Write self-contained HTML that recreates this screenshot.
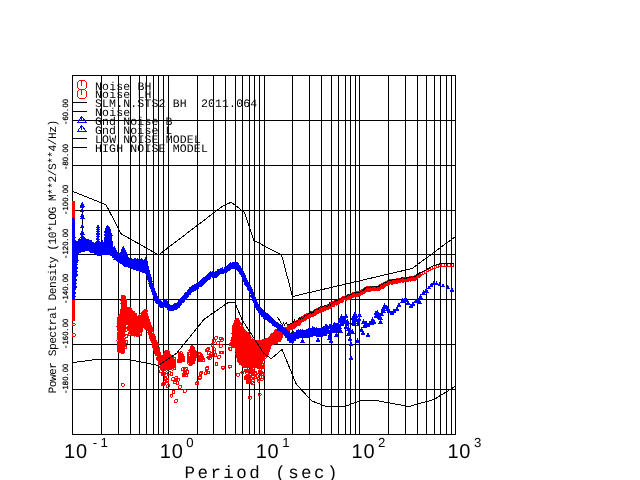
<!DOCTYPE html>
<html><head><meta charset="utf-8"><title>Noise PSD</title>
<style>html,body{margin:0;padding:0;background:#fff}body{width:640px;height:480px;overflow:hidden;position:relative}svg{display:block;position:absolute;left:0;top:0}</style>
</head><body>
<svg width="640" height="480" viewBox="0 0 640 480" shape-rendering="crispEdges">
<rect width="640" height="480" fill="#fff"/>
<path d="M72.5 75V435M101.5 75V435M118.5 75V435M130.5 75V435M139.5 75V435M146.5 75V435M153.5 75V435M158.5 75V435M163.5 75V435M168.5 75V435M197.5 75V435M213.5 75V435M225.5 75V435M235.5 75V435M242.5 75V435M249.5 75V435M254.5 75V435M259.5 75V435M264.5 75V435M292.5 75V435M309.5 75V435M321.5 75V435M331.5 75V435M338.5 75V435M345.5 75V435M350.5 75V435M355.5 75V435M359.5 75V435M388.5 75V435M405.5 75V435M417.5 75V435M426.5 75V435M434.5 75V435M440.5 75V435M446.5 75V435M451.5 75V435M455.5 75V435M72 75.5H456M72 120.5H456M72 165.5H456M72 210.5H456M72 254.5H456M72 299.5H456M72 344.5H456M72 389.5H456M72 434.5H456" stroke="#000" stroke-width="1" fill="none"/>
<defs><clipPath id="c"><rect x="72" y="75" width="384" height="360"/></clipPath></defs>
<g clip-path="url(#c)">
<g stroke="#f00" fill="none" stroke-width="1">
<circle cx="73.5" cy="203.0" r="1.5"/><circle cx="73.5" cy="204.2" r="1.5"/><circle cx="73.5" cy="205.4" r="1.5"/><circle cx="73.5" cy="206.6" r="1.5"/><circle cx="73.5" cy="207.8" r="1.5"/><circle cx="73.5" cy="209.0" r="1.5"/><circle cx="73.5" cy="210.2" r="1.5"/><circle cx="73.5" cy="211.4" r="1.5"/><circle cx="73.5" cy="212.6" r="1.5"/><circle cx="73.5" cy="213.8" r="1.5"/><circle cx="73.5" cy="215.0" r="1.5"/><circle cx="73.5" cy="216.2" r="1.5"/><circle cx="73.5" cy="217.4" r="1.5"/><circle cx="73.5" cy="218.6" r="1.5"/><circle cx="73.5" cy="219.8" r="1.5"/><circle cx="73.5" cy="221.0" r="1.5"/><circle cx="73.5" cy="222.2" r="1.5"/><circle cx="73.5" cy="223.4" r="1.5"/><circle cx="73.5" cy="224.6" r="1.5"/><circle cx="73.5" cy="225.8" r="1.5"/><circle cx="73.5" cy="227.0" r="1.5"/><circle cx="73.5" cy="228.2" r="1.5"/><circle cx="73.5" cy="229.4" r="1.5"/><circle cx="73.5" cy="230.6" r="1.5"/><circle cx="73.5" cy="231.8" r="1.5"/><circle cx="73.5" cy="233.0" r="1.5"/><circle cx="73.5" cy="234.2" r="1.5"/><circle cx="73.5" cy="235.4" r="1.5"/><circle cx="73.5" cy="236.6" r="1.5"/><circle cx="73.5" cy="237.8" r="1.5"/><circle cx="73.5" cy="239.0" r="1.5"/><circle cx="73.5" cy="240.2" r="1.5"/><circle cx="73.5" cy="241.4" r="1.5"/><circle cx="73.5" cy="242.6" r="1.5"/><circle cx="73.5" cy="243.8" r="1.5"/><circle cx="73.5" cy="245.0" r="1.5"/><circle cx="73.5" cy="246.2" r="1.5"/><circle cx="73.5" cy="247.4" r="1.5"/><circle cx="73.5" cy="248.6" r="1.5"/><circle cx="73.5" cy="249.8" r="1.5"/><circle cx="73.5" cy="251.0" r="1.5"/><circle cx="73.5" cy="252.2" r="1.5"/><circle cx="73.5" cy="253.4" r="1.5"/><circle cx="73.5" cy="254.6" r="1.5"/><circle cx="73.5" cy="255.8" r="1.5"/><circle cx="73.5" cy="257.0" r="1.5"/><circle cx="73.5" cy="258.2" r="1.5"/><circle cx="73.5" cy="259.4" r="1.5"/><circle cx="73.5" cy="260.6" r="1.5"/><circle cx="73.5" cy="261.8" r="1.5"/><circle cx="73.5" cy="263.0" r="1.5"/><circle cx="73.5" cy="264.2" r="1.5"/><circle cx="73.5" cy="265.4" r="1.5"/><circle cx="73.5" cy="266.6" r="1.5"/><circle cx="73.5" cy="267.8" r="1.5"/><circle cx="73.5" cy="269.0" r="1.5"/><circle cx="73.5" cy="270.2" r="1.5"/><circle cx="73.5" cy="271.4" r="1.5"/><circle cx="73.5" cy="272.6" r="1.5"/><circle cx="73.5" cy="273.8" r="1.5"/><circle cx="73.5" cy="275.0" r="1.5"/><circle cx="73.5" cy="276.2" r="1.5"/><circle cx="73.5" cy="277.4" r="1.5"/><circle cx="73.5" cy="278.6" r="1.5"/><circle cx="73.5" cy="279.8" r="1.5"/><circle cx="73.5" cy="281.0" r="1.5"/><circle cx="73.5" cy="282.2" r="1.5"/><circle cx="73.5" cy="283.4" r="1.5"/><circle cx="73.5" cy="284.6" r="1.5"/><circle cx="73.5" cy="285.8" r="1.5"/><circle cx="73.5" cy="287.0" r="1.5"/><circle cx="73.5" cy="288.2" r="1.5"/><circle cx="73.5" cy="289.4" r="1.5"/><circle cx="73.5" cy="290.6" r="1.5"/><circle cx="73.5" cy="291.8" r="1.5"/><circle cx="73.5" cy="293.0" r="1.5"/><circle cx="73.5" cy="294.2" r="1.5"/><circle cx="73.5" cy="295.4" r="1.5"/><circle cx="73.5" cy="296.6" r="1.5"/><circle cx="73.5" cy="297.8" r="1.5"/><circle cx="73.5" cy="299.0" r="1.5"/><circle cx="73.5" cy="300.2" r="1.5"/><circle cx="73.5" cy="301.4" r="1.5"/><circle cx="73.5" cy="302.6" r="1.5"/><circle cx="73.5" cy="303.8" r="1.5"/><circle cx="73.5" cy="305.0" r="1.5"/><circle cx="73.5" cy="306.2" r="1.5"/><circle cx="73.5" cy="307.4" r="1.5"/><circle cx="73.5" cy="308.6" r="1.5"/><circle cx="73.5" cy="309.8" r="1.5"/><circle cx="73.5" cy="311.0" r="1.5"/><circle cx="73.5" cy="312.2" r="1.5"/><circle cx="73.5" cy="313.4" r="1.5"/><circle cx="73.5" cy="314.6" r="1.5"/><circle cx="73.5" cy="315.8" r="1.5"/><circle cx="73.5" cy="317.0" r="1.5"/><circle cx="73.5" cy="318.2" r="1.5"/><circle cx="73.5" cy="319.4" r="1.5"/><circle cx="73.7" cy="324.5" r="1.5"/><circle cx="73.7" cy="335.0" r="1.5"/><circle cx="118.8" cy="318.6" r="1.5"/><circle cx="119.2" cy="320.2" r="1.5"/><circle cx="118.8" cy="322.0" r="1.5"/><circle cx="118.5" cy="323.6" r="1.5"/><circle cx="118.9" cy="325.6" r="1.5"/><circle cx="118.4" cy="326.8" r="1.5"/><circle cx="118.4" cy="329.0" r="1.5"/><circle cx="119.0" cy="329.9" r="1.5"/><circle cx="119.3" cy="332.6" r="1.5"/><circle cx="119.0" cy="333.9" r="1.5"/><circle cx="118.5" cy="335.0" r="1.5"/><circle cx="118.8" cy="336.8" r="1.5"/><circle cx="118.5" cy="338.6" r="1.5"/><circle cx="118.3" cy="340.6" r="1.5"/><circle cx="118.7" cy="342.6" r="1.5"/><circle cx="118.8" cy="344.1" r="1.5"/><circle cx="118.8" cy="345.9" r="1.5"/><circle cx="118.8" cy="347.2" r="1.5"/><circle cx="119.3" cy="349.6" r="1.5"/><circle cx="119.1" cy="351.0" r="1.5"/><circle cx="119.5" cy="316.7" r="1.5"/><circle cx="119.5" cy="318.3" r="1.5"/><circle cx="120.0" cy="320.3" r="1.5"/><circle cx="120.0" cy="322.0" r="1.5"/><circle cx="120.2" cy="324.1" r="1.5"/><circle cx="119.2" cy="325.2" r="1.5"/><circle cx="120.1" cy="327.2" r="1.5"/><circle cx="120.2" cy="328.8" r="1.5"/><circle cx="119.3" cy="330.7" r="1.5"/><circle cx="120.0" cy="332.1" r="1.5"/><circle cx="119.3" cy="333.8" r="1.5"/><circle cx="120.2" cy="336.0" r="1.5"/><circle cx="119.3" cy="337.1" r="1.5"/><circle cx="119.3" cy="338.7" r="1.5"/><circle cx="120.0" cy="340.5" r="1.5"/><circle cx="119.8" cy="342.4" r="1.5"/><circle cx="119.4" cy="344.4" r="1.5"/><circle cx="119.3" cy="346.0" r="1.5"/><circle cx="119.3" cy="347.5" r="1.5"/><circle cx="119.4" cy="349.1" r="1.5"/><circle cx="120.2" cy="351.3" r="1.5"/><circle cx="120.4" cy="315.9" r="1.5"/><circle cx="120.3" cy="317.1" r="1.5"/><circle cx="121.0" cy="319.0" r="1.5"/><circle cx="120.2" cy="321.1" r="1.5"/><circle cx="120.3" cy="322.1" r="1.5"/><circle cx="120.9" cy="323.8" r="1.5"/><circle cx="120.4" cy="325.3" r="1.5"/><circle cx="120.2" cy="327.5" r="1.5"/><circle cx="120.3" cy="329.2" r="1.5"/><circle cx="120.5" cy="330.8" r="1.5"/><circle cx="121.1" cy="332.5" r="1.5"/><circle cx="120.7" cy="334.6" r="1.5"/><circle cx="120.3" cy="335.6" r="1.5"/><circle cx="121.0" cy="337.9" r="1.5"/><circle cx="120.3" cy="339.0" r="1.5"/><circle cx="120.8" cy="341.4" r="1.5"/><circle cx="120.3" cy="343.2" r="1.5"/><circle cx="121.0" cy="344.5" r="1.5"/><circle cx="120.5" cy="345.7" r="1.5"/><circle cx="120.1" cy="348.3" r="1.5"/><circle cx="120.3" cy="349.7" r="1.5"/><circle cx="120.4" cy="351.5" r="1.5"/><circle cx="121.6" cy="313.8" r="1.5"/><circle cx="121.2" cy="315.9" r="1.5"/><circle cx="121.1" cy="317.1" r="1.5"/><circle cx="121.6" cy="319.5" r="1.5"/><circle cx="121.6" cy="320.6" r="1.5"/><circle cx="121.9" cy="322.2" r="1.5"/><circle cx="121.0" cy="324.0" r="1.5"/><circle cx="121.4" cy="325.5" r="1.5"/><circle cx="121.2" cy="327.5" r="1.5"/><circle cx="121.6" cy="328.9" r="1.5"/><circle cx="121.4" cy="331.4" r="1.5"/><circle cx="122.0" cy="332.9" r="1.5"/><circle cx="121.7" cy="334.5" r="1.5"/><circle cx="121.1" cy="335.6" r="1.5"/><circle cx="121.0" cy="338.2" r="1.5"/><circle cx="121.7" cy="340.0" r="1.5"/><circle cx="121.0" cy="341.3" r="1.5"/><circle cx="121.5" cy="343.1" r="1.5"/><circle cx="121.3" cy="345.1" r="1.5"/><circle cx="121.1" cy="346.3" r="1.5"/><circle cx="121.7" cy="348.4" r="1.5"/><circle cx="121.7" cy="349.9" r="1.5"/><circle cx="121.8" cy="351.8" r="1.5"/><circle cx="122.3" cy="300.3" r="1.5"/><circle cx="122.8" cy="302.2" r="1.5"/><circle cx="122.3" cy="303.8" r="1.5"/><circle cx="122.8" cy="305.3" r="1.5"/><circle cx="122.5" cy="306.8" r="1.5"/><circle cx="122.5" cy="308.7" r="1.5"/><circle cx="122.0" cy="310.4" r="1.5"/><circle cx="122.9" cy="312.4" r="1.5"/><circle cx="122.6" cy="313.6" r="1.5"/><circle cx="122.6" cy="315.5" r="1.5"/><circle cx="122.3" cy="317.4" r="1.5"/><circle cx="122.0" cy="319.0" r="1.5"/><circle cx="121.9" cy="320.6" r="1.5"/><circle cx="122.4" cy="321.9" r="1.5"/><circle cx="122.6" cy="323.9" r="1.5"/><circle cx="122.5" cy="326.0" r="1.5"/><circle cx="122.2" cy="326.8" r="1.5"/><circle cx="122.2" cy="329.2" r="1.5"/><circle cx="122.1" cy="330.4" r="1.5"/><circle cx="122.8" cy="332.6" r="1.5"/><circle cx="122.3" cy="334.5" r="1.5"/><circle cx="122.2" cy="336.0" r="1.5"/><circle cx="122.1" cy="337.4" r="1.5"/><circle cx="122.7" cy="339.6" r="1.5"/><circle cx="122.8" cy="340.8" r="1.5"/><circle cx="122.5" cy="342.4" r="1.5"/><circle cx="122.0" cy="344.3" r="1.5"/><circle cx="122.7" cy="346.3" r="1.5"/><circle cx="122.6" cy="348.1" r="1.5"/><circle cx="122.2" cy="349.1" r="1.5"/><circle cx="122.4" cy="350.9" r="1.5"/><circle cx="123.0" cy="296.9" r="1.5"/><circle cx="123.4" cy="298.7" r="1.5"/><circle cx="123.1" cy="300.7" r="1.5"/><circle cx="123.8" cy="302.1" r="1.5"/><circle cx="122.9" cy="303.3" r="1.5"/><circle cx="123.7" cy="305.0" r="1.5"/><circle cx="123.5" cy="307.3" r="1.5"/><circle cx="123.1" cy="309.2" r="1.5"/><circle cx="122.8" cy="310.2" r="1.5"/><circle cx="123.3" cy="311.8" r="1.5"/><circle cx="123.6" cy="313.7" r="1.5"/><circle cx="122.9" cy="315.2" r="1.5"/><circle cx="123.4" cy="317.3" r="1.5"/><circle cx="123.4" cy="319.3" r="1.5"/><circle cx="123.6" cy="321.3" r="1.5"/><circle cx="123.5" cy="322.2" r="1.5"/><circle cx="123.3" cy="323.9" r="1.5"/><circle cx="122.8" cy="325.9" r="1.5"/><circle cx="123.5" cy="327.3" r="1.5"/><circle cx="123.1" cy="329.1" r="1.5"/><circle cx="123.5" cy="331.0" r="1.5"/><circle cx="123.4" cy="333.0" r="1.5"/><circle cx="123.2" cy="334.7" r="1.5"/><circle cx="123.7" cy="335.7" r="1.5"/><circle cx="123.7" cy="338.0" r="1.5"/><circle cx="122.9" cy="339.5" r="1.5"/><circle cx="123.4" cy="341.6" r="1.5"/><circle cx="123.2" cy="343.0" r="1.5"/><circle cx="123.7" cy="344.9" r="1.5"/><circle cx="123.7" cy="346.3" r="1.5"/><circle cx="123.5" cy="347.7" r="1.5"/><circle cx="123.5" cy="350.0" r="1.5"/><circle cx="123.4" cy="351.6" r="1.5"/><circle cx="123.9" cy="297.4" r="1.5"/><circle cx="124.7" cy="299.2" r="1.5"/><circle cx="124.2" cy="300.7" r="1.5"/><circle cx="124.0" cy="302.5" r="1.5"/><circle cx="124.6" cy="303.6" r="1.5"/><circle cx="123.8" cy="305.4" r="1.5"/><circle cx="124.3" cy="307.5" r="1.5"/><circle cx="124.2" cy="308.4" r="1.5"/><circle cx="124.5" cy="310.2" r="1.5"/><circle cx="124.5" cy="312.0" r="1.5"/><circle cx="124.0" cy="314.3" r="1.5"/><circle cx="123.8" cy="315.3" r="1.5"/><circle cx="124.2" cy="317.6" r="1.5"/><circle cx="124.5" cy="319.3" r="1.5"/><circle cx="124.6" cy="320.8" r="1.5"/><circle cx="124.6" cy="322.1" r="1.5"/><circle cx="123.9" cy="324.2" r="1.5"/><circle cx="124.0" cy="326.1" r="1.5"/><circle cx="124.3" cy="327.6" r="1.5"/><circle cx="124.5" cy="329.4" r="1.5"/><circle cx="124.0" cy="330.9" r="1.5"/><circle cx="125.4" cy="300.8" r="1.5"/><circle cx="124.8" cy="302.5" r="1.5"/><circle cx="125.6" cy="303.9" r="1.5"/><circle cx="125.2" cy="305.2" r="1.5"/><circle cx="125.1" cy="307.2" r="1.5"/><circle cx="125.2" cy="308.5" r="1.5"/><circle cx="125.6" cy="310.6" r="1.5"/><circle cx="125.0" cy="312.6" r="1.5"/><circle cx="125.2" cy="314.0" r="1.5"/><circle cx="125.3" cy="315.3" r="1.5"/><circle cx="125.1" cy="317.3" r="1.5"/><circle cx="125.6" cy="319.6" r="1.5"/><circle cx="124.9" cy="320.8" r="1.5"/><circle cx="124.7" cy="322.5" r="1.5"/><circle cx="126.3" cy="309.3" r="1.5"/><circle cx="126.0" cy="310.5" r="1.5"/><circle cx="125.7" cy="312.5" r="1.5"/><circle cx="126.4" cy="313.7" r="1.5"/><circle cx="126.3" cy="315.3" r="1.5"/><circle cx="125.7" cy="317.2" r="1.5"/><circle cx="126.2" cy="319.0" r="1.5"/><circle cx="125.9" cy="321.0" r="1.5"/><circle cx="125.6" cy="322.8" r="1.5"/><circle cx="126.5" cy="308.8" r="1.5"/><circle cx="126.7" cy="310.2" r="1.5"/><circle cx="126.9" cy="312.1" r="1.5"/><circle cx="126.8" cy="313.8" r="1.5"/><circle cx="126.9" cy="315.3" r="1.5"/><circle cx="126.6" cy="317.4" r="1.5"/><circle cx="127.0" cy="319.0" r="1.5"/><circle cx="127.3" cy="320.8" r="1.5"/><circle cx="127.3" cy="322.1" r="1.5"/><circle cx="128.0" cy="309.0" r="1.5"/><circle cx="128.2" cy="310.2" r="1.5"/><circle cx="127.6" cy="312.5" r="1.5"/><circle cx="127.5" cy="314.2" r="1.5"/><circle cx="128.2" cy="315.1" r="1.5"/><circle cx="127.5" cy="317.4" r="1.5"/><circle cx="127.6" cy="318.4" r="1.5"/><circle cx="128.1" cy="320.5" r="1.5"/><circle cx="128.1" cy="321.9" r="1.5"/><circle cx="128.6" cy="308.7" r="1.5"/><circle cx="128.2" cy="309.9" r="1.5"/><circle cx="128.9" cy="312.3" r="1.5"/><circle cx="129.2" cy="313.2" r="1.5"/><circle cx="128.7" cy="315.6" r="1.5"/><circle cx="128.7" cy="317.2" r="1.5"/><circle cx="128.4" cy="318.3" r="1.5"/><circle cx="128.3" cy="319.9" r="1.5"/><circle cx="128.8" cy="322.1" r="1.5"/><circle cx="129.7" cy="309.0" r="1.5"/><circle cx="129.3" cy="310.8" r="1.5"/><circle cx="129.9" cy="313.3" r="1.5"/><circle cx="130.0" cy="314.1" r="1.5"/><circle cx="129.2" cy="316.6" r="1.5"/><circle cx="129.6" cy="318.2" r="1.5"/><circle cx="129.4" cy="319.6" r="1.5"/><circle cx="129.6" cy="321.2" r="1.5"/><circle cx="129.7" cy="322.5" r="1.5"/><circle cx="129.8" cy="325.0" r="1.5"/><circle cx="129.3" cy="326.3" r="1.5"/><circle cx="129.8" cy="328.0" r="1.5"/><circle cx="129.3" cy="329.5" r="1.5"/><circle cx="130.5" cy="309.8" r="1.5"/><circle cx="130.9" cy="312.3" r="1.5"/><circle cx="130.7" cy="314.1" r="1.5"/><circle cx="130.6" cy="315.3" r="1.5"/><circle cx="130.6" cy="317.1" r="1.5"/><circle cx="131.0" cy="319.1" r="1.5"/><circle cx="130.3" cy="320.9" r="1.5"/><circle cx="130.7" cy="322.5" r="1.5"/><circle cx="130.8" cy="323.8" r="1.5"/><circle cx="130.9" cy="326.0" r="1.5"/><circle cx="130.7" cy="327.6" r="1.5"/><circle cx="130.8" cy="328.9" r="1.5"/><circle cx="130.7" cy="330.3" r="1.5"/><circle cx="130.3" cy="332.4" r="1.5"/><circle cx="130.0" cy="334.0" r="1.5"/><circle cx="131.5" cy="311.4" r="1.5"/><circle cx="131.1" cy="313.4" r="1.5"/><circle cx="131.6" cy="314.5" r="1.5"/><circle cx="131.6" cy="316.4" r="1.5"/><circle cx="131.4" cy="318.0" r="1.5"/><circle cx="131.9" cy="319.9" r="1.5"/><circle cx="131.6" cy="321.7" r="1.5"/><circle cx="131.9" cy="322.7" r="1.5"/><circle cx="131.5" cy="325.1" r="1.5"/><circle cx="131.2" cy="326.5" r="1.5"/><circle cx="131.0" cy="328.0" r="1.5"/><circle cx="131.3" cy="329.6" r="1.5"/><circle cx="131.2" cy="332.1" r="1.5"/><circle cx="131.5" cy="333.4" r="1.5"/><circle cx="132.8" cy="312.3" r="1.5"/><circle cx="132.8" cy="314.1" r="1.5"/><circle cx="132.6" cy="315.2" r="1.5"/><circle cx="132.4" cy="317.6" r="1.5"/><circle cx="131.8" cy="319.4" r="1.5"/><circle cx="132.0" cy="320.7" r="1.5"/><circle cx="132.0" cy="322.4" r="1.5"/><circle cx="132.4" cy="323.7" r="1.5"/><circle cx="132.7" cy="325.7" r="1.5"/><circle cx="132.3" cy="327.6" r="1.5"/><circle cx="132.2" cy="329.0" r="1.5"/><circle cx="132.5" cy="331.0" r="1.5"/><circle cx="132.1" cy="332.8" r="1.5"/><circle cx="132.1" cy="333.8" r="1.5"/><circle cx="132.9" cy="312.7" r="1.5"/><circle cx="132.9" cy="315.1" r="1.5"/><circle cx="133.1" cy="317.0" r="1.5"/><circle cx="133.4" cy="317.8" r="1.5"/><circle cx="133.7" cy="320.4" r="1.5"/><circle cx="132.8" cy="322.1" r="1.5"/><circle cx="133.1" cy="323.3" r="1.5"/><circle cx="133.7" cy="324.8" r="1.5"/><circle cx="133.2" cy="327.2" r="1.5"/><circle cx="133.4" cy="328.4" r="1.5"/><circle cx="133.7" cy="330.5" r="1.5"/><circle cx="133.3" cy="331.5" r="1.5"/><circle cx="133.3" cy="333.5" r="1.5"/><circle cx="133.8" cy="313.7" r="1.5"/><circle cx="134.1" cy="315.5" r="1.5"/><circle cx="134.0" cy="317.7" r="1.5"/><circle cx="134.1" cy="319.0" r="1.5"/><circle cx="134.2" cy="320.9" r="1.5"/><circle cx="134.4" cy="322.7" r="1.5"/><circle cx="134.6" cy="324.8" r="1.5"/><circle cx="134.3" cy="325.8" r="1.5"/><circle cx="133.7" cy="328.1" r="1.5"/><circle cx="134.4" cy="329.6" r="1.5"/><circle cx="134.0" cy="330.9" r="1.5"/><circle cx="134.3" cy="332.9" r="1.5"/><circle cx="134.2" cy="334.7" r="1.5"/><circle cx="135.3" cy="315.0" r="1.5"/><circle cx="134.7" cy="317.5" r="1.5"/><circle cx="135.4" cy="319.1" r="1.5"/><circle cx="134.5" cy="320.0" r="1.5"/><circle cx="134.8" cy="322.1" r="1.5"/><circle cx="135.1" cy="323.4" r="1.5"/><circle cx="135.0" cy="325.1" r="1.5"/><circle cx="134.6" cy="327.4" r="1.5"/><circle cx="135.1" cy="329.1" r="1.5"/><circle cx="134.9" cy="330.6" r="1.5"/><circle cx="134.7" cy="332.2" r="1.5"/><circle cx="135.2" cy="334.4" r="1.5"/><circle cx="135.5" cy="316.2" r="1.5"/><circle cx="136.2" cy="318.4" r="1.5"/><circle cx="136.2" cy="319.6" r="1.5"/><circle cx="135.8" cy="321.4" r="1.5"/><circle cx="136.2" cy="323.2" r="1.5"/><circle cx="136.1" cy="325.5" r="1.5"/><circle cx="135.7" cy="326.8" r="1.5"/><circle cx="136.1" cy="328.9" r="1.5"/><circle cx="135.8" cy="330.0" r="1.5"/><circle cx="135.5" cy="332.2" r="1.5"/><circle cx="135.5" cy="333.1" r="1.5"/><circle cx="136.9" cy="317.7" r="1.5"/><circle cx="137.0" cy="319.2" r="1.5"/><circle cx="137.1" cy="320.7" r="1.5"/><circle cx="136.5" cy="323.0" r="1.5"/><circle cx="136.4" cy="324.3" r="1.5"/><circle cx="137.0" cy="326.4" r="1.5"/><circle cx="136.6" cy="327.6" r="1.5"/><circle cx="136.7" cy="329.9" r="1.5"/><circle cx="136.7" cy="331.0" r="1.5"/><circle cx="137.0" cy="333.1" r="1.5"/><circle cx="137.2" cy="335.2" r="1.5"/><circle cx="138.1" cy="317.7" r="1.5"/><circle cx="138.0" cy="319.3" r="1.5"/><circle cx="137.5" cy="321.1" r="1.5"/><circle cx="138.1" cy="323.3" r="1.5"/><circle cx="137.4" cy="324.4" r="1.5"/><circle cx="137.6" cy="326.1" r="1.5"/><circle cx="137.6" cy="327.9" r="1.5"/><circle cx="137.4" cy="329.7" r="1.5"/><circle cx="138.0" cy="331.4" r="1.5"/><circle cx="138.0" cy="333.1" r="1.5"/><circle cx="137.4" cy="335.0" r="1.5"/><circle cx="139.0" cy="317.2" r="1.5"/><circle cx="138.1" cy="319.2" r="1.5"/><circle cx="138.6" cy="320.9" r="1.5"/><circle cx="139.1" cy="322.7" r="1.5"/><circle cx="138.9" cy="323.8" r="1.5"/><circle cx="138.6" cy="326.3" r="1.5"/><circle cx="138.2" cy="327.2" r="1.5"/><circle cx="138.8" cy="329.8" r="1.5"/><circle cx="138.2" cy="331.2" r="1.5"/><circle cx="138.2" cy="333.0" r="1.5"/><circle cx="138.7" cy="334.2" r="1.5"/><circle cx="139.2" cy="317.4" r="1.5"/><circle cx="139.5" cy="319.1" r="1.5"/><circle cx="139.4" cy="320.4" r="1.5"/><circle cx="140.0" cy="322.4" r="1.5"/><circle cx="139.5" cy="324.0" r="1.5"/><circle cx="139.7" cy="325.9" r="1.5"/><circle cx="139.9" cy="327.3" r="1.5"/><circle cx="139.8" cy="329.2" r="1.5"/><circle cx="139.9" cy="331.1" r="1.5"/><circle cx="139.8" cy="332.9" r="1.5"/><circle cx="140.0" cy="334.3" r="1.5"/><circle cx="140.4" cy="316.7" r="1.5"/><circle cx="140.7" cy="318.1" r="1.5"/><circle cx="140.3" cy="319.5" r="1.5"/><circle cx="140.6" cy="322.1" r="1.5"/><circle cx="140.3" cy="323.0" r="1.5"/><circle cx="140.1" cy="324.9" r="1.5"/><circle cx="140.2" cy="327.2" r="1.5"/><circle cx="140.0" cy="328.2" r="1.5"/><circle cx="140.0" cy="330.2" r="1.5"/><circle cx="140.7" cy="331.5" r="1.5"/><circle cx="140.9" cy="315.3" r="1.5"/><circle cx="141.4" cy="317.5" r="1.5"/><circle cx="140.8" cy="318.4" r="1.5"/><circle cx="141.0" cy="320.2" r="1.5"/><circle cx="141.0" cy="322.4" r="1.5"/><circle cx="141.4" cy="323.6" r="1.5"/><circle cx="141.0" cy="325.4" r="1.5"/><circle cx="141.0" cy="327.5" r="1.5"/><circle cx="141.1" cy="329.0" r="1.5"/><circle cx="142.5" cy="314.2" r="1.5"/><circle cx="142.0" cy="316.3" r="1.5"/><circle cx="142.6" cy="317.5" r="1.5"/><circle cx="142.2" cy="319.8" r="1.5"/><circle cx="142.2" cy="320.8" r="1.5"/><circle cx="141.7" cy="323.2" r="1.5"/><circle cx="142.5" cy="324.3" r="1.5"/><circle cx="143.1" cy="313.1" r="1.5"/><circle cx="142.9" cy="315.3" r="1.5"/><circle cx="143.3" cy="316.3" r="1.5"/><circle cx="142.6" cy="318.2" r="1.5"/><circle cx="143.0" cy="320.2" r="1.5"/><circle cx="143.3" cy="321.7" r="1.5"/><circle cx="142.8" cy="323.0" r="1.5"/><circle cx="142.9" cy="324.8" r="1.5"/><circle cx="144.4" cy="312.0" r="1.5"/><circle cx="144.1" cy="314.2" r="1.5"/><circle cx="143.8" cy="315.4" r="1.5"/><circle cx="143.7" cy="317.4" r="1.5"/><circle cx="143.5" cy="319.1" r="1.5"/><circle cx="144.3" cy="320.8" r="1.5"/><circle cx="143.6" cy="322.0" r="1.5"/><circle cx="144.2" cy="323.5" r="1.5"/><circle cx="144.0" cy="325.6" r="1.5"/><circle cx="145.4" cy="311.0" r="1.5"/><circle cx="145.3" cy="312.4" r="1.5"/><circle cx="145.2" cy="314.2" r="1.5"/><circle cx="145.3" cy="315.6" r="1.5"/><circle cx="145.2" cy="317.4" r="1.5"/><circle cx="144.9" cy="319.4" r="1.5"/><circle cx="144.6" cy="321.4" r="1.5"/><circle cx="144.7" cy="322.6" r="1.5"/><circle cx="144.5" cy="324.3" r="1.5"/><circle cx="144.9" cy="326.4" r="1.5"/><circle cx="145.7" cy="311.0" r="1.5"/><circle cx="145.4" cy="312.4" r="1.5"/><circle cx="145.8" cy="314.7" r="1.5"/><circle cx="146.1" cy="316.0" r="1.5"/><circle cx="145.3" cy="317.5" r="1.5"/><circle cx="146.0" cy="319.0" r="1.5"/><circle cx="145.9" cy="320.9" r="1.5"/><circle cx="145.3" cy="323.2" r="1.5"/><circle cx="146.1" cy="324.1" r="1.5"/><circle cx="145.9" cy="325.9" r="1.5"/><circle cx="145.7" cy="327.8" r="1.5"/><circle cx="146.5" cy="314.2" r="1.5"/><circle cx="146.6" cy="316.2" r="1.5"/><circle cx="146.5" cy="317.5" r="1.5"/><circle cx="146.9" cy="319.3" r="1.5"/><circle cx="147.1" cy="321.2" r="1.5"/><circle cx="146.9" cy="322.7" r="1.5"/><circle cx="147.0" cy="324.1" r="1.5"/><circle cx="146.3" cy="325.8" r="1.5"/><circle cx="146.9" cy="328.2" r="1.5"/><circle cx="147.3" cy="317.8" r="1.5"/><circle cx="147.9" cy="319.7" r="1.5"/><circle cx="147.2" cy="321.0" r="1.5"/><circle cx="147.3" cy="322.6" r="1.5"/><circle cx="147.5" cy="324.3" r="1.5"/><circle cx="148.0" cy="326.3" r="1.5"/><circle cx="147.6" cy="328.3" r="1.5"/><circle cx="126.0" cy="330.0" r="1.5"/><circle cx="126.3" cy="336.0" r="1.5"/><circle cx="126.5" cy="342.0" r="1.5"/><circle cx="125.2" cy="347.0" r="1.5"/><circle cx="127.0" cy="326.0" r="1.5"/><circle cx="147.5" cy="325.1" r="1.5"/><circle cx="148.3" cy="327.9" r="1.5"/><circle cx="149.1" cy="326.5" r="1.5"/><circle cx="149.9" cy="328.0" r="1.5"/><circle cx="150.7" cy="331.2" r="1.5"/><circle cx="151.5" cy="329.5" r="1.5"/><circle cx="152.3" cy="335.8" r="1.5"/><circle cx="153.1" cy="341.4" r="1.5"/><circle cx="153.9" cy="346.8" r="1.5"/><circle cx="154.7" cy="347.0" r="1.5"/><circle cx="155.5" cy="347.8" r="1.5"/><circle cx="156.3" cy="349.5" r="1.5"/><circle cx="157.1" cy="344.8" r="1.5"/><circle cx="157.9" cy="350.7" r="1.5"/><circle cx="158.7" cy="352.3" r="1.5"/><circle cx="147.6" cy="324.6" r="1.5"/><circle cx="148.4" cy="322.5" r="1.5"/><circle cx="149.2" cy="326.6" r="1.5"/><circle cx="150.0" cy="330.1" r="1.5"/><circle cx="150.8" cy="335.3" r="1.5"/><circle cx="151.6" cy="338.2" r="1.5"/><circle cx="152.4" cy="338.4" r="1.5"/><circle cx="153.2" cy="335.8" r="1.5"/><circle cx="154.0" cy="344.7" r="1.5"/><circle cx="154.8" cy="348.5" r="1.5"/><circle cx="155.6" cy="346.8" r="1.5"/><circle cx="156.4" cy="346.8" r="1.5"/><circle cx="157.2" cy="350.8" r="1.5"/><circle cx="158.0" cy="348.7" r="1.5"/><circle cx="158.8" cy="356.7" r="1.5"/><circle cx="147.7" cy="327.2" r="1.5"/><circle cx="148.5" cy="326.0" r="1.5"/><circle cx="149.3" cy="329.9" r="1.5"/><circle cx="150.1" cy="333.7" r="1.5"/><circle cx="150.9" cy="329.6" r="1.5"/><circle cx="151.7" cy="339.7" r="1.5"/><circle cx="152.5" cy="338.9" r="1.5"/><circle cx="153.3" cy="336.5" r="1.5"/><circle cx="154.1" cy="337.4" r="1.5"/><circle cx="154.9" cy="341.4" r="1.5"/><circle cx="155.7" cy="347.4" r="1.5"/><circle cx="156.5" cy="351.1" r="1.5"/><circle cx="157.3" cy="349.0" r="1.5"/><circle cx="158.1" cy="358.3" r="1.5"/><circle cx="158.9" cy="352.9" r="1.5"/><circle cx="147.8" cy="323.8" r="1.5"/><circle cx="148.6" cy="323.1" r="1.5"/><circle cx="149.4" cy="332.6" r="1.5"/><circle cx="150.2" cy="326.9" r="1.5"/><circle cx="151.0" cy="337.1" r="1.5"/><circle cx="151.8" cy="335.9" r="1.5"/><circle cx="152.6" cy="338.4" r="1.5"/><circle cx="153.4" cy="340.7" r="1.5"/><circle cx="154.2" cy="339.7" r="1.5"/><circle cx="155.0" cy="349.2" r="1.5"/><circle cx="155.8" cy="352.5" r="1.5"/><circle cx="156.6" cy="352.8" r="1.5"/><circle cx="157.4" cy="352.5" r="1.5"/><circle cx="158.2" cy="348.9" r="1.5"/><circle cx="159.0" cy="358.2" r="1.5"/><circle cx="147.9" cy="322.8" r="1.5"/><circle cx="148.7" cy="329.7" r="1.5"/><circle cx="149.5" cy="326.1" r="1.5"/><circle cx="150.3" cy="331.6" r="1.5"/><circle cx="151.1" cy="336.7" r="1.5"/><circle cx="151.9" cy="332.4" r="1.5"/><circle cx="152.7" cy="338.6" r="1.5"/><circle cx="153.5" cy="335.7" r="1.5"/><circle cx="154.3" cy="337.4" r="1.5"/><circle cx="155.1" cy="341.3" r="1.5"/><circle cx="155.9" cy="352.7" r="1.5"/><circle cx="156.7" cy="354.5" r="1.5"/><circle cx="157.5" cy="353.5" r="1.5"/><circle cx="158.3" cy="351.2" r="1.5"/><circle cx="159.1" cy="356.6" r="1.5"/><circle cx="148.0" cy="326.3" r="1.5"/><circle cx="148.8" cy="325.7" r="1.5"/><circle cx="149.6" cy="329.7" r="1.5"/><circle cx="150.4" cy="334.3" r="1.5"/><circle cx="151.2" cy="328.6" r="1.5"/><circle cx="152.0" cy="332.8" r="1.5"/><circle cx="152.8" cy="338.0" r="1.5"/><circle cx="153.6" cy="336.7" r="1.5"/><circle cx="154.4" cy="341.6" r="1.5"/><circle cx="155.2" cy="345.9" r="1.5"/><circle cx="156.0" cy="343.6" r="1.5"/><circle cx="156.8" cy="349.9" r="1.5"/><circle cx="157.6" cy="349.1" r="1.5"/><circle cx="158.4" cy="354.4" r="1.5"/><circle cx="159.2" cy="353.1" r="1.5"/><circle cx="148.1" cy="325.9" r="1.5"/><circle cx="148.9" cy="323.0" r="1.5"/><circle cx="149.7" cy="330.7" r="1.5"/><circle cx="150.5" cy="327.9" r="1.5"/><circle cx="151.3" cy="338.6" r="1.5"/><circle cx="152.1" cy="337.4" r="1.5"/><circle cx="152.9" cy="338.3" r="1.5"/><circle cx="153.7" cy="339.9" r="1.5"/><circle cx="154.5" cy="344.5" r="1.5"/><circle cx="155.3" cy="347.6" r="1.5"/><circle cx="156.1" cy="350.7" r="1.5"/><circle cx="156.9" cy="352.9" r="1.5"/><circle cx="157.7" cy="352.0" r="1.5"/><circle cx="158.5" cy="359.5" r="1.5"/><circle cx="159.3" cy="358.7" r="1.5"/><circle cx="160.2" cy="357.9" r="1.5"/><circle cx="160.0" cy="359.8" r="1.5"/><circle cx="160.2" cy="361.6" r="1.5"/><circle cx="160.0" cy="363.4" r="1.5"/><circle cx="160.2" cy="365.1" r="1.5"/><circle cx="161.2" cy="357.1" r="1.5"/><circle cx="161.7" cy="358.9" r="1.5"/><circle cx="161.6" cy="360.8" r="1.5"/><circle cx="161.4" cy="362.5" r="1.5"/><circle cx="161.2" cy="364.0" r="1.5"/><circle cx="161.5" cy="366.0" r="1.5"/><circle cx="161.4" cy="367.5" r="1.5"/><circle cx="163.1" cy="357.0" r="1.5"/><circle cx="162.8" cy="358.7" r="1.5"/><circle cx="162.9" cy="360.4" r="1.5"/><circle cx="162.7" cy="362.6" r="1.5"/><circle cx="163.3" cy="364.3" r="1.5"/><circle cx="163.2" cy="366.0" r="1.5"/><circle cx="163.2" cy="367.6" r="1.5"/><circle cx="163.1" cy="369.6" r="1.5"/><circle cx="164.7" cy="354.8" r="1.5"/><circle cx="164.7" cy="356.6" r="1.5"/><circle cx="164.5" cy="358.9" r="1.5"/><circle cx="164.2" cy="360.2" r="1.5"/><circle cx="164.4" cy="362.1" r="1.5"/><circle cx="164.2" cy="364.2" r="1.5"/><circle cx="164.7" cy="365.7" r="1.5"/><circle cx="164.4" cy="367.7" r="1.5"/><circle cx="164.2" cy="369.1" r="1.5"/><circle cx="166.2" cy="351.9" r="1.5"/><circle cx="166.0" cy="354.1" r="1.5"/><circle cx="166.3" cy="355.6" r="1.5"/><circle cx="165.8" cy="357.3" r="1.5"/><circle cx="166.3" cy="359.4" r="1.5"/><circle cx="165.8" cy="361.2" r="1.5"/><circle cx="165.9" cy="362.8" r="1.5"/><circle cx="165.8" cy="364.8" r="1.5"/><circle cx="166.3" cy="366.2" r="1.5"/><circle cx="166.1" cy="368.0" r="1.5"/><circle cx="166.2" cy="369.7" r="1.5"/><circle cx="166.8" cy="351.6" r="1.5"/><circle cx="166.9" cy="353.5" r="1.5"/><circle cx="167.2" cy="355.2" r="1.5"/><circle cx="166.8" cy="357.0" r="1.5"/><circle cx="167.3" cy="358.7" r="1.5"/><circle cx="166.7" cy="360.3" r="1.5"/><circle cx="166.9" cy="362.4" r="1.5"/><circle cx="166.8" cy="363.9" r="1.5"/><circle cx="166.8" cy="366.0" r="1.5"/><circle cx="167.2" cy="367.6" r="1.5"/><circle cx="168.1" cy="352.2" r="1.5"/><circle cx="168.1" cy="353.6" r="1.5"/><circle cx="167.9" cy="355.9" r="1.5"/><circle cx="168.1" cy="357.3" r="1.5"/><circle cx="168.1" cy="359.0" r="1.5"/><circle cx="168.3" cy="361.0" r="1.5"/><circle cx="168.0" cy="362.8" r="1.5"/><circle cx="167.7" cy="364.7" r="1.5"/><circle cx="167.9" cy="366.3" r="1.5"/><circle cx="168.2" cy="368.0" r="1.5"/><circle cx="169.4" cy="355.2" r="1.5"/><circle cx="169.3" cy="356.7" r="1.5"/><circle cx="169.5" cy="358.4" r="1.5"/><circle cx="169.7" cy="360.7" r="1.5"/><circle cx="169.2" cy="362.2" r="1.5"/><circle cx="169.7" cy="363.9" r="1.5"/><circle cx="169.8" cy="365.8" r="1.5"/><circle cx="169.3" cy="367.6" r="1.5"/><circle cx="171.1" cy="356.9" r="1.5"/><circle cx="171.1" cy="359.0" r="1.5"/><circle cx="171.0" cy="360.6" r="1.5"/><circle cx="171.2" cy="362.5" r="1.5"/><circle cx="171.0" cy="364.5" r="1.5"/><circle cx="170.8" cy="366.2" r="1.5"/><circle cx="170.8" cy="367.9" r="1.5"/><circle cx="172.3" cy="358.0" r="1.5"/><circle cx="172.7" cy="360.0" r="1.5"/><circle cx="172.7" cy="361.4" r="1.5"/><circle cx="172.5" cy="363.2" r="1.5"/><circle cx="172.5" cy="365.2" r="1.5"/><circle cx="172.2" cy="367.1" r="1.5"/><circle cx="172.6" cy="368.8" r="1.5"/><circle cx="174.2" cy="358.8" r="1.5"/><circle cx="173.8" cy="360.5" r="1.5"/><circle cx="174.0" cy="362.6" r="1.5"/><circle cx="174.0" cy="364.3" r="1.5"/><circle cx="174.2" cy="365.9" r="1.5"/><circle cx="174.2" cy="368.0" r="1.5"/><circle cx="179.0" cy="360.2" r="1.5"/><circle cx="178.8" cy="361.6" r="1.5"/><circle cx="179.9" cy="353.7" r="1.5"/><circle cx="179.9" cy="355.9" r="1.5"/><circle cx="180.0" cy="357.5" r="1.5"/><circle cx="180.1" cy="359.2" r="1.5"/><circle cx="180.2" cy="361.0" r="1.5"/><circle cx="180.9" cy="353.3" r="1.5"/><circle cx="181.1" cy="355.5" r="1.5"/><circle cx="181.2" cy="356.8" r="1.5"/><circle cx="180.9" cy="358.8" r="1.5"/><circle cx="180.8" cy="361.0" r="1.5"/><circle cx="181.7" cy="355.0" r="1.5"/><circle cx="182.2" cy="357.1" r="1.5"/><circle cx="181.8" cy="358.6" r="1.5"/><circle cx="182.1" cy="360.1" r="1.5"/><circle cx="182.8" cy="357.2" r="1.5"/><circle cx="182.8" cy="358.7" r="1.5"/><circle cx="182.9" cy="360.6" r="1.5"/><circle cx="188.7" cy="353.7" r="1.5"/><circle cx="189.3" cy="356.0" r="1.5"/><circle cx="189.1" cy="357.4" r="1.5"/><circle cx="188.9" cy="359.4" r="1.5"/><circle cx="188.8" cy="361.2" r="1.5"/><circle cx="189.3" cy="362.9" r="1.5"/><circle cx="190.4" cy="350.3" r="1.5"/><circle cx="190.6" cy="351.5" r="1.5"/><circle cx="190.4" cy="353.7" r="1.5"/><circle cx="190.2" cy="355.3" r="1.5"/><circle cx="190.6" cy="357.4" r="1.5"/><circle cx="190.6" cy="359.2" r="1.5"/><circle cx="190.5" cy="360.7" r="1.5"/><circle cx="190.7" cy="362.5" r="1.5"/><circle cx="190.7" cy="364.2" r="1.5"/><circle cx="191.9" cy="347.3" r="1.5"/><circle cx="192.0" cy="349.1" r="1.5"/><circle cx="191.8" cy="350.9" r="1.5"/><circle cx="192.0" cy="352.8" r="1.5"/><circle cx="192.0" cy="355.0" r="1.5"/><circle cx="192.1" cy="356.7" r="1.5"/><circle cx="191.8" cy="358.2" r="1.5"/><circle cx="191.7" cy="360.2" r="1.5"/><circle cx="191.9" cy="361.8" r="1.5"/><circle cx="191.7" cy="363.5" r="1.5"/><circle cx="192.9" cy="347.9" r="1.5"/><circle cx="193.3" cy="349.9" r="1.5"/><circle cx="192.9" cy="351.5" r="1.5"/><circle cx="192.8" cy="353.7" r="1.5"/><circle cx="192.9" cy="355.4" r="1.5"/><circle cx="193.1" cy="357.2" r="1.5"/><circle cx="192.7" cy="358.7" r="1.5"/><circle cx="192.9" cy="360.3" r="1.5"/><circle cx="193.2" cy="362.3" r="1.5"/><circle cx="194.7" cy="352.0" r="1.5"/><circle cx="194.2" cy="353.7" r="1.5"/><circle cx="194.3" cy="355.3" r="1.5"/><circle cx="194.3" cy="357.5" r="1.5"/><circle cx="194.2" cy="359.1" r="1.5"/><circle cx="195.5" cy="353.0" r="1.5"/><circle cx="195.3" cy="354.9" r="1.5"/><circle cx="195.4" cy="356.7" r="1.5"/><circle cx="200.1" cy="354.8" r="1.5"/><circle cx="199.8" cy="356.7" r="1.5"/><circle cx="200.1" cy="358.5" r="1.5"/><circle cx="199.9" cy="360.6" r="1.5"/><circle cx="201.3" cy="355.9" r="1.5"/><circle cx="201.4" cy="357.6" r="1.5"/><circle cx="201.2" cy="359.3" r="1.5"/><circle cx="202.6" cy="358.0" r="1.5"/><circle cx="202.7" cy="360.1" r="1.5"/><circle cx="183.0" cy="369.0" r="1.5"/><circle cx="186.0" cy="369.0" r="1.5"/><circle cx="184.5" cy="372.0" r="1.5"/><circle cx="187.5" cy="372.0" r="1.5"/><circle cx="183.5" cy="375.0" r="1.5"/><circle cx="186.5" cy="375.0" r="1.5"/><circle cx="173.0" cy="379.0" r="1.5"/><circle cx="176.0" cy="378.0" r="1.5"/><circle cx="178.0" cy="380.0" r="1.5"/><circle cx="175.0" cy="382.0" r="1.5"/><circle cx="177.5" cy="383.0" r="1.5"/><circle cx="165.5" cy="379.0" r="1.5"/><circle cx="167.5" cy="381.0" r="1.5"/><circle cx="163.0" cy="384.0" r="1.5"/><circle cx="161.0" cy="371.0" r="1.5"/><circle cx="163.0" cy="374.0" r="1.5"/><circle cx="166.0" cy="375.0" r="1.5"/><circle cx="169.0" cy="373.0" r="1.5"/><circle cx="171.5" cy="374.0" r="1.5"/><circle cx="122.9" cy="384.8" r="1.5"/><circle cx="164.0" cy="374.0" r="1.5"/><circle cx="167.0" cy="380.0" r="1.5"/><circle cx="164.0" cy="384.0" r="1.5"/><circle cx="168.0" cy="386.0" r="1.5"/><circle cx="173.4" cy="392.0" r="1.5"/><circle cx="171.5" cy="395.6" r="1.5"/><circle cx="176.0" cy="401.0" r="1.5"/><circle cx="180.0" cy="387.0" r="1.5"/><circle cx="184.7" cy="391.0" r="1.5"/><circle cx="176.0" cy="380.0" r="1.5"/><circle cx="184.7" cy="370.0" r="1.5"/><circle cx="184.7" cy="374.4" r="1.5"/><circle cx="197.0" cy="383.4" r="1.5"/><circle cx="199.7" cy="378.0" r="1.5"/><circle cx="200.6" cy="374.0" r="1.5"/><circle cx="207.0" cy="369.0" r="1.5"/><circle cx="206.0" cy="373.0" r="1.5"/><circle cx="200.6" cy="360.0" r="1.5"/><circle cx="199.7" cy="354.0" r="1.5"/><circle cx="203.4" cy="360.0" r="1.5"/><circle cx="208.0" cy="349.0" r="1.5"/><circle cx="211.0" cy="354.0" r="1.5"/><circle cx="210.0" cy="358.0" r="1.5"/><circle cx="213.8" cy="341.0" r="1.5"/><circle cx="213.8" cy="349.0" r="1.5"/><circle cx="215.6" cy="355.0" r="1.5"/><circle cx="221.0" cy="338.4" r="1.5"/><circle cx="221.0" cy="346.0" r="1.5"/><circle cx="221.0" cy="352.5" r="1.5"/><circle cx="216.6" cy="364.0" r="1.5"/><circle cx="223.0" cy="367.5" r="1.5"/><circle cx="229.7" cy="366.6" r="1.5"/><circle cx="230.6" cy="349.0" r="1.5"/><circle cx="238.0" cy="374.8" r="1.5"/><circle cx="242.5" cy="372.5" r="1.5"/><circle cx="250.0" cy="397.8" r="1.5"/><circle cx="259.8" cy="394.4" r="1.5"/><circle cx="212.5" cy="345.0" r="1.5"/><circle cx="214.0" cy="352.0" r="1.5"/><circle cx="218.0" cy="343.0" r="1.5"/><circle cx="219.0" cy="357.0" r="1.5"/><circle cx="222.0" cy="340.0" r="1.5"/><circle cx="216.0" cy="338.0" r="1.5"/><circle cx="223.0" cy="367.8" r="1.5"/><circle cx="230.0" cy="366.5" r="1.5"/><circle cx="222.0" cy="352.5" r="1.5"/><circle cx="230.0" cy="348.8" r="1.5"/><circle cx="232.5" cy="345.6" r="1.5"/><circle cx="207.0" cy="368.0" r="1.5"/><circle cx="208.0" cy="372.5" r="1.5"/><circle cx="201.0" cy="373.0" r="1.5"/><circle cx="200.0" cy="377.0" r="1.5"/><circle cx="197.0" cy="383.0" r="1.5"/><circle cx="207.0" cy="350.0" r="1.5"/><circle cx="209.0" cy="353.0" r="1.5"/><circle cx="211.0" cy="356.0" r="1.5"/><circle cx="208.5" cy="357.5" r="1.5"/><circle cx="230.8" cy="344.6" r="1.5"/><circle cx="232.3" cy="342.7" r="1.5"/><circle cx="232.1" cy="344.8" r="1.5"/><circle cx="233.3" cy="337.9" r="1.5"/><circle cx="232.5" cy="339.3" r="1.5"/><circle cx="232.4" cy="340.8" r="1.5"/><circle cx="232.7" cy="342.2" r="1.5"/><circle cx="232.7" cy="344.1" r="1.5"/><circle cx="233.7" cy="326.3" r="1.5"/><circle cx="233.4" cy="328.1" r="1.5"/><circle cx="233.7" cy="329.6" r="1.5"/><circle cx="233.9" cy="331.4" r="1.5"/><circle cx="233.3" cy="333.2" r="1.5"/><circle cx="233.6" cy="334.7" r="1.5"/><circle cx="233.8" cy="336.9" r="1.5"/><circle cx="233.8" cy="338.6" r="1.5"/><circle cx="233.2" cy="340.0" r="1.5"/><circle cx="233.6" cy="341.4" r="1.5"/><circle cx="233.6" cy="343.1" r="1.5"/><circle cx="233.7" cy="345.3" r="1.5"/><circle cx="234.6" cy="324.2" r="1.5"/><circle cx="234.4" cy="325.6" r="1.5"/><circle cx="234.4" cy="328.2" r="1.5"/><circle cx="234.7" cy="329.3" r="1.5"/><circle cx="234.8" cy="330.9" r="1.5"/><circle cx="234.6" cy="333.0" r="1.5"/><circle cx="235.1" cy="334.5" r="1.5"/><circle cx="234.7" cy="336.8" r="1.5"/><circle cx="234.9" cy="338.1" r="1.5"/><circle cx="234.7" cy="339.6" r="1.5"/><circle cx="234.5" cy="341.2" r="1.5"/><circle cx="234.9" cy="343.5" r="1.5"/><circle cx="234.5" cy="345.2" r="1.5"/><circle cx="234.1" cy="346.1" r="1.5"/><circle cx="235.5" cy="322.1" r="1.5"/><circle cx="235.4" cy="324.5" r="1.5"/><circle cx="235.1" cy="325.4" r="1.5"/><circle cx="235.2" cy="327.6" r="1.5"/><circle cx="235.2" cy="328.6" r="1.5"/><circle cx="235.5" cy="330.7" r="1.5"/><circle cx="235.2" cy="332.5" r="1.5"/><circle cx="235.7" cy="334.2" r="1.5"/><circle cx="235.6" cy="336.0" r="1.5"/><circle cx="235.8" cy="338.1" r="1.5"/><circle cx="235.3" cy="339.1" r="1.5"/><circle cx="235.9" cy="340.8" r="1.5"/><circle cx="235.7" cy="342.9" r="1.5"/><circle cx="235.7" cy="344.9" r="1.5"/><circle cx="235.8" cy="345.8" r="1.5"/><circle cx="236.5" cy="320.2" r="1.5"/><circle cx="236.5" cy="321.7" r="1.5"/><circle cx="236.2" cy="323.8" r="1.5"/><circle cx="236.4" cy="325.0" r="1.5"/><circle cx="236.1" cy="326.8" r="1.5"/><circle cx="236.1" cy="328.7" r="1.5"/><circle cx="236.0" cy="329.9" r="1.5"/><circle cx="236.0" cy="331.7" r="1.5"/><circle cx="236.6" cy="333.4" r="1.5"/><circle cx="236.4" cy="335.7" r="1.5"/><circle cx="236.4" cy="336.8" r="1.5"/><circle cx="236.8" cy="339.2" r="1.5"/><circle cx="236.0" cy="340.3" r="1.5"/><circle cx="236.4" cy="342.6" r="1.5"/><circle cx="236.3" cy="344.2" r="1.5"/><circle cx="236.2" cy="345.9" r="1.5"/><circle cx="236.2" cy="347.2" r="1.5"/><circle cx="236.7" cy="349.4" r="1.5"/><circle cx="237.6" cy="319.8" r="1.5"/><circle cx="237.2" cy="321.6" r="1.5"/><circle cx="237.4" cy="323.4" r="1.5"/><circle cx="237.6" cy="324.4" r="1.5"/><circle cx="237.2" cy="326.7" r="1.5"/><circle cx="237.0" cy="327.9" r="1.5"/><circle cx="236.8" cy="330.0" r="1.5"/><circle cx="237.7" cy="332.1" r="1.5"/><circle cx="236.9" cy="333.5" r="1.5"/><circle cx="237.2" cy="335.1" r="1.5"/><circle cx="237.2" cy="337.1" r="1.5"/><circle cx="237.8" cy="338.0" r="1.5"/><circle cx="237.5" cy="339.7" r="1.5"/><circle cx="236.8" cy="341.6" r="1.5"/><circle cx="237.5" cy="344.0" r="1.5"/><circle cx="236.9" cy="345.0" r="1.5"/><circle cx="236.8" cy="347.0" r="1.5"/><circle cx="237.3" cy="348.5" r="1.5"/><circle cx="237.1" cy="350.6" r="1.5"/><circle cx="237.6" cy="351.8" r="1.5"/><circle cx="237.2" cy="353.8" r="1.5"/><circle cx="237.6" cy="355.9" r="1.5"/><circle cx="238.1" cy="321.5" r="1.5"/><circle cx="238.2" cy="323.3" r="1.5"/><circle cx="237.8" cy="324.4" r="1.5"/><circle cx="237.8" cy="326.9" r="1.5"/><circle cx="238.0" cy="328.1" r="1.5"/><circle cx="237.8" cy="329.6" r="1.5"/><circle cx="237.7" cy="331.6" r="1.5"/><circle cx="237.8" cy="333.3" r="1.5"/><circle cx="238.0" cy="334.6" r="1.5"/><circle cx="238.2" cy="336.5" r="1.5"/><circle cx="238.0" cy="337.9" r="1.5"/><circle cx="237.8" cy="340.4" r="1.5"/><circle cx="238.0" cy="341.3" r="1.5"/><circle cx="237.9" cy="343.4" r="1.5"/><circle cx="238.7" cy="344.8" r="1.5"/><circle cx="238.6" cy="346.8" r="1.5"/><circle cx="238.1" cy="348.8" r="1.5"/><circle cx="238.1" cy="349.8" r="1.5"/><circle cx="238.3" cy="352.1" r="1.5"/><circle cx="238.3" cy="353.4" r="1.5"/><circle cx="238.6" cy="355.7" r="1.5"/><circle cx="238.7" cy="357.0" r="1.5"/><circle cx="238.5" cy="358.9" r="1.5"/><circle cx="238.8" cy="322.5" r="1.5"/><circle cx="238.8" cy="324.2" r="1.5"/><circle cx="238.7" cy="326.2" r="1.5"/><circle cx="239.4" cy="327.8" r="1.5"/><circle cx="239.1" cy="329.2" r="1.5"/><circle cx="238.8" cy="331.9" r="1.5"/><circle cx="238.6" cy="333.2" r="1.5"/><circle cx="239.4" cy="335.1" r="1.5"/><circle cx="239.3" cy="336.4" r="1.5"/><circle cx="239.4" cy="338.6" r="1.5"/><circle cx="239.4" cy="340.4" r="1.5"/><circle cx="238.7" cy="342.1" r="1.5"/><circle cx="239.0" cy="343.5" r="1.5"/><circle cx="238.9" cy="345.4" r="1.5"/><circle cx="238.6" cy="346.8" r="1.5"/><circle cx="238.8" cy="348.3" r="1.5"/><circle cx="239.0" cy="350.3" r="1.5"/><circle cx="239.4" cy="351.7" r="1.5"/><circle cx="239.2" cy="353.4" r="1.5"/><circle cx="238.9" cy="355.6" r="1.5"/><circle cx="238.9" cy="356.5" r="1.5"/><circle cx="238.9" cy="358.9" r="1.5"/><circle cx="238.8" cy="360.6" r="1.5"/><circle cx="240.0" cy="324.7" r="1.5"/><circle cx="239.7" cy="325.8" r="1.5"/><circle cx="239.6" cy="327.8" r="1.5"/><circle cx="239.9" cy="329.1" r="1.5"/><circle cx="240.0" cy="331.2" r="1.5"/><circle cx="239.8" cy="333.1" r="1.5"/><circle cx="240.5" cy="334.4" r="1.5"/><circle cx="240.4" cy="336.3" r="1.5"/><circle cx="240.3" cy="337.7" r="1.5"/><circle cx="240.5" cy="339.8" r="1.5"/><circle cx="240.5" cy="341.3" r="1.5"/><circle cx="239.9" cy="343.4" r="1.5"/><circle cx="239.7" cy="344.7" r="1.5"/><circle cx="240.2" cy="347.1" r="1.5"/><circle cx="239.8" cy="348.0" r="1.5"/><circle cx="239.9" cy="350.5" r="1.5"/><circle cx="239.6" cy="351.9" r="1.5"/><circle cx="239.9" cy="353.6" r="1.5"/><circle cx="239.7" cy="355.3" r="1.5"/><circle cx="240.4" cy="357.2" r="1.5"/><circle cx="240.1" cy="358.5" r="1.5"/><circle cx="240.1" cy="359.8" r="1.5"/><circle cx="240.3" cy="362.1" r="1.5"/><circle cx="240.9" cy="326.3" r="1.5"/><circle cx="240.8" cy="327.7" r="1.5"/><circle cx="240.6" cy="329.6" r="1.5"/><circle cx="241.0" cy="331.3" r="1.5"/><circle cx="240.4" cy="333.1" r="1.5"/><circle cx="240.8" cy="334.7" r="1.5"/><circle cx="241.0" cy="336.8" r="1.5"/><circle cx="240.6" cy="338.0" r="1.5"/><circle cx="241.4" cy="340.0" r="1.5"/><circle cx="240.7" cy="341.7" r="1.5"/><circle cx="241.4" cy="343.0" r="1.5"/><circle cx="241.3" cy="344.5" r="1.5"/><circle cx="241.4" cy="346.5" r="1.5"/><circle cx="240.6" cy="348.6" r="1.5"/><circle cx="241.0" cy="350.4" r="1.5"/><circle cx="241.2" cy="351.9" r="1.5"/><circle cx="240.9" cy="353.8" r="1.5"/><circle cx="240.5" cy="355.4" r="1.5"/><circle cx="241.1" cy="356.5" r="1.5"/><circle cx="241.2" cy="358.4" r="1.5"/><circle cx="240.9" cy="360.5" r="1.5"/><circle cx="240.6" cy="361.6" r="1.5"/><circle cx="241.0" cy="363.1" r="1.5"/><circle cx="241.9" cy="328.0" r="1.5"/><circle cx="241.8" cy="329.2" r="1.5"/><circle cx="242.1" cy="331.5" r="1.5"/><circle cx="242.1" cy="332.9" r="1.5"/><circle cx="242.2" cy="334.8" r="1.5"/><circle cx="241.5" cy="336.1" r="1.5"/><circle cx="241.4" cy="337.5" r="1.5"/><circle cx="241.6" cy="340.0" r="1.5"/><circle cx="242.1" cy="341.0" r="1.5"/><circle cx="241.5" cy="342.9" r="1.5"/><circle cx="242.1" cy="344.9" r="1.5"/><circle cx="242.2" cy="346.0" r="1.5"/><circle cx="242.3" cy="347.9" r="1.5"/><circle cx="241.9" cy="350.2" r="1.5"/><circle cx="242.0" cy="351.2" r="1.5"/><circle cx="242.0" cy="353.2" r="1.5"/><circle cx="241.3" cy="354.8" r="1.5"/><circle cx="241.6" cy="356.8" r="1.5"/><circle cx="241.6" cy="358.5" r="1.5"/><circle cx="242.0" cy="359.7" r="1.5"/><circle cx="241.4" cy="361.9" r="1.5"/><circle cx="241.8" cy="363.1" r="1.5"/><circle cx="242.3" cy="329.7" r="1.5"/><circle cx="242.8" cy="330.8" r="1.5"/><circle cx="242.4" cy="333.1" r="1.5"/><circle cx="242.9" cy="334.6" r="1.5"/><circle cx="242.6" cy="335.8" r="1.5"/><circle cx="242.6" cy="337.4" r="1.5"/><circle cx="242.8" cy="339.3" r="1.5"/><circle cx="243.0" cy="341.0" r="1.5"/><circle cx="242.7" cy="342.8" r="1.5"/><circle cx="243.1" cy="344.4" r="1.5"/><circle cx="242.9" cy="346.0" r="1.5"/><circle cx="242.8" cy="347.7" r="1.5"/><circle cx="243.1" cy="349.4" r="1.5"/><circle cx="243.1" cy="351.5" r="1.5"/><circle cx="242.7" cy="353.5" r="1.5"/><circle cx="242.6" cy="355.0" r="1.5"/><circle cx="242.8" cy="356.4" r="1.5"/><circle cx="242.3" cy="358.0" r="1.5"/><circle cx="242.5" cy="359.8" r="1.5"/><circle cx="243.2" cy="361.3" r="1.5"/><circle cx="242.9" cy="363.4" r="1.5"/><circle cx="242.4" cy="364.8" r="1.5"/><circle cx="243.2" cy="330.6" r="1.5"/><circle cx="243.4" cy="331.8" r="1.5"/><circle cx="243.4" cy="333.9" r="1.5"/><circle cx="244.0" cy="335.4" r="1.5"/><circle cx="243.6" cy="336.6" r="1.5"/><circle cx="244.0" cy="338.3" r="1.5"/><circle cx="243.5" cy="340.3" r="1.5"/><circle cx="243.8" cy="342.3" r="1.5"/><circle cx="243.4" cy="344.2" r="1.5"/><circle cx="244.0" cy="345.0" r="1.5"/><circle cx="243.7" cy="347.2" r="1.5"/><circle cx="243.5" cy="348.9" r="1.5"/><circle cx="243.4" cy="350.8" r="1.5"/><circle cx="243.7" cy="352.8" r="1.5"/><circle cx="244.1" cy="354.5" r="1.5"/><circle cx="243.5" cy="356.0" r="1.5"/><circle cx="243.7" cy="357.6" r="1.5"/><circle cx="244.1" cy="358.7" r="1.5"/><circle cx="243.6" cy="360.7" r="1.5"/><circle cx="243.8" cy="362.2" r="1.5"/><circle cx="244.1" cy="363.9" r="1.5"/><circle cx="243.5" cy="365.6" r="1.5"/><circle cx="244.4" cy="331.4" r="1.5"/><circle cx="244.1" cy="332.6" r="1.5"/><circle cx="244.6" cy="334.7" r="1.5"/><circle cx="244.7" cy="336.1" r="1.5"/><circle cx="244.8" cy="338.2" r="1.5"/><circle cx="244.8" cy="339.3" r="1.5"/><circle cx="244.5" cy="340.9" r="1.5"/><circle cx="244.9" cy="343.5" r="1.5"/><circle cx="244.9" cy="344.3" r="1.5"/><circle cx="244.4" cy="346.5" r="1.5"/><circle cx="244.5" cy="347.8" r="1.5"/><circle cx="244.8" cy="349.7" r="1.5"/><circle cx="244.5" cy="351.2" r="1.5"/><circle cx="244.6" cy="352.9" r="1.5"/><circle cx="244.1" cy="355.0" r="1.5"/><circle cx="244.3" cy="357.0" r="1.5"/><circle cx="244.2" cy="358.3" r="1.5"/><circle cx="244.1" cy="359.8" r="1.5"/><circle cx="244.5" cy="361.9" r="1.5"/><circle cx="244.5" cy="363.9" r="1.5"/><circle cx="244.1" cy="365.6" r="1.5"/><circle cx="245.1" cy="332.7" r="1.5"/><circle cx="245.4" cy="333.8" r="1.5"/><circle cx="245.5" cy="336.0" r="1.5"/><circle cx="245.9" cy="337.2" r="1.5"/><circle cx="244.9" cy="338.6" r="1.5"/><circle cx="245.7" cy="340.9" r="1.5"/><circle cx="245.6" cy="342.0" r="1.5"/><circle cx="245.4" cy="343.6" r="1.5"/><circle cx="245.0" cy="345.6" r="1.5"/><circle cx="245.9" cy="347.6" r="1.5"/><circle cx="245.7" cy="348.7" r="1.5"/><circle cx="245.3" cy="350.5" r="1.5"/><circle cx="245.2" cy="352.2" r="1.5"/><circle cx="245.8" cy="354.1" r="1.5"/><circle cx="245.4" cy="356.1" r="1.5"/><circle cx="245.8" cy="358.1" r="1.5"/><circle cx="245.5" cy="359.4" r="1.5"/><circle cx="245.8" cy="361.0" r="1.5"/><circle cx="245.2" cy="363.0" r="1.5"/><circle cx="245.2" cy="364.4" r="1.5"/><circle cx="245.3" cy="366.2" r="1.5"/><circle cx="246.2" cy="333.1" r="1.5"/><circle cx="246.3" cy="334.4" r="1.5"/><circle cx="246.6" cy="336.1" r="1.5"/><circle cx="246.3" cy="338.3" r="1.5"/><circle cx="246.2" cy="339.7" r="1.5"/><circle cx="245.9" cy="341.6" r="1.5"/><circle cx="246.1" cy="343.4" r="1.5"/><circle cx="246.0" cy="345.3" r="1.5"/><circle cx="246.3" cy="346.3" r="1.5"/><circle cx="246.2" cy="348.9" r="1.5"/><circle cx="245.8" cy="350.3" r="1.5"/><circle cx="246.8" cy="351.7" r="1.5"/><circle cx="246.4" cy="353.4" r="1.5"/><circle cx="246.1" cy="355.4" r="1.5"/><circle cx="246.4" cy="356.8" r="1.5"/><circle cx="246.3" cy="358.7" r="1.5"/><circle cx="246.6" cy="359.9" r="1.5"/><circle cx="245.9" cy="361.8" r="1.5"/><circle cx="246.1" cy="364.1" r="1.5"/><circle cx="246.2" cy="365.8" r="1.5"/><circle cx="247.1" cy="334.0" r="1.5"/><circle cx="247.4" cy="335.5" r="1.5"/><circle cx="247.7" cy="337.9" r="1.5"/><circle cx="247.0" cy="339.1" r="1.5"/><circle cx="247.5" cy="341.3" r="1.5"/><circle cx="247.3" cy="342.2" r="1.5"/><circle cx="247.5" cy="343.9" r="1.5"/><circle cx="247.3" cy="346.1" r="1.5"/><circle cx="247.6" cy="347.9" r="1.5"/><circle cx="246.7" cy="349.9" r="1.5"/><circle cx="247.5" cy="351.2" r="1.5"/><circle cx="246.7" cy="353.1" r="1.5"/><circle cx="247.1" cy="354.7" r="1.5"/><circle cx="247.7" cy="356.7" r="1.5"/><circle cx="246.8" cy="358.3" r="1.5"/><circle cx="247.1" cy="359.9" r="1.5"/><circle cx="247.1" cy="361.3" r="1.5"/><circle cx="247.1" cy="362.7" r="1.5"/><circle cx="247.0" cy="365.0" r="1.5"/><circle cx="246.8" cy="366.1" r="1.5"/><circle cx="248.4" cy="335.4" r="1.5"/><circle cx="248.1" cy="336.6" r="1.5"/><circle cx="247.7" cy="338.5" r="1.5"/><circle cx="248.6" cy="340.4" r="1.5"/><circle cx="248.5" cy="341.8" r="1.5"/><circle cx="248.0" cy="343.8" r="1.5"/><circle cx="248.4" cy="345.1" r="1.5"/><circle cx="248.5" cy="347.1" r="1.5"/><circle cx="247.6" cy="348.8" r="1.5"/><circle cx="248.0" cy="350.7" r="1.5"/><circle cx="248.5" cy="352.3" r="1.5"/><circle cx="248.3" cy="353.9" r="1.5"/><circle cx="248.4" cy="355.3" r="1.5"/><circle cx="248.3" cy="357.0" r="1.5"/><circle cx="248.2" cy="358.8" r="1.5"/><circle cx="247.9" cy="360.4" r="1.5"/><circle cx="247.9" cy="362.6" r="1.5"/><circle cx="248.1" cy="364.1" r="1.5"/><circle cx="248.2" cy="366.2" r="1.5"/><circle cx="248.9" cy="336.5" r="1.5"/><circle cx="249.0" cy="338.6" r="1.5"/><circle cx="248.8" cy="340.0" r="1.5"/><circle cx="248.7" cy="341.3" r="1.5"/><circle cx="249.2" cy="343.3" r="1.5"/><circle cx="248.8" cy="344.5" r="1.5"/><circle cx="249.3" cy="346.5" r="1.5"/><circle cx="249.2" cy="348.3" r="1.5"/><circle cx="249.1" cy="350.1" r="1.5"/><circle cx="249.5" cy="352.1" r="1.5"/><circle cx="249.0" cy="353.4" r="1.5"/><circle cx="248.7" cy="355.4" r="1.5"/><circle cx="248.6" cy="356.6" r="1.5"/><circle cx="249.3" cy="358.1" r="1.5"/><circle cx="249.2" cy="360.3" r="1.5"/><circle cx="249.1" cy="361.8" r="1.5"/><circle cx="248.7" cy="364.1" r="1.5"/><circle cx="249.3" cy="365.6" r="1.5"/><circle cx="249.5" cy="337.9" r="1.5"/><circle cx="249.6" cy="339.0" r="1.5"/><circle cx="249.9" cy="341.1" r="1.5"/><circle cx="249.5" cy="342.9" r="1.5"/><circle cx="250.0" cy="344.8" r="1.5"/><circle cx="250.3" cy="346.3" r="1.5"/><circle cx="249.8" cy="348.2" r="1.5"/><circle cx="250.1" cy="349.3" r="1.5"/><circle cx="250.3" cy="351.4" r="1.5"/><circle cx="249.7" cy="352.6" r="1.5"/><circle cx="249.4" cy="354.6" r="1.5"/><circle cx="249.7" cy="356.1" r="1.5"/><circle cx="249.7" cy="357.6" r="1.5"/><circle cx="249.9" cy="359.4" r="1.5"/><circle cx="249.7" cy="361.1" r="1.5"/><circle cx="249.9" cy="363.4" r="1.5"/><circle cx="249.6" cy="365.1" r="1.5"/><circle cx="250.3" cy="366.6" r="1.5"/><circle cx="250.8" cy="339.0" r="1.5"/><circle cx="250.8" cy="340.6" r="1.5"/><circle cx="251.2" cy="342.4" r="1.5"/><circle cx="250.6" cy="343.4" r="1.5"/><circle cx="251.2" cy="345.4" r="1.5"/><circle cx="251.1" cy="347.0" r="1.5"/><circle cx="250.8" cy="348.8" r="1.5"/><circle cx="251.0" cy="351.1" r="1.5"/><circle cx="250.8" cy="352.4" r="1.5"/><circle cx="250.6" cy="353.8" r="1.5"/><circle cx="251.2" cy="355.3" r="1.5"/><circle cx="251.2" cy="357.6" r="1.5"/><circle cx="250.4" cy="359.5" r="1.5"/><circle cx="250.4" cy="360.9" r="1.5"/><circle cx="250.4" cy="363.0" r="1.5"/><circle cx="250.6" cy="364.6" r="1.5"/><circle cx="250.4" cy="366.1" r="1.5"/><circle cx="251.3" cy="339.4" r="1.5"/><circle cx="251.8" cy="342.1" r="1.5"/><circle cx="251.9" cy="343.6" r="1.5"/><circle cx="252.0" cy="345.0" r="1.5"/><circle cx="251.3" cy="346.7" r="1.5"/><circle cx="251.4" cy="348.4" r="1.5"/><circle cx="251.6" cy="350.1" r="1.5"/><circle cx="251.4" cy="352.0" r="1.5"/><circle cx="251.6" cy="353.5" r="1.5"/><circle cx="251.3" cy="355.2" r="1.5"/><circle cx="251.8" cy="357.3" r="1.5"/><circle cx="251.8" cy="358.2" r="1.5"/><circle cx="251.5" cy="360.1" r="1.5"/><circle cx="251.9" cy="362.4" r="1.5"/><circle cx="252.2" cy="364.1" r="1.5"/><circle cx="252.1" cy="365.7" r="1.5"/><circle cx="253.0" cy="340.5" r="1.5"/><circle cx="252.6" cy="342.8" r="1.5"/><circle cx="252.8" cy="344.5" r="1.5"/><circle cx="252.7" cy="346.6" r="1.5"/><circle cx="252.2" cy="347.8" r="1.5"/><circle cx="253.1" cy="349.1" r="1.5"/><circle cx="252.2" cy="351.6" r="1.5"/><circle cx="253.1" cy="352.5" r="1.5"/><circle cx="252.1" cy="355.0" r="1.5"/><circle cx="252.8" cy="356.3" r="1.5"/><circle cx="252.7" cy="358.3" r="1.5"/><circle cx="252.9" cy="359.2" r="1.5"/><circle cx="252.2" cy="361.7" r="1.5"/><circle cx="253.1" cy="363.5" r="1.5"/><circle cx="252.5" cy="364.7" r="1.5"/><circle cx="252.4" cy="366.0" r="1.5"/><circle cx="253.8" cy="341.9" r="1.5"/><circle cx="253.6" cy="343.9" r="1.5"/><circle cx="253.3" cy="345.8" r="1.5"/><circle cx="253.5" cy="347.0" r="1.5"/><circle cx="253.9" cy="348.7" r="1.5"/><circle cx="253.1" cy="350.4" r="1.5"/><circle cx="253.5" cy="352.7" r="1.5"/><circle cx="253.3" cy="353.8" r="1.5"/><circle cx="253.7" cy="355.5" r="1.5"/><circle cx="253.5" cy="357.2" r="1.5"/><circle cx="253.9" cy="358.9" r="1.5"/><circle cx="253.2" cy="360.7" r="1.5"/><circle cx="253.3" cy="362.8" r="1.5"/><circle cx="253.7" cy="364.6" r="1.5"/><circle cx="253.5" cy="365.6" r="1.5"/><circle cx="254.7" cy="342.1" r="1.5"/><circle cx="254.1" cy="344.0" r="1.5"/><circle cx="254.9" cy="345.7" r="1.5"/><circle cx="254.3" cy="347.9" r="1.5"/><circle cx="254.9" cy="349.1" r="1.5"/><circle cx="254.0" cy="351.2" r="1.5"/><circle cx="254.7" cy="352.4" r="1.5"/><circle cx="254.7" cy="354.2" r="1.5"/><circle cx="254.2" cy="356.1" r="1.5"/><circle cx="254.6" cy="357.7" r="1.5"/><circle cx="254.7" cy="358.9" r="1.5"/><circle cx="254.4" cy="361.0" r="1.5"/><circle cx="254.0" cy="363.2" r="1.5"/><circle cx="254.0" cy="364.2" r="1.5"/><circle cx="254.8" cy="366.7" r="1.5"/><circle cx="255.7" cy="342.1" r="1.5"/><circle cx="255.7" cy="343.6" r="1.5"/><circle cx="255.5" cy="346.1" r="1.5"/><circle cx="255.0" cy="347.0" r="1.5"/><circle cx="255.5" cy="349.4" r="1.5"/><circle cx="255.5" cy="351.2" r="1.5"/><circle cx="255.3" cy="352.3" r="1.5"/><circle cx="254.9" cy="353.9" r="1.5"/><circle cx="255.7" cy="355.4" r="1.5"/><circle cx="255.0" cy="357.4" r="1.5"/><circle cx="254.8" cy="359.1" r="1.5"/><circle cx="255.0" cy="360.6" r="1.5"/><circle cx="255.3" cy="362.7" r="1.5"/><circle cx="255.4" cy="364.6" r="1.5"/><circle cx="255.3" cy="366.5" r="1.5"/><circle cx="255.8" cy="341.8" r="1.5"/><circle cx="255.8" cy="343.6" r="1.5"/><circle cx="256.5" cy="345.9" r="1.5"/><circle cx="256.2" cy="346.9" r="1.5"/><circle cx="256.0" cy="349.0" r="1.5"/><circle cx="256.0" cy="350.9" r="1.5"/><circle cx="256.7" cy="352.3" r="1.5"/><circle cx="256.3" cy="354.4" r="1.5"/><circle cx="256.2" cy="355.4" r="1.5"/><circle cx="256.6" cy="357.9" r="1.5"/><circle cx="255.7" cy="359.4" r="1.5"/><circle cx="256.1" cy="360.4" r="1.5"/><circle cx="255.9" cy="362.2" r="1.5"/><circle cx="256.4" cy="363.9" r="1.5"/><circle cx="255.7" cy="365.6" r="1.5"/><circle cx="257.4" cy="342.0" r="1.5"/><circle cx="257.3" cy="343.6" r="1.5"/><circle cx="256.8" cy="344.9" r="1.5"/><circle cx="256.9" cy="346.6" r="1.5"/><circle cx="256.9" cy="348.9" r="1.5"/><circle cx="257.0" cy="350.4" r="1.5"/><circle cx="257.2" cy="352.0" r="1.5"/><circle cx="257.0" cy="354.2" r="1.5"/><circle cx="257.2" cy="355.5" r="1.5"/><circle cx="257.1" cy="357.2" r="1.5"/><circle cx="256.9" cy="359.4" r="1.5"/><circle cx="256.8" cy="361.1" r="1.5"/><circle cx="257.5" cy="362.7" r="1.5"/><circle cx="256.8" cy="364.1" r="1.5"/><circle cx="257.6" cy="365.6" r="1.5"/><circle cx="257.7" cy="342.0" r="1.5"/><circle cx="257.7" cy="343.6" r="1.5"/><circle cx="257.7" cy="345.7" r="1.5"/><circle cx="257.8" cy="346.5" r="1.5"/><circle cx="258.2" cy="348.5" r="1.5"/><circle cx="258.1" cy="350.3" r="1.5"/><circle cx="258.4" cy="352.0" r="1.5"/><circle cx="257.9" cy="353.2" r="1.5"/><circle cx="258.0" cy="355.2" r="1.5"/><circle cx="258.1" cy="357.3" r="1.5"/><circle cx="258.0" cy="358.4" r="1.5"/><circle cx="258.0" cy="360.5" r="1.5"/><circle cx="258.1" cy="362.7" r="1.5"/><circle cx="257.8" cy="363.9" r="1.5"/><circle cx="257.6" cy="365.9" r="1.5"/><circle cx="258.6" cy="342.0" r="1.5"/><circle cx="259.2" cy="343.1" r="1.5"/><circle cx="259.3" cy="345.1" r="1.5"/><circle cx="258.8" cy="346.8" r="1.5"/><circle cx="259.3" cy="348.5" r="1.5"/><circle cx="258.9" cy="350.0" r="1.5"/><circle cx="259.2" cy="351.9" r="1.5"/><circle cx="258.7" cy="353.3" r="1.5"/><circle cx="258.6" cy="355.6" r="1.5"/><circle cx="259.2" cy="357.5" r="1.5"/><circle cx="259.3" cy="358.9" r="1.5"/><circle cx="259.2" cy="360.6" r="1.5"/><circle cx="259.2" cy="362.4" r="1.5"/><circle cx="258.6" cy="364.1" r="1.5"/><circle cx="259.6" cy="341.3" r="1.5"/><circle cx="260.2" cy="342.8" r="1.5"/><circle cx="259.8" cy="344.8" r="1.5"/><circle cx="260.1" cy="346.7" r="1.5"/><circle cx="260.2" cy="348.8" r="1.5"/><circle cx="259.9" cy="349.6" r="1.5"/><circle cx="260.0" cy="351.3" r="1.5"/><circle cx="260.3" cy="353.8" r="1.5"/><circle cx="259.6" cy="354.8" r="1.5"/><circle cx="260.0" cy="357.1" r="1.5"/><circle cx="260.3" cy="358.7" r="1.5"/><circle cx="259.4" cy="360.5" r="1.5"/><circle cx="259.4" cy="362.3" r="1.5"/><circle cx="260.1" cy="363.9" r="1.5"/><circle cx="261.1" cy="341.4" r="1.5"/><circle cx="261.1" cy="343.2" r="1.5"/><circle cx="260.7" cy="344.6" r="1.5"/><circle cx="260.6" cy="346.0" r="1.5"/><circle cx="260.4" cy="348.4" r="1.5"/><circle cx="260.4" cy="350.0" r="1.5"/><circle cx="261.0" cy="351.7" r="1.5"/><circle cx="260.7" cy="353.1" r="1.5"/><circle cx="260.5" cy="354.6" r="1.5"/><circle cx="260.8" cy="356.8" r="1.5"/><circle cx="261.1" cy="358.2" r="1.5"/><circle cx="261.1" cy="360.5" r="1.5"/><circle cx="260.5" cy="362.2" r="1.5"/><circle cx="261.7" cy="341.6" r="1.5"/><circle cx="261.9" cy="342.7" r="1.5"/><circle cx="261.4" cy="344.6" r="1.5"/><circle cx="261.6" cy="345.8" r="1.5"/><circle cx="262.0" cy="348.0" r="1.5"/><circle cx="261.6" cy="349.9" r="1.5"/><circle cx="261.3" cy="351.0" r="1.5"/><circle cx="261.7" cy="352.8" r="1.5"/><circle cx="261.4" cy="354.3" r="1.5"/><circle cx="261.2" cy="356.3" r="1.5"/><circle cx="261.6" cy="358.6" r="1.5"/><circle cx="261.7" cy="359.7" r="1.5"/><circle cx="261.5" cy="361.3" r="1.5"/><circle cx="262.5" cy="341.4" r="1.5"/><circle cx="262.1" cy="342.6" r="1.5"/><circle cx="262.7" cy="344.6" r="1.5"/><circle cx="262.6" cy="346.2" r="1.5"/><circle cx="262.9" cy="348.1" r="1.5"/><circle cx="262.3" cy="349.5" r="1.5"/><circle cx="263.0" cy="351.2" r="1.5"/><circle cx="262.2" cy="353.1" r="1.5"/><circle cx="262.1" cy="354.2" r="1.5"/><circle cx="262.6" cy="356.0" r="1.5"/><circle cx="262.7" cy="358.2" r="1.5"/><circle cx="262.3" cy="359.9" r="1.5"/><circle cx="263.5" cy="340.9" r="1.5"/><circle cx="263.4" cy="342.4" r="1.5"/><circle cx="263.0" cy="344.1" r="1.5"/><circle cx="263.9" cy="346.2" r="1.5"/><circle cx="263.0" cy="347.1" r="1.5"/><circle cx="263.2" cy="349.4" r="1.5"/><circle cx="263.3" cy="350.6" r="1.5"/><circle cx="263.3" cy="352.7" r="1.5"/><circle cx="263.6" cy="354.2" r="1.5"/><circle cx="263.5" cy="356.2" r="1.5"/><circle cx="263.5" cy="357.3" r="1.5"/><circle cx="263.6" cy="359.1" r="1.5"/><circle cx="263.9" cy="340.5" r="1.5"/><circle cx="263.8" cy="341.8" r="1.5"/><circle cx="264.2" cy="343.9" r="1.5"/><circle cx="263.9" cy="346.1" r="1.5"/><circle cx="264.7" cy="347.3" r="1.5"/><circle cx="264.4" cy="348.8" r="1.5"/><circle cx="264.8" cy="350.3" r="1.5"/><circle cx="264.1" cy="352.1" r="1.5"/><circle cx="264.7" cy="354.1" r="1.5"/><circle cx="264.2" cy="355.7" r="1.5"/><circle cx="264.7" cy="357.3" r="1.5"/><circle cx="265.5" cy="340.5" r="1.5"/><circle cx="265.1" cy="341.9" r="1.5"/><circle cx="265.1" cy="343.7" r="1.5"/><circle cx="265.0" cy="345.5" r="1.5"/><circle cx="265.1" cy="346.9" r="1.5"/><circle cx="265.5" cy="348.8" r="1.5"/><circle cx="265.2" cy="350.9" r="1.5"/><circle cx="265.2" cy="352.1" r="1.5"/><circle cx="265.6" cy="354.4" r="1.5"/><circle cx="265.5" cy="355.5" r="1.5"/><circle cx="266.3" cy="340.3" r="1.5"/><circle cx="265.9" cy="342.0" r="1.5"/><circle cx="266.5" cy="343.7" r="1.5"/><circle cx="266.3" cy="345.1" r="1.5"/><circle cx="266.3" cy="346.6" r="1.5"/><circle cx="266.4" cy="348.6" r="1.5"/><circle cx="266.6" cy="350.1" r="1.5"/><circle cx="266.3" cy="351.5" r="1.5"/><circle cx="266.0" cy="354.0" r="1.5"/><circle cx="265.9" cy="355.5" r="1.5"/><circle cx="266.7" cy="339.8" r="1.5"/><circle cx="267.5" cy="341.3" r="1.5"/><circle cx="267.4" cy="342.9" r="1.5"/><circle cx="267.1" cy="345.3" r="1.5"/><circle cx="267.3" cy="346.6" r="1.5"/><circle cx="267.1" cy="348.6" r="1.5"/><circle cx="267.3" cy="350.3" r="1.5"/><circle cx="267.1" cy="351.6" r="1.5"/><circle cx="267.2" cy="353.6" r="1.5"/><circle cx="267.9" cy="340.2" r="1.5"/><circle cx="267.5" cy="341.7" r="1.5"/><circle cx="267.7" cy="343.3" r="1.5"/><circle cx="268.4" cy="344.6" r="1.5"/><circle cx="268.0" cy="346.5" r="1.5"/><circle cx="267.9" cy="347.9" r="1.5"/><circle cx="268.0" cy="350.3" r="1.5"/><circle cx="269.0" cy="339.2" r="1.5"/><circle cx="269.1" cy="341.1" r="1.5"/><circle cx="268.4" cy="343.0" r="1.5"/><circle cx="268.8" cy="344.6" r="1.5"/><circle cx="269.3" cy="346.3" r="1.5"/><circle cx="269.3" cy="347.8" r="1.5"/><circle cx="270.0" cy="338.1" r="1.5"/><circle cx="269.5" cy="340.4" r="1.5"/><circle cx="269.9" cy="342.2" r="1.5"/><circle cx="269.6" cy="343.4" r="1.5"/><circle cx="270.5" cy="337.6" r="1.5"/><circle cx="270.1" cy="339.2" r="1.5"/><circle cx="270.8" cy="340.6" r="1.5"/><circle cx="270.4" cy="343.0" r="1.5"/><circle cx="271.9" cy="336.4" r="1.5"/><circle cx="271.2" cy="338.0" r="1.5"/><circle cx="271.1" cy="340.3" r="1.5"/><circle cx="271.7" cy="341.5" r="1.5"/><circle cx="271.5" cy="343.6" r="1.5"/><circle cx="271.9" cy="336.0" r="1.5"/><circle cx="272.8" cy="337.1" r="1.5"/><circle cx="272.6" cy="339.3" r="1.5"/><circle cx="272.2" cy="341.2" r="1.5"/><circle cx="272.1" cy="342.5" r="1.5"/><circle cx="273.1" cy="334.7" r="1.5"/><circle cx="273.6" cy="336.5" r="1.5"/><circle cx="273.4" cy="338.7" r="1.5"/><circle cx="273.0" cy="339.6" r="1.5"/><circle cx="273.4" cy="341.2" r="1.5"/><circle cx="274.7" cy="333.7" r="1.5"/><circle cx="274.1" cy="335.5" r="1.5"/><circle cx="274.5" cy="337.6" r="1.5"/><circle cx="274.4" cy="338.6" r="1.5"/><circle cx="274.1" cy="340.8" r="1.5"/><circle cx="273.9" cy="342.7" r="1.5"/><circle cx="275.5" cy="332.6" r="1.5"/><circle cx="275.0" cy="334.3" r="1.5"/><circle cx="275.3" cy="335.8" r="1.5"/><circle cx="275.3" cy="337.6" r="1.5"/><circle cx="275.4" cy="339.7" r="1.5"/><circle cx="275.2" cy="341.0" r="1.5"/><circle cx="275.5" cy="331.9" r="1.5"/><circle cx="276.5" cy="333.8" r="1.5"/><circle cx="276.4" cy="335.0" r="1.5"/><circle cx="275.6" cy="336.6" r="1.5"/><circle cx="276.2" cy="338.5" r="1.5"/><circle cx="275.8" cy="340.7" r="1.5"/><circle cx="276.2" cy="342.0" r="1.5"/><circle cx="276.9" cy="330.9" r="1.5"/><circle cx="277.0" cy="332.7" r="1.5"/><circle cx="276.8" cy="334.2" r="1.5"/><circle cx="276.7" cy="336.0" r="1.5"/><circle cx="276.4" cy="337.7" r="1.5"/><circle cx="277.0" cy="339.4" r="1.5"/><circle cx="276.5" cy="341.6" r="1.5"/><circle cx="277.8" cy="330.2" r="1.5"/><circle cx="277.6" cy="332.3" r="1.5"/><circle cx="278.1" cy="333.7" r="1.5"/><circle cx="278.0" cy="335.5" r="1.5"/><circle cx="277.8" cy="336.9" r="1.5"/><circle cx="277.7" cy="338.7" r="1.5"/><circle cx="277.8" cy="340.4" r="1.5"/><circle cx="278.7" cy="330.1" r="1.5"/><circle cx="279.1" cy="331.2" r="1.5"/><circle cx="278.2" cy="333.0" r="1.5"/><circle cx="278.2" cy="335.2" r="1.5"/><circle cx="278.8" cy="336.4" r="1.5"/><circle cx="278.4" cy="338.7" r="1.5"/><circle cx="279.0" cy="340.2" r="1.5"/><circle cx="279.8" cy="329.8" r="1.5"/><circle cx="279.6" cy="331.2" r="1.5"/><circle cx="279.7" cy="333.4" r="1.5"/><circle cx="280.1" cy="335.1" r="1.5"/><circle cx="279.9" cy="336.0" r="1.5"/><circle cx="279.3" cy="338.6" r="1.5"/><circle cx="280.5" cy="329.4" r="1.5"/><circle cx="280.3" cy="331.4" r="1.5"/><circle cx="280.5" cy="333.3" r="1.5"/><circle cx="280.1" cy="335.0" r="1.5"/><circle cx="280.0" cy="335.8" r="1.5"/><circle cx="280.4" cy="338.0" r="1.5"/><circle cx="281.0" cy="329.2" r="1.5"/><circle cx="281.8" cy="330.8" r="1.5"/><circle cx="281.7" cy="332.6" r="1.5"/><circle cx="281.5" cy="333.9" r="1.5"/><circle cx="281.4" cy="336.4" r="1.5"/><circle cx="252.4" cy="372.9" r="1.5"/><circle cx="249.9" cy="377.3" r="1.5"/><circle cx="248.7" cy="377.8" r="1.5"/><circle cx="251.9" cy="370.2" r="1.5"/><circle cx="247.4" cy="378.9" r="1.5"/><circle cx="247.4" cy="371.0" r="1.5"/><circle cx="253.4" cy="374.5" r="1.5"/><circle cx="255.5" cy="377.5" r="1.5"/><circle cx="246.1" cy="378.6" r="1.5"/><circle cx="247.9" cy="381.0" r="1.5"/><circle cx="253.0" cy="380.2" r="1.5"/><circle cx="245.6" cy="370.5" r="1.5"/><circle cx="253.8" cy="371.9" r="1.5"/><circle cx="247.2" cy="370.4" r="1.5"/><circle cx="246.8" cy="376.4" r="1.5"/><circle cx="255.5" cy="374.3" r="1.5"/><circle cx="247.9" cy="381.2" r="1.5"/><circle cx="247.0" cy="378.6" r="1.5"/><circle cx="251.8" cy="382.6" r="1.5"/><circle cx="245.5" cy="377.6" r="1.5"/><circle cx="249.2" cy="381.1" r="1.5"/><circle cx="247.8" cy="379.7" r="1.5"/><circle cx="247.0" cy="376.7" r="1.5"/><circle cx="255.7" cy="373.2" r="1.5"/><circle cx="248.1" cy="382.4" r="1.5"/><circle cx="252.4" cy="370.9" r="1.5"/><circle cx="247.1" cy="373.2" r="1.5"/><circle cx="248.2" cy="381.4" r="1.5"/><circle cx="252.7" cy="383.2" r="1.5"/><circle cx="252.4" cy="378.5" r="1.5"/><circle cx="249.2" cy="379.7" r="1.5"/><circle cx="250.4" cy="370.8" r="1.5"/><circle cx="250.4" cy="375.2" r="1.5"/><circle cx="250.8" cy="370.7" r="1.5"/><circle cx="258.7" cy="380.7" r="1.5"/><circle cx="260.5" cy="369.6" r="1.5"/><circle cx="259.3" cy="374.1" r="1.5"/><circle cx="263.5" cy="367.1" r="1.5"/><circle cx="261.3" cy="372.5" r="1.5"/><circle cx="262.7" cy="373.6" r="1.5"/><circle cx="259.8" cy="367.2" r="1.5"/><circle cx="262.5" cy="365.3" r="1.5"/><circle cx="263.3" cy="364.6" r="1.5"/><circle cx="259.5" cy="372.0" r="1.5"/><circle cx="263.1" cy="374.5" r="1.5"/><circle cx="262.6" cy="376.9" r="1.5"/><circle cx="262.5" cy="364.9" r="1.5"/><circle cx="263.0" cy="366.5" r="1.5"/><circle cx="259.4" cy="364.6" r="1.5"/><circle cx="258.7" cy="378.9" r="1.5"/><circle cx="260.6" cy="365.5" r="1.5"/><circle cx="258.8" cy="378.4" r="1.5"/><circle cx="261.8" cy="379.6" r="1.5"/><circle cx="258.7" cy="365.9" r="1.5"/><circle cx="260.1" cy="367.2" r="1.5"/><circle cx="259.1" cy="367.4" r="1.5"/><circle cx="282.0" cy="333.2" r="1.5"/><circle cx="282.7" cy="330.9" r="1.5"/><circle cx="283.4" cy="330.4" r="1.5"/><circle cx="284.1" cy="331.3" r="1.5"/><circle cx="284.8" cy="330.2" r="1.5"/><circle cx="285.5" cy="328.9" r="1.5"/><circle cx="286.2" cy="330.0" r="1.5"/><circle cx="286.9" cy="329.3" r="1.5"/><circle cx="287.6" cy="328.4" r="1.5"/><circle cx="288.3" cy="328.2" r="1.5"/><circle cx="289.0" cy="326.2" r="1.5"/><circle cx="289.7" cy="327.9" r="1.5"/><circle cx="290.4" cy="326.0" r="1.5"/><circle cx="291.1" cy="326.1" r="1.5"/><circle cx="291.8" cy="324.6" r="1.5"/><circle cx="292.5" cy="327.3" r="1.5"/><circle cx="293.2" cy="325.9" r="1.5"/><circle cx="293.9" cy="324.8" r="1.5"/><circle cx="294.6" cy="325.0" r="1.5"/><circle cx="295.3" cy="325.9" r="1.5"/><circle cx="296.0" cy="322.8" r="1.5"/><circle cx="296.7" cy="323.3" r="1.5"/><circle cx="297.4" cy="323.9" r="1.5"/><circle cx="298.1" cy="322.3" r="1.5"/><circle cx="298.8" cy="322.8" r="1.5"/><circle cx="299.5" cy="322.9" r="1.5"/><circle cx="300.2" cy="319.6" r="1.5"/><circle cx="300.9" cy="319.9" r="1.5"/><circle cx="301.6" cy="319.4" r="1.5"/><circle cx="302.3" cy="320.3" r="1.5"/><circle cx="303.0" cy="319.9" r="1.5"/><circle cx="303.7" cy="319.1" r="1.5"/><circle cx="304.4" cy="319.3" r="1.5"/><circle cx="305.1" cy="316.5" r="1.5"/><circle cx="305.8" cy="316.8" r="1.5"/><circle cx="306.5" cy="317.8" r="1.5"/><circle cx="307.2" cy="317.2" r="1.5"/><circle cx="307.9" cy="314.8" r="1.5"/><circle cx="308.6" cy="317.1" r="1.5"/><circle cx="309.3" cy="316.0" r="1.5"/><circle cx="310.0" cy="316.0" r="1.5"/><circle cx="310.7" cy="314.1" r="1.5"/><circle cx="311.4" cy="314.5" r="1.5"/><circle cx="312.1" cy="315.2" r="1.5"/><circle cx="312.8" cy="314.6" r="1.5"/><circle cx="313.5" cy="313.3" r="1.5"/><circle cx="314.2" cy="313.9" r="1.5"/><circle cx="314.9" cy="313.8" r="1.5"/><circle cx="315.6" cy="313.0" r="1.5"/><circle cx="316.3" cy="312.1" r="1.5"/><circle cx="317.0" cy="312.6" r="1.5"/><circle cx="317.7" cy="309.9" r="1.5"/><circle cx="318.4" cy="310.4" r="1.5"/><circle cx="319.1" cy="310.5" r="1.5"/><circle cx="319.8" cy="309.0" r="1.5"/><circle cx="320.5" cy="310.6" r="1.5"/><circle cx="321.2" cy="308.3" r="1.5"/><circle cx="321.9" cy="309.6" r="1.5"/><circle cx="322.6" cy="308.4" r="1.5"/><circle cx="323.3" cy="308.2" r="1.5"/><circle cx="324.0" cy="308.7" r="1.5"/><circle cx="324.7" cy="307.3" r="1.5"/><circle cx="325.4" cy="307.7" r="1.5"/><circle cx="326.1" cy="308.5" r="1.5"/><circle cx="326.8" cy="308.6" r="1.5"/><circle cx="327.5" cy="306.4" r="1.5"/><circle cx="328.2" cy="306.4" r="1.5"/><circle cx="328.9" cy="306.9" r="1.5"/><circle cx="329.6" cy="305.4" r="1.5"/><circle cx="330.3" cy="306.7" r="1.5"/><circle cx="331.0" cy="304.7" r="1.5"/><circle cx="331.7" cy="305.3" r="1.5"/><circle cx="332.4" cy="304.3" r="1.5"/><circle cx="333.1" cy="303.1" r="1.5"/><circle cx="333.8" cy="302.8" r="1.5"/><circle cx="334.5" cy="302.4" r="1.5"/><circle cx="335.2" cy="302.9" r="1.5"/><circle cx="335.9" cy="302.4" r="1.5"/><circle cx="336.6" cy="303.8" r="1.5"/><circle cx="337.3" cy="302.5" r="1.5"/><circle cx="338.0" cy="300.8" r="1.5"/><circle cx="338.7" cy="302.0" r="1.5"/><circle cx="339.4" cy="300.5" r="1.5"/><circle cx="340.1" cy="300.7" r="1.5"/><circle cx="340.8" cy="300.9" r="1.5"/><circle cx="341.5" cy="300.9" r="1.5"/><circle cx="342.2" cy="300.7" r="1.5"/><circle cx="342.9" cy="299.2" r="1.5"/><circle cx="343.6" cy="298.6" r="1.5"/><circle cx="344.3" cy="298.5" r="1.5"/><circle cx="345.0" cy="298.1" r="1.5"/><circle cx="345.7" cy="298.8" r="1.5"/><circle cx="346.4" cy="297.9" r="1.5"/><circle cx="347.1" cy="298.1" r="1.5"/><circle cx="347.8" cy="296.6" r="1.5"/><circle cx="348.5" cy="297.8" r="1.5"/><circle cx="349.2" cy="297.9" r="1.5"/><circle cx="349.9" cy="295.9" r="1.5"/><circle cx="350.6" cy="296.5" r="1.5"/><circle cx="351.3" cy="295.2" r="1.5"/><circle cx="352.0" cy="294.6" r="1.5"/><circle cx="352.7" cy="295.2" r="1.5"/><circle cx="353.4" cy="294.4" r="1.5"/><circle cx="354.1" cy="295.4" r="1.5"/><circle cx="354.8" cy="294.7" r="1.5"/><circle cx="355.5" cy="294.8" r="1.5"/><circle cx="356.2" cy="295.3" r="1.5"/><circle cx="356.9" cy="293.1" r="1.5"/><circle cx="357.6" cy="293.1" r="1.5"/><circle cx="358.3" cy="292.8" r="1.5"/><circle cx="359.0" cy="293.6" r="1.5"/><circle cx="359.7" cy="294.3" r="1.5"/><circle cx="360.4" cy="293.7" r="1.5"/><circle cx="361.1" cy="292.9" r="1.5"/><circle cx="361.8" cy="293.2" r="1.5"/><circle cx="362.5" cy="291.7" r="1.5"/><circle cx="363.2" cy="290.7" r="1.5"/><circle cx="363.9" cy="291.5" r="1.5"/><circle cx="364.6" cy="289.7" r="1.5"/><circle cx="365.3" cy="289.7" r="1.5"/><circle cx="366.0" cy="288.9" r="1.5"/><circle cx="366.7" cy="288.8" r="1.5"/><circle cx="367.4" cy="288.1" r="1.5"/><circle cx="368.1" cy="289.0" r="1.5"/><circle cx="368.8" cy="288.2" r="1.5"/><circle cx="369.5" cy="289.1" r="1.5"/><circle cx="370.2" cy="289.6" r="1.5"/><circle cx="370.9" cy="288.5" r="1.5"/><circle cx="371.6" cy="288.0" r="1.5"/><circle cx="372.3" cy="289.1" r="1.5"/><circle cx="373.0" cy="289.2" r="1.5"/><circle cx="373.7" cy="289.5" r="1.5"/><circle cx="374.4" cy="288.8" r="1.5"/><circle cx="375.1" cy="288.8" r="1.5"/><circle cx="375.8" cy="289.3" r="1.5"/><circle cx="376.5" cy="288.9" r="1.5"/><circle cx="377.2" cy="289.5" r="1.5"/><circle cx="377.9" cy="288.1" r="1.5"/><circle cx="378.6" cy="288.7" r="1.5"/><circle cx="379.3" cy="288.0" r="1.5"/><circle cx="380.0" cy="287.3" r="1.5"/><circle cx="380.7" cy="286.0" r="1.5"/><circle cx="381.4" cy="286.5" r="1.5"/><circle cx="382.1" cy="285.7" r="1.5"/><circle cx="382.8" cy="286.0" r="1.5"/><circle cx="383.5" cy="285.4" r="1.5"/><circle cx="384.2" cy="285.0" r="1.5"/><circle cx="384.9" cy="283.7" r="1.5"/><circle cx="385.6" cy="283.4" r="1.5"/><circle cx="386.3" cy="284.0" r="1.5"/><circle cx="387.0" cy="283.7" r="1.5"/><circle cx="387.7" cy="283.9" r="1.5"/><circle cx="388.4" cy="283.1" r="1.5"/><circle cx="389.1" cy="282.0" r="1.5"/><circle cx="389.8" cy="282.2" r="1.5"/><circle cx="390.5" cy="282.2" r="1.5"/><circle cx="391.2" cy="282.6" r="1.5"/><circle cx="391.9" cy="281.7" r="1.5"/><circle cx="392.6" cy="282.6" r="1.5"/><circle cx="393.3" cy="281.6" r="1.5"/><circle cx="394.0" cy="281.3" r="1.5"/><circle cx="394.7" cy="281.4" r="1.5"/><circle cx="395.4" cy="281.0" r="1.5"/><circle cx="396.1" cy="282.1" r="1.5"/><circle cx="396.8" cy="280.2" r="1.5"/><circle cx="397.5" cy="280.7" r="1.5"/><circle cx="398.2" cy="280.0" r="1.5"/><circle cx="398.9" cy="281.0" r="1.5"/><circle cx="399.6" cy="279.9" r="1.5"/><circle cx="400.3" cy="279.8" r="1.5"/><circle cx="401.0" cy="280.1" r="1.5"/><circle cx="401.7" cy="280.3" r="1.5"/><circle cx="402.4" cy="280.5" r="1.5"/><circle cx="403.1" cy="279.8" r="1.5"/><circle cx="403.8" cy="279.5" r="1.5"/><circle cx="404.5" cy="279.5" r="1.5"/><circle cx="405.2" cy="280.3" r="1.5"/><circle cx="405.9" cy="279.0" r="1.5"/><circle cx="406.6" cy="278.6" r="1.5"/><circle cx="407.3" cy="280.0" r="1.5"/><circle cx="408.0" cy="279.2" r="1.5"/><circle cx="408.7" cy="278.5" r="1.5"/><circle cx="409.4" cy="278.4" r="1.5"/><circle cx="410.1" cy="279.6" r="1.5"/><circle cx="410.8" cy="279.2" r="1.5"/><circle cx="411.5" cy="278.0" r="1.5"/><circle cx="412.2" cy="278.9" r="1.5"/><circle cx="412.9" cy="278.0" r="1.5"/><circle cx="413.6" cy="278.3" r="1.5"/><circle cx="414.3" cy="278.5" r="1.5"/><circle cx="415.0" cy="277.3" r="1.5"/><circle cx="415.7" cy="278.3" r="1.5"/><circle cx="416.4" cy="276.8" r="1.5"/><circle cx="417.1" cy="276.0" r="1.5"/><circle cx="417.8" cy="276.5" r="1.5"/><circle cx="418.5" cy="274.9" r="1.5"/><circle cx="419.2" cy="274.3" r="1.5"/><circle cx="419.9" cy="274.8" r="1.5"/><circle cx="282.2" cy="332.4" r="1.5"/><circle cx="282.9" cy="333.6" r="1.5"/><circle cx="283.6" cy="332.7" r="1.5"/><circle cx="284.3" cy="329.9" r="1.5"/><circle cx="285.0" cy="328.8" r="1.5"/><circle cx="285.7" cy="330.5" r="1.5"/><circle cx="286.4" cy="329.5" r="1.5"/><circle cx="287.1" cy="328.4" r="1.5"/><circle cx="287.8" cy="330.2" r="1.5"/><circle cx="288.5" cy="327.1" r="1.5"/><circle cx="289.2" cy="328.3" r="1.5"/><circle cx="289.9" cy="325.8" r="1.5"/><circle cx="290.6" cy="328.5" r="1.5"/><circle cx="291.3" cy="328.2" r="1.5"/><circle cx="292.0" cy="326.6" r="1.5"/><circle cx="292.7" cy="325.2" r="1.5"/><circle cx="293.4" cy="326.2" r="1.5"/><circle cx="294.1" cy="326.5" r="1.5"/><circle cx="294.8" cy="325.7" r="1.5"/><circle cx="295.5" cy="322.8" r="1.5"/><circle cx="296.2" cy="324.0" r="1.5"/><circle cx="296.9" cy="322.4" r="1.5"/><circle cx="297.6" cy="323.2" r="1.5"/><circle cx="298.3" cy="324.0" r="1.5"/><circle cx="299.0" cy="323.2" r="1.5"/><circle cx="299.7" cy="320.7" r="1.5"/><circle cx="300.4" cy="321.1" r="1.5"/><circle cx="301.1" cy="319.8" r="1.5"/><circle cx="301.8" cy="318.9" r="1.5"/><circle cx="302.5" cy="320.1" r="1.5"/><circle cx="303.2" cy="319.7" r="1.5"/><circle cx="303.9" cy="317.8" r="1.5"/><circle cx="304.6" cy="317.6" r="1.5"/><circle cx="305.3" cy="318.0" r="1.5"/><circle cx="306.0" cy="317.7" r="1.5"/><circle cx="306.7" cy="316.5" r="1.5"/><circle cx="307.4" cy="315.1" r="1.5"/><circle cx="308.1" cy="314.7" r="1.5"/><circle cx="308.8" cy="314.5" r="1.5"/><circle cx="309.5" cy="316.1" r="1.5"/><circle cx="310.2" cy="314.8" r="1.5"/><circle cx="310.9" cy="314.9" r="1.5"/><circle cx="311.6" cy="313.7" r="1.5"/><circle cx="312.3" cy="313.3" r="1.5"/><circle cx="313.0" cy="312.4" r="1.5"/><circle cx="313.7" cy="314.4" r="1.5"/><circle cx="314.4" cy="312.9" r="1.5"/><circle cx="315.1" cy="311.2" r="1.5"/><circle cx="315.8" cy="312.5" r="1.5"/><circle cx="316.5" cy="311.8" r="1.5"/><circle cx="317.2" cy="311.5" r="1.5"/><circle cx="317.9" cy="311.6" r="1.5"/><circle cx="318.6" cy="310.9" r="1.5"/><circle cx="319.3" cy="311.3" r="1.5"/><circle cx="320.0" cy="311.3" r="1.5"/><circle cx="320.7" cy="309.5" r="1.5"/><circle cx="321.4" cy="309.9" r="1.5"/><circle cx="322.1" cy="308.8" r="1.5"/><circle cx="322.8" cy="308.6" r="1.5"/><circle cx="323.5" cy="308.2" r="1.5"/><circle cx="324.2" cy="308.7" r="1.5"/><circle cx="324.9" cy="307.6" r="1.5"/><circle cx="325.6" cy="307.4" r="1.5"/><circle cx="326.3" cy="308.4" r="1.5"/><circle cx="327.0" cy="308.0" r="1.5"/><circle cx="327.7" cy="307.4" r="1.5"/><circle cx="328.4" cy="307.5" r="1.5"/><circle cx="329.1" cy="306.1" r="1.5"/><circle cx="329.8" cy="306.5" r="1.5"/><circle cx="330.5" cy="305.1" r="1.5"/><circle cx="331.2" cy="304.9" r="1.5"/><circle cx="331.9" cy="304.0" r="1.5"/><circle cx="332.6" cy="305.4" r="1.5"/><circle cx="333.3" cy="305.4" r="1.5"/><circle cx="334.0" cy="303.4" r="1.5"/><circle cx="334.7" cy="303.3" r="1.5"/><circle cx="335.4" cy="302.2" r="1.5"/><circle cx="336.1" cy="301.9" r="1.5"/><circle cx="336.8" cy="302.8" r="1.5"/><circle cx="337.5" cy="303.1" r="1.5"/><circle cx="338.2" cy="300.7" r="1.5"/><circle cx="338.9" cy="300.8" r="1.5"/><circle cx="339.6" cy="301.6" r="1.5"/><circle cx="340.3" cy="300.0" r="1.5"/><circle cx="341.0" cy="301.2" r="1.5"/><circle cx="341.7" cy="299.6" r="1.5"/><circle cx="342.4" cy="299.5" r="1.5"/><circle cx="343.1" cy="298.6" r="1.5"/><circle cx="343.8" cy="298.5" r="1.5"/><circle cx="344.5" cy="298.5" r="1.5"/><circle cx="345.2" cy="297.9" r="1.5"/><circle cx="345.9" cy="298.7" r="1.5"/><circle cx="346.6" cy="296.8" r="1.5"/><circle cx="347.3" cy="297.9" r="1.5"/><circle cx="348.0" cy="298.0" r="1.5"/><circle cx="348.7" cy="296.6" r="1.5"/><circle cx="349.4" cy="296.0" r="1.5"/><circle cx="350.1" cy="295.6" r="1.5"/><circle cx="350.8" cy="295.2" r="1.5"/><circle cx="351.5" cy="296.6" r="1.5"/><circle cx="352.2" cy="295.9" r="1.5"/><circle cx="352.9" cy="294.2" r="1.5"/><circle cx="353.6" cy="295.0" r="1.5"/><circle cx="354.3" cy="295.0" r="1.5"/><circle cx="355.0" cy="294.1" r="1.5"/><circle cx="355.7" cy="293.3" r="1.5"/><circle cx="356.4" cy="294.0" r="1.5"/><circle cx="357.1" cy="293.8" r="1.5"/><circle cx="357.8" cy="295.0" r="1.5"/><circle cx="358.5" cy="293.5" r="1.5"/><circle cx="359.2" cy="294.6" r="1.5"/><circle cx="359.9" cy="294.3" r="1.5"/><circle cx="360.6" cy="293.3" r="1.5"/><circle cx="361.3" cy="291.9" r="1.5"/><circle cx="362.0" cy="293.0" r="1.5"/><circle cx="362.7" cy="291.0" r="1.5"/><circle cx="363.4" cy="291.6" r="1.5"/><circle cx="364.1" cy="290.2" r="1.5"/><circle cx="364.8" cy="289.7" r="1.5"/><circle cx="365.5" cy="290.0" r="1.5"/><circle cx="366.2" cy="289.0" r="1.5"/><circle cx="366.9" cy="290.4" r="1.5"/><circle cx="367.6" cy="289.2" r="1.5"/><circle cx="368.3" cy="289.8" r="1.5"/><circle cx="369.0" cy="289.9" r="1.5"/><circle cx="369.7" cy="289.4" r="1.5"/><circle cx="370.4" cy="289.2" r="1.5"/><circle cx="371.1" cy="288.8" r="1.5"/><circle cx="371.8" cy="289.4" r="1.5"/><circle cx="372.5" cy="289.1" r="1.5"/><circle cx="373.2" cy="288.0" r="1.5"/><circle cx="373.9" cy="288.8" r="1.5"/><circle cx="374.6" cy="288.5" r="1.5"/><circle cx="375.3" cy="288.7" r="1.5"/><circle cx="376.0" cy="289.0" r="1.5"/><circle cx="376.7" cy="288.9" r="1.5"/><circle cx="377.4" cy="288.7" r="1.5"/><circle cx="378.1" cy="289.0" r="1.5"/><circle cx="378.8" cy="288.7" r="1.5"/><circle cx="379.5" cy="286.8" r="1.5"/><circle cx="380.2" cy="286.5" r="1.5"/><circle cx="380.9" cy="285.9" r="1.5"/><circle cx="381.6" cy="285.8" r="1.5"/><circle cx="382.3" cy="287.0" r="1.5"/><circle cx="383.0" cy="285.3" r="1.5"/><circle cx="383.7" cy="285.1" r="1.5"/><circle cx="384.4" cy="284.8" r="1.5"/><circle cx="385.1" cy="284.6" r="1.5"/><circle cx="385.8" cy="283.6" r="1.5"/><circle cx="386.5" cy="284.2" r="1.5"/><circle cx="387.2" cy="282.9" r="1.5"/><circle cx="387.9" cy="283.5" r="1.5"/><circle cx="388.6" cy="283.1" r="1.5"/><circle cx="389.3" cy="281.4" r="1.5"/><circle cx="390.0" cy="282.3" r="1.5"/><circle cx="390.7" cy="281.3" r="1.5"/><circle cx="391.4" cy="282.7" r="1.5"/><circle cx="392.1" cy="281.0" r="1.5"/><circle cx="392.8" cy="281.3" r="1.5"/><circle cx="393.5" cy="282.1" r="1.5"/><circle cx="394.2" cy="281.7" r="1.5"/><circle cx="394.9" cy="281.7" r="1.5"/><circle cx="395.6" cy="281.1" r="1.5"/><circle cx="396.3" cy="281.1" r="1.5"/><circle cx="397.0" cy="280.4" r="1.5"/><circle cx="397.7" cy="280.8" r="1.5"/><circle cx="398.4" cy="280.3" r="1.5"/><circle cx="399.1" cy="280.9" r="1.5"/><circle cx="399.8" cy="279.8" r="1.5"/><circle cx="400.5" cy="279.7" r="1.5"/><circle cx="401.2" cy="279.7" r="1.5"/><circle cx="401.9" cy="280.2" r="1.5"/><circle cx="402.6" cy="280.1" r="1.5"/><circle cx="403.3" cy="279.0" r="1.5"/><circle cx="404.0" cy="280.6" r="1.5"/><circle cx="404.7" cy="280.3" r="1.5"/><circle cx="405.4" cy="279.4" r="1.5"/><circle cx="406.1" cy="278.9" r="1.5"/><circle cx="406.8" cy="280.0" r="1.5"/><circle cx="407.5" cy="280.1" r="1.5"/><circle cx="408.2" cy="278.6" r="1.5"/><circle cx="408.9" cy="279.5" r="1.5"/><circle cx="409.6" cy="279.5" r="1.5"/><circle cx="410.3" cy="279.6" r="1.5"/><circle cx="411.0" cy="278.3" r="1.5"/><circle cx="411.7" cy="278.0" r="1.5"/><circle cx="412.4" cy="278.0" r="1.5"/><circle cx="413.1" cy="278.0" r="1.5"/><circle cx="413.8" cy="279.1" r="1.5"/><circle cx="414.5" cy="279.0" r="1.5"/><circle cx="415.2" cy="277.9" r="1.5"/><circle cx="415.9" cy="276.8" r="1.5"/><circle cx="416.6" cy="276.7" r="1.5"/><circle cx="417.3" cy="276.0" r="1.5"/><circle cx="418.0" cy="276.2" r="1.5"/><circle cx="418.7" cy="275.8" r="1.5"/><circle cx="419.4" cy="275.4" r="1.5"/><circle cx="282.4" cy="332.1" r="1.5"/><circle cx="283.1" cy="331.7" r="1.5"/><circle cx="283.8" cy="331.3" r="1.5"/><circle cx="284.5" cy="330.4" r="1.5"/><circle cx="285.2" cy="330.3" r="1.5"/><circle cx="285.9" cy="330.7" r="1.5"/><circle cx="286.6" cy="330.3" r="1.5"/><circle cx="287.3" cy="328.4" r="1.5"/><circle cx="288.0" cy="328.8" r="1.5"/><circle cx="288.7" cy="326.7" r="1.5"/><circle cx="289.4" cy="326.0" r="1.5"/><circle cx="290.1" cy="326.9" r="1.5"/><circle cx="290.8" cy="326.4" r="1.5"/><circle cx="291.5" cy="324.8" r="1.5"/><circle cx="292.2" cy="324.6" r="1.5"/><circle cx="292.9" cy="325.5" r="1.5"/><circle cx="293.6" cy="326.9" r="1.5"/><circle cx="294.3" cy="326.1" r="1.5"/><circle cx="295.0" cy="323.0" r="1.5"/><circle cx="295.7" cy="323.6" r="1.5"/><circle cx="296.4" cy="323.4" r="1.5"/><circle cx="297.1" cy="322.8" r="1.5"/><circle cx="297.8" cy="321.7" r="1.5"/><circle cx="298.5" cy="322.7" r="1.5"/><circle cx="299.2" cy="322.9" r="1.5"/><circle cx="299.9" cy="320.9" r="1.5"/><circle cx="300.6" cy="319.8" r="1.5"/><circle cx="301.3" cy="319.0" r="1.5"/><circle cx="302.0" cy="318.2" r="1.5"/><circle cx="302.7" cy="320.1" r="1.5"/><circle cx="303.4" cy="317.9" r="1.5"/><circle cx="304.1" cy="318.9" r="1.5"/><circle cx="304.8" cy="318.6" r="1.5"/><circle cx="305.5" cy="316.0" r="1.5"/><circle cx="306.2" cy="315.9" r="1.5"/><circle cx="306.9" cy="315.9" r="1.5"/><circle cx="307.6" cy="317.0" r="1.5"/><circle cx="308.3" cy="316.5" r="1.5"/><circle cx="309.0" cy="314.8" r="1.5"/><circle cx="309.7" cy="314.9" r="1.5"/><circle cx="310.4" cy="314.3" r="1.5"/><circle cx="311.1" cy="314.2" r="1.5"/><circle cx="311.8" cy="314.8" r="1.5"/><circle cx="312.5" cy="312.9" r="1.5"/><circle cx="313.2" cy="314.1" r="1.5"/><circle cx="313.9" cy="314.1" r="1.5"/><circle cx="314.6" cy="312.8" r="1.5"/><circle cx="315.3" cy="313.5" r="1.5"/><circle cx="316.0" cy="313.0" r="1.5"/><circle cx="316.7" cy="310.5" r="1.5"/><circle cx="317.4" cy="312.5" r="1.5"/><circle cx="318.1" cy="309.9" r="1.5"/><circle cx="318.8" cy="311.3" r="1.5"/><circle cx="319.5" cy="309.1" r="1.5"/><circle cx="320.2" cy="309.4" r="1.5"/><circle cx="320.9" cy="309.5" r="1.5"/><circle cx="321.6" cy="310.3" r="1.5"/><circle cx="322.3" cy="309.6" r="1.5"/><circle cx="323.0" cy="308.0" r="1.5"/><circle cx="323.7" cy="309.6" r="1.5"/><circle cx="324.4" cy="309.2" r="1.5"/><circle cx="325.1" cy="308.0" r="1.5"/><circle cx="325.8" cy="306.5" r="1.5"/><circle cx="326.5" cy="306.8" r="1.5"/><circle cx="327.2" cy="306.6" r="1.5"/><circle cx="327.9" cy="306.6" r="1.5"/><circle cx="328.6" cy="307.7" r="1.5"/><circle cx="329.3" cy="306.5" r="1.5"/><circle cx="330.0" cy="306.8" r="1.5"/><circle cx="330.7" cy="304.5" r="1.5"/><circle cx="331.4" cy="304.6" r="1.5"/><circle cx="332.1" cy="305.5" r="1.5"/><circle cx="332.8" cy="304.1" r="1.5"/><circle cx="333.5" cy="303.5" r="1.5"/><circle cx="334.2" cy="302.7" r="1.5"/><circle cx="334.9" cy="302.3" r="1.5"/><circle cx="335.6" cy="302.9" r="1.5"/><circle cx="336.3" cy="302.8" r="1.5"/><circle cx="337.0" cy="302.1" r="1.5"/><circle cx="337.7" cy="302.2" r="1.5"/><circle cx="338.4" cy="301.1" r="1.5"/><circle cx="339.1" cy="300.1" r="1.5"/><circle cx="339.8" cy="301.3" r="1.5"/><circle cx="340.5" cy="300.1" r="1.5"/><circle cx="341.2" cy="300.2" r="1.5"/><circle cx="341.9" cy="299.5" r="1.5"/><circle cx="342.6" cy="298.9" r="1.5"/><circle cx="343.3" cy="298.1" r="1.5"/><circle cx="344.0" cy="298.4" r="1.5"/><circle cx="344.7" cy="298.1" r="1.5"/><circle cx="345.4" cy="297.4" r="1.5"/><circle cx="346.1" cy="297.0" r="1.5"/><circle cx="346.8" cy="297.7" r="1.5"/><circle cx="347.5" cy="296.4" r="1.5"/><circle cx="348.2" cy="298.1" r="1.5"/><circle cx="348.9" cy="296.6" r="1.5"/><circle cx="349.6" cy="296.5" r="1.5"/><circle cx="350.3" cy="296.4" r="1.5"/><circle cx="351.0" cy="295.0" r="1.5"/><circle cx="351.7" cy="294.9" r="1.5"/><circle cx="352.4" cy="296.2" r="1.5"/><circle cx="353.1" cy="295.4" r="1.5"/><circle cx="353.8" cy="295.0" r="1.5"/><circle cx="354.5" cy="294.3" r="1.5"/><circle cx="355.2" cy="295.0" r="1.5"/><circle cx="355.9" cy="294.3" r="1.5"/><circle cx="356.6" cy="294.8" r="1.5"/><circle cx="357.3" cy="294.8" r="1.5"/><circle cx="358.0" cy="294.8" r="1.5"/><circle cx="358.7" cy="294.3" r="1.5"/><circle cx="359.4" cy="294.0" r="1.5"/><circle cx="360.1" cy="293.4" r="1.5"/><circle cx="360.8" cy="293.1" r="1.5"/><circle cx="361.5" cy="292.8" r="1.5"/><circle cx="362.2" cy="292.2" r="1.5"/><circle cx="362.9" cy="292.5" r="1.5"/><circle cx="363.6" cy="292.1" r="1.5"/><circle cx="364.3" cy="290.0" r="1.5"/><circle cx="365.0" cy="291.0" r="1.5"/><circle cx="365.7" cy="290.3" r="1.5"/><circle cx="366.4" cy="289.9" r="1.5"/><circle cx="367.1" cy="290.1" r="1.5"/><circle cx="367.8" cy="288.0" r="1.5"/><circle cx="368.5" cy="288.9" r="1.5"/><circle cx="369.2" cy="288.7" r="1.5"/><circle cx="369.9" cy="289.8" r="1.5"/><circle cx="370.6" cy="288.2" r="1.5"/><circle cx="371.3" cy="289.0" r="1.5"/><circle cx="372.0" cy="288.0" r="1.5"/><circle cx="372.7" cy="289.3" r="1.5"/><circle cx="373.4" cy="288.7" r="1.5"/><circle cx="374.1" cy="289.2" r="1.5"/><circle cx="374.8" cy="288.3" r="1.5"/><circle cx="375.5" cy="289.4" r="1.5"/><circle cx="376.2" cy="287.6" r="1.5"/><circle cx="376.9" cy="288.0" r="1.5"/><circle cx="377.6" cy="289.0" r="1.5"/><circle cx="378.3" cy="289.1" r="1.5"/><circle cx="379.0" cy="288.5" r="1.5"/><circle cx="379.7" cy="287.1" r="1.5"/><circle cx="380.4" cy="286.3" r="1.5"/><circle cx="381.1" cy="287.1" r="1.5"/><circle cx="381.8" cy="286.8" r="1.5"/><circle cx="382.5" cy="285.1" r="1.5"/><circle cx="383.2" cy="286.4" r="1.5"/><circle cx="383.9" cy="285.2" r="1.5"/><circle cx="384.6" cy="283.8" r="1.5"/><circle cx="385.3" cy="284.3" r="1.5"/><circle cx="386.0" cy="283.6" r="1.5"/><circle cx="386.7" cy="282.8" r="1.5"/><circle cx="387.4" cy="283.9" r="1.5"/><circle cx="388.1" cy="283.6" r="1.5"/><circle cx="388.8" cy="281.7" r="1.5"/><circle cx="389.5" cy="282.2" r="1.5"/><circle cx="390.2" cy="281.8" r="1.5"/><circle cx="390.9" cy="282.4" r="1.5"/><circle cx="391.6" cy="281.2" r="1.5"/><circle cx="392.3" cy="281.5" r="1.5"/><circle cx="393.0" cy="281.5" r="1.5"/><circle cx="393.7" cy="281.5" r="1.5"/><circle cx="394.4" cy="281.3" r="1.5"/><circle cx="395.1" cy="281.5" r="1.5"/><circle cx="395.8" cy="282.0" r="1.5"/><circle cx="396.5" cy="281.9" r="1.5"/><circle cx="397.2" cy="281.7" r="1.5"/><circle cx="397.9" cy="281.4" r="1.5"/><circle cx="398.6" cy="280.2" r="1.5"/><circle cx="399.3" cy="280.1" r="1.5"/><circle cx="400.0" cy="280.4" r="1.5"/><circle cx="400.7" cy="280.6" r="1.5"/><circle cx="401.4" cy="280.4" r="1.5"/><circle cx="402.1" cy="279.8" r="1.5"/><circle cx="402.8" cy="280.8" r="1.5"/><circle cx="403.5" cy="279.5" r="1.5"/><circle cx="404.2" cy="278.9" r="1.5"/><circle cx="404.9" cy="278.9" r="1.5"/><circle cx="405.6" cy="279.1" r="1.5"/><circle cx="406.3" cy="279.9" r="1.5"/><circle cx="407.0" cy="279.9" r="1.5"/><circle cx="407.7" cy="278.5" r="1.5"/><circle cx="408.4" cy="278.7" r="1.5"/><circle cx="409.1" cy="278.6" r="1.5"/><circle cx="409.8" cy="279.4" r="1.5"/><circle cx="410.5" cy="279.5" r="1.5"/><circle cx="411.2" cy="278.4" r="1.5"/><circle cx="411.9" cy="278.0" r="1.5"/><circle cx="412.6" cy="279.3" r="1.5"/><circle cx="413.3" cy="279.2" r="1.5"/><circle cx="414.0" cy="278.7" r="1.5"/><circle cx="414.7" cy="278.2" r="1.5"/><circle cx="415.4" cy="278.2" r="1.5"/><circle cx="416.1" cy="277.7" r="1.5"/><circle cx="416.8" cy="276.8" r="1.5"/><circle cx="417.5" cy="275.9" r="1.5"/><circle cx="418.2" cy="275.8" r="1.5"/><circle cx="418.9" cy="275.5" r="1.5"/><circle cx="419.6" cy="274.5" r="1.5"/><circle cx="421.5" cy="273.6" r="1.5"/><circle cx="423.5" cy="272.6" r="1.5"/><circle cx="425.5" cy="271.6" r="1.5"/><circle cx="427.5" cy="270.4" r="1.5"/><circle cx="429.5" cy="269.5" r="1.5"/><circle cx="431.5" cy="268.4" r="1.5"/><circle cx="433.5" cy="267.3" r="1.5"/><circle cx="435.5" cy="266.6" r="1.5"/><circle cx="437.5" cy="266.0" r="1.5"/><circle cx="440.0" cy="265.5" r="1.5"/><circle cx="443.0" cy="265.3" r="1.5"/><circle cx="446.0" cy="265.2" r="1.5"/><circle cx="449.0" cy="265.2" r="1.5"/><circle cx="452.0" cy="265.3" r="1.5"/>
</g>
<g stroke="#000" fill="none" stroke-width="1">
<path d="M71.9 191.1L106.0 204.7L121.0 233.7L158.5 255.0L223.3 205.6L231.3 202.3L244.4 212.4L253.8 240.4L281.6 255.0L292.5 296.5L412.2 268.5L455.3 236.6"/>
<path d="M71.9 362.7L94.0 359.8L129.6 359.8L158.5 365.4L176.7 353.1L204.2 319.2L228.5 302.3L234.7 302.3L242.3 320.1L263.6 353.2L271.2 358.7L282.1 349.5L296.2 384.0L311.5 400.8L326.2 406.5L344.6 406.5L359.9 400.8L377.4 400.8L408.9 406.5L434.0 399.5L455.3 386.3"/>
<path d="M82.5 204V246M98.5 227V246M108.5 227V250"/>
<path d="M277.5 317.0L279.0 319.5L281.0 323.0L282.5 324.9L283.5 323.4L284.5 325.3L285.5 323.1L286.5 323.0L287.5 324.7L288.5 324.5L289.5 324.2L290.5 323.7L291.5 323.4L292.5 322.9L293.5 321.9L294.5 320.3L295.5 321.6L296.5 321.6L297.5 321.1L298.5 318.4L299.5 317.8L300.5 318.9L301.5 317.7L302.5 318.1L303.5 317.7L304.5 315.7L305.5 315.7L306.5 315.2L307.5 314.7L308.5 313.4L309.5 313.6L310.5 311.6L311.5 313.3L312.5 312.3L313.5 312.0L314.5 310.6L315.5 309.4L316.5 309.6L317.5 309.7L318.5 308.9L319.5 307.4L320.5 306.7L321.5 307.3L322.5 306.5L323.5 306.1L324.5 305.7L325.5 305.8L326.5 306.1L327.5 306.3L328.5 305.3L329.5 303.2L330.5 304.9L331.5 303.7L332.5 303.5L333.5 302.7L334.5 301.5L335.5 301.0L336.5 299.8L337.5 300.8L338.5 298.7L339.5 299.8L340.5 299.3L341.5 298.5L342.5 297.9L343.5 297.8L344.5 297.6L345.5 297.0L346.5 296.8L347.5 295.8L348.5 294.8L349.5 295.1L350.5 294.8L351.5 294.6L352.5 293.9L353.5 293.2L354.5 292.4L355.5 293.1L356.5 292.6L357.5 292.9L358.5 292.2L359.5 292.3L360.5 291.8L361.5 291.5L362.5 290.3L363.5 290.2L364.5 289.0L365.5 287.9L366.5 287.7L367.5 287.1L368.5 287.8L369.5 287.1L370.5 286.9L371.5 287.3L372.5 286.6L373.5 286.8L374.5 286.8L375.5 286.5L376.5 287.0L377.5 286.7L378.5 286.9L379.5 285.8L380.5 285.9L381.5 284.4L382.5 284.3L383.5 283.3L384.5 282.5L385.5 282.3L386.5 282.4L387.5 281.1L388.5 280.8L389.5 280.7L390.5 280.2L391.5 280.3L392.5 279.6L393.5 279.7L394.5 279.5L395.5 279.9L396.5 279.7L397.5 279.4L398.5 279.1L399.5 279.3L400.5 278.9L401.5 277.9L402.5 277.9L403.5 278.5L404.5 278.4L405.5 278.4L406.5 278.0L407.5 277.2L408.5 277.5L409.5 277.4L410.5 277.3L411.5 276.5L412.5 277.4L413.5 276.7L414.5 276.3L415.5 276.5L416.5 275.1L417.5 274.0L418.5 274.1L419.5 272.9L420.5 272.6L421.5 272.1L422.5 271.6L423.5 271.1L424.5 270.6L425.5 270.1L426.5 269.6L427.5 269.0L428.5 268.5L429.5 268.0L430.5 267.5L431.5 266.9L432.5 266.4L433.5 265.9L434.5 265.5L435.5 265.2L436.5 264.9L437.5 264.6L438.5 264.3L439.5 264.0L440.5 263.7L441.5 263.6L442.5 263.6L443.5 263.6L444.5 263.5L445.5 263.5L446.5 263.5L447.5 263.5L448.5 263.5L449.5 263.5L450.5 263.5L451.5 263.4L452.5 263.4L453.5 263.4"/>
</g>
<g stroke="#00f" fill="#00f" stroke-width="1">
<path d="M71.7 220.5h3l-1.5 -3zM71.7 221.7h3l-1.5 -3zM71.7 222.9h3l-1.5 -3zM71.7 224.1h3l-1.5 -3zM71.7 225.3h3l-1.5 -3zM71.7 226.5h3l-1.5 -3zM71.7 227.7h3l-1.5 -3zM71.7 228.9h3l-1.5 -3zM71.7 230.1h3l-1.5 -3zM71.7 231.3h3l-1.5 -3zM71.7 232.5h3l-1.5 -3zM71.7 233.7h3l-1.5 -3zM71.7 234.9h3l-1.5 -3zM71.7 236.1h3l-1.5 -3zM71.7 237.3h3l-1.5 -3zM71.7 238.5h3l-1.5 -3zM71.7 239.7h3l-1.5 -3zM71.7 240.9h3l-1.5 -3zM71.7 242.1h3l-1.5 -3zM71.7 243.3h3l-1.5 -3zM71.7 244.5h3l-1.5 -3zM71.7 245.7h3l-1.5 -3zM71.7 246.9h3l-1.5 -3zM71.7 248.1h3l-1.5 -3zM71.7 249.3h3l-1.5 -3zM71.7 250.5h3l-1.5 -3zM71.7 251.7h3l-1.5 -3zM71.7 252.9h3l-1.5 -3zM71.7 254.1h3l-1.5 -3zM71.7 255.3h3l-1.5 -3zM71.7 256.5h3l-1.5 -3zM71.7 257.7h3l-1.5 -3zM71.7 258.9h3l-1.5 -3zM71.7 260.1h3l-1.5 -3zM71.7 261.3h3l-1.5 -3zM71.7 262.5h3l-1.5 -3zM71.7 263.7h3l-1.5 -3zM71.7 264.9h3l-1.5 -3zM71.7 266.1h3l-1.5 -3zM71.7 267.3h3l-1.5 -3zM71.7 268.5h3l-1.5 -3zM71.7 269.7h3l-1.5 -3zM71.7 270.9h3l-1.5 -3zM71.7 272.1h3l-1.5 -3zM71.7 273.3h3l-1.5 -3zM71.7 274.5h3l-1.5 -3zM71.7 275.7h3l-1.5 -3zM71.7 276.9h3l-1.5 -3zM71.7 278.1h3l-1.5 -3zM71.7 279.3h3l-1.5 -3zM71.7 280.5h3l-1.5 -3zM71.7 281.7h3l-1.5 -3zM71.7 282.9h3l-1.5 -3zM71.7 284.1h3l-1.5 -3zM71.7 285.3h3l-1.5 -3zM71.7 286.5h3l-1.5 -3zM71.7 287.7h3l-1.5 -3zM71.7 288.9h3l-1.5 -3zM71.7 290.1h3l-1.5 -3zM71.7 291.3h3l-1.5 -3zM71.7 292.5h3l-1.5 -3zM71.7 293.7h3l-1.5 -3zM71.7 294.9h3l-1.5 -3zM71.7 296.1h3l-1.5 -3zM71.7 297.3h3l-1.5 -3zM71.7 298.5h3l-1.5 -3zM72.0 237.5h3l-1.5 -3zM72.0 238.9h3l-1.5 -3zM72.0 240.3h3l-1.5 -3zM72.0 241.7h3l-1.5 -3zM72.0 243.1h3l-1.5 -3zM72.0 244.5h3l-1.5 -3zM72.0 245.9h3l-1.5 -3zM72.0 247.3h3l-1.5 -3zM72.0 248.7h3l-1.5 -3zM72.0 250.1h3l-1.5 -3zM72.0 251.5h3l-1.5 -3zM72.0 252.9h3l-1.5 -3zM72.0 254.3h3l-1.5 -3zM72.0 255.7h3l-1.5 -3zM72.0 257.1h3l-1.5 -3zM72.0 258.5h3l-1.5 -3zM72.0 259.9h3l-1.5 -3zM72.0 261.3h3l-1.5 -3zM72.0 262.7h3l-1.5 -3zM72.0 264.1h3l-1.5 -3zM72.0 265.5h3l-1.5 -3zM72.0 266.9h3l-1.5 -3zM72.0 268.3h3l-1.5 -3zM72.0 269.7h3l-1.5 -3zM72.0 271.1h3l-1.5 -3zM72.0 272.5h3l-1.5 -3zM72.0 273.9h3l-1.5 -3zM72.0 275.3h3l-1.5 -3zM72.0 276.7h3l-1.5 -3zM72.0 278.1h3l-1.5 -3zM72.0 279.5h3l-1.5 -3zM72.0 280.9h3l-1.5 -3zM72.0 282.3h3l-1.5 -3zM72.0 283.7h3l-1.5 -3zM72.0 285.1h3l-1.5 -3zM72.0 286.5h3l-1.5 -3zM72.0 287.9h3l-1.5 -3zM72.0 289.3h3l-1.5 -3zM72.0 290.7h3l-1.5 -3zM72.0 292.1h3l-1.5 -3zM72.0 293.5h3l-1.5 -3zM72.0 294.9h3l-1.5 -3zM72.0 296.3h3l-1.5 -3zM72.0 297.7h3l-1.5 -3zM72.0 299.1h3l-1.5 -3zM73.0 245.5h3l-1.5 -3zM73.0 246.9h3l-1.5 -3zM73.0 248.3h3l-1.5 -3zM73.0 249.7h3l-1.5 -3zM73.0 251.1h3l-1.5 -3zM73.0 252.5h3l-1.5 -3zM73.0 253.9h3l-1.5 -3zM73.0 255.3h3l-1.5 -3zM73.0 256.7h3l-1.5 -3zM73.0 258.1h3l-1.5 -3zM73.0 259.5h3l-1.5 -3zM73.0 260.9h3l-1.5 -3zM73.0 262.3h3l-1.5 -3zM73.0 263.7h3l-1.5 -3zM73.0 265.1h3l-1.5 -3zM73.0 266.5h3l-1.5 -3zM73.0 267.9h3l-1.5 -3zM73.0 269.3h3l-1.5 -3zM73.0 270.7h3l-1.5 -3zM73.0 272.1h3l-1.5 -3zM73.0 273.5h3l-1.5 -3zM73.0 274.9h3l-1.5 -3zM73.0 276.3h3l-1.5 -3zM73.0 277.7h3l-1.5 -3zM73.0 279.1h3l-1.5 -3zM73.0 280.5h3l-1.5 -3zM73.0 281.9h3l-1.5 -3zM73.0 283.3h3l-1.5 -3zM73.0 284.7h3l-1.5 -3zM73.0 286.1h3l-1.5 -3zM73.0 287.5h3l-1.5 -3zM73.0 288.9h3l-1.5 -3zM74.0 247.5h3l-1.5 -3zM74.0 248.9h3l-1.5 -3zM74.0 250.3h3l-1.5 -3zM74.0 251.7h3l-1.5 -3zM74.0 253.1h3l-1.5 -3zM74.0 254.5h3l-1.5 -3zM74.0 255.9h3l-1.5 -3zM74.0 257.3h3l-1.5 -3zM74.0 258.7h3l-1.5 -3zM74.0 260.1h3l-1.5 -3zM74.0 261.5h3l-1.5 -3zM74.0 262.9h3l-1.5 -3zM74.0 264.3h3l-1.5 -3zM74.0 265.7h3l-1.5 -3zM74.0 267.1h3l-1.5 -3zM74.0 268.5h3l-1.5 -3zM74.0 269.9h3l-1.5 -3zM74.0 271.3h3l-1.5 -3zM74.0 272.7h3l-1.5 -3zM74.0 274.1h3l-1.5 -3zM74.0 275.5h3l-1.5 -3zM74.0 276.9h3l-1.5 -3zM74.8 247.5h3l-1.5 -3zM74.8 248.9h3l-1.5 -3zM74.8 250.3h3l-1.5 -3zM74.8 251.7h3l-1.5 -3zM74.8 253.1h3l-1.5 -3zM74.8 254.5h3l-1.5 -3zM74.8 255.9h3l-1.5 -3zM74.8 257.3h3l-1.5 -3zM74.8 258.7h3l-1.5 -3zM74.8 260.1h3l-1.5 -3zM74.8 261.5h3l-1.5 -3zM74.8 262.9h3l-1.5 -3zM74.7 244.1h3l-1.5 -3zM75.1 245.6h3l-1.5 -3zM75.2 247.7h3l-1.5 -3zM75.5 249.1h3l-1.5 -3zM75.4 250.0h3l-1.5 -3zM75.3 251.3h3l-1.5 -3zM75.1 252.8h3l-1.5 -3zM74.6 255.2h3l-1.5 -3zM75.4 244.1h3l-1.5 -3zM75.8 244.9h3l-1.5 -3zM76.1 246.4h3l-1.5 -3zM76.2 248.7h3l-1.5 -3zM75.8 249.8h3l-1.5 -3zM75.3 251.5h3l-1.5 -3zM75.3 252.9h3l-1.5 -3zM77.0 243.6h3l-1.5 -3zM76.2 245.2h3l-1.5 -3zM76.8 246.3h3l-1.5 -3zM76.9 248.0h3l-1.5 -3zM76.5 249.5h3l-1.5 -3zM76.4 250.7h3l-1.5 -3zM77.0 252.3h3l-1.5 -3zM77.7 242.9h3l-1.5 -3zM77.1 244.1h3l-1.5 -3zM77.9 246.3h3l-1.5 -3zM77.9 247.6h3l-1.5 -3zM77.0 248.7h3l-1.5 -3zM76.9 250.7h3l-1.5 -3zM77.5 252.5h3l-1.5 -3zM78.0 242.4h3l-1.5 -3zM77.9 243.8h3l-1.5 -3zM77.7 245.6h3l-1.5 -3zM78.1 247.0h3l-1.5 -3zM78.7 248.5h3l-1.5 -3zM78.5 250.2h3l-1.5 -3zM77.8 251.2h3l-1.5 -3zM79.1 242.8h3l-1.5 -3zM78.6 244.1h3l-1.5 -3zM78.7 245.6h3l-1.5 -3zM79.3 247.1h3l-1.5 -3zM78.7 248.1h3l-1.5 -3zM79.5 250.3h3l-1.5 -3zM79.4 251.4h3l-1.5 -3zM79.4 242.1h3l-1.5 -3zM80.2 243.3h3l-1.5 -3zM79.6 244.8h3l-1.5 -3zM80.2 246.6h3l-1.5 -3zM79.4 248.1h3l-1.5 -3zM79.5 249.7h3l-1.5 -3zM79.9 251.4h3l-1.5 -3zM80.2 242.1h3l-1.5 -3zM80.2 243.5h3l-1.5 -3zM80.9 244.8h3l-1.5 -3zM80.9 246.3h3l-1.5 -3zM80.5 248.4h3l-1.5 -3zM80.1 249.6h3l-1.5 -3zM80.6 251.3h3l-1.5 -3zM81.8 242.1h3l-1.5 -3zM81.1 243.1h3l-1.5 -3zM81.4 244.7h3l-1.5 -3zM81.5 246.0h3l-1.5 -3zM81.6 247.8h3l-1.5 -3zM80.9 249.0h3l-1.5 -3zM81.8 251.3h3l-1.5 -3zM82.6 241.6h3l-1.5 -3zM82.7 242.9h3l-1.5 -3zM82.4 245.2h3l-1.5 -3zM81.9 245.8h3l-1.5 -3zM81.8 247.3h3l-1.5 -3zM82.5 249.4h3l-1.5 -3zM82.2 250.4h3l-1.5 -3zM83.1 241.2h3l-1.5 -3zM82.6 243.2h3l-1.5 -3zM83.1 244.9h3l-1.5 -3zM83.3 245.7h3l-1.5 -3zM82.8 247.2h3l-1.5 -3zM83.0 248.6h3l-1.5 -3zM83.4 250.8h3l-1.5 -3zM84.1 241.6h3l-1.5 -3zM84.2 243.5h3l-1.5 -3zM84.1 244.9h3l-1.5 -3zM83.5 246.0h3l-1.5 -3zM83.4 247.9h3l-1.5 -3zM83.8 249.6h3l-1.5 -3zM84.4 241.9h3l-1.5 -3zM85.0 243.9h3l-1.5 -3zM84.9 245.3h3l-1.5 -3zM85.0 246.2h3l-1.5 -3zM84.7 247.5h3l-1.5 -3zM84.8 249.9h3l-1.5 -3zM85.4 241.9h3l-1.5 -3zM85.5 243.3h3l-1.5 -3zM85.4 244.8h3l-1.5 -3zM85.3 247.1h3l-1.5 -3zM85.6 248.6h3l-1.5 -3zM85.4 249.7h3l-1.5 -3zM85.8 242.9h3l-1.5 -3zM86.3 244.0h3l-1.5 -3zM85.8 245.5h3l-1.5 -3zM85.8 246.7h3l-1.5 -3zM85.8 248.5h3l-1.5 -3zM85.8 250.4h3l-1.5 -3zM87.1 243.3h3l-1.5 -3zM87.1 244.1h3l-1.5 -3zM86.8 246.2h3l-1.5 -3zM87.1 247.5h3l-1.5 -3zM87.1 248.4h3l-1.5 -3zM86.7 250.3h3l-1.5 -3zM88.1 243.7h3l-1.5 -3zM87.9 244.5h3l-1.5 -3zM87.3 246.3h3l-1.5 -3zM87.7 248.2h3l-1.5 -3zM87.5 248.9h3l-1.5 -3zM87.3 250.2h3l-1.5 -3zM88.9 243.9h3l-1.5 -3zM88.3 244.6h3l-1.5 -3zM88.7 246.3h3l-1.5 -3zM88.7 248.5h3l-1.5 -3zM88.8 249.4h3l-1.5 -3zM88.7 250.9h3l-1.5 -3zM89.7 243.9h3l-1.5 -3zM89.8 245.9h3l-1.5 -3zM89.8 247.0h3l-1.5 -3zM89.9 248.8h3l-1.5 -3zM89.2 250.3h3l-1.5 -3zM89.2 251.3h3l-1.5 -3zM89.7 244.9h3l-1.5 -3zM89.9 245.9h3l-1.5 -3zM90.5 247.4h3l-1.5 -3zM90.5 249.0h3l-1.5 -3zM90.1 251.2h3l-1.5 -3zM90.5 252.6h3l-1.5 -3zM91.5 245.5h3l-1.5 -3zM91.4 247.0h3l-1.5 -3zM91.1 248.2h3l-1.5 -3zM90.9 249.9h3l-1.5 -3zM90.7 251.5h3l-1.5 -3zM92.2 246.2h3l-1.5 -3zM91.5 247.0h3l-1.5 -3zM91.7 248.9h3l-1.5 -3zM92.1 250.5h3l-1.5 -3zM91.8 252.1h3l-1.5 -3zM92.7 246.7h3l-1.5 -3zM92.7 248.0h3l-1.5 -3zM92.3 249.1h3l-1.5 -3zM92.5 251.4h3l-1.5 -3zM93.0 252.3h3l-1.5 -3zM93.5 246.4h3l-1.5 -3zM93.4 247.5h3l-1.5 -3zM93.7 248.9h3l-1.5 -3zM93.1 250.6h3l-1.5 -3zM93.1 252.0h3l-1.5 -3zM93.8 246.2h3l-1.5 -3zM93.9 247.9h3l-1.5 -3zM94.3 249.3h3l-1.5 -3zM94.2 250.8h3l-1.5 -3zM94.0 252.2h3l-1.5 -3zM94.4 253.4h3l-1.5 -3zM95.2 246.2h3l-1.5 -3zM95.5 247.7h3l-1.5 -3zM95.0 249.4h3l-1.5 -3zM94.8 250.5h3l-1.5 -3zM94.9 252.3h3l-1.5 -3zM95.2 253.3h3l-1.5 -3zM96.3 246.4h3l-1.5 -3zM95.8 247.9h3l-1.5 -3zM95.9 248.8h3l-1.5 -3zM95.4 250.0h3l-1.5 -3zM95.9 252.2h3l-1.5 -3zM95.9 253.7h3l-1.5 -3zM96.5 246.1h3l-1.5 -3zM96.7 247.5h3l-1.5 -3zM96.6 249.0h3l-1.5 -3zM96.7 249.9h3l-1.5 -3zM96.8 252.0h3l-1.5 -3zM96.5 253.8h3l-1.5 -3zM96.6 254.5h3l-1.5 -3zM97.4 245.5h3l-1.5 -3zM97.1 247.6h3l-1.5 -3zM97.1 248.9h3l-1.5 -3zM97.1 250.2h3l-1.5 -3zM97.9 251.3h3l-1.5 -3zM97.8 252.7h3l-1.5 -3zM97.9 255.1h3l-1.5 -3zM98.1 245.7h3l-1.5 -3zM98.2 246.7h3l-1.5 -3zM98.1 248.5h3l-1.5 -3zM98.6 249.7h3l-1.5 -3zM98.2 251.5h3l-1.5 -3zM98.3 253.3h3l-1.5 -3zM98.3 254.4h3l-1.5 -3zM99.5 245.4h3l-1.5 -3zM98.8 246.9h3l-1.5 -3zM99.4 247.9h3l-1.5 -3zM99.1 249.8h3l-1.5 -3zM98.8 251.0h3l-1.5 -3zM98.7 252.8h3l-1.5 -3zM98.9 254.4h3l-1.5 -3zM99.6 245.2h3l-1.5 -3zM99.8 246.9h3l-1.5 -3zM100.1 247.8h3l-1.5 -3zM100.3 249.6h3l-1.5 -3zM99.6 250.8h3l-1.5 -3zM100.0 252.5h3l-1.5 -3zM100.0 253.8h3l-1.5 -3zM101.0 244.6h3l-1.5 -3zM101.0 246.2h3l-1.5 -3zM100.5 247.9h3l-1.5 -3zM100.6 249.3h3l-1.5 -3zM100.7 251.2h3l-1.5 -3zM100.8 251.9h3l-1.5 -3zM101.1 253.3h3l-1.5 -3zM101.0 244.9h3l-1.5 -3zM101.2 245.6h3l-1.5 -3zM101.1 247.5h3l-1.5 -3zM101.7 248.6h3l-1.5 -3zM101.1 250.0h3l-1.5 -3zM101.0 251.8h3l-1.5 -3zM101.4 254.0h3l-1.5 -3zM102.3 245.8h3l-1.5 -3zM102.3 247.3h3l-1.5 -3zM102.4 248.2h3l-1.5 -3zM102.1 249.9h3l-1.5 -3zM101.8 251.9h3l-1.5 -3zM102.2 252.6h3l-1.5 -3zM103.0 246.8h3l-1.5 -3zM102.8 248.1h3l-1.5 -3zM102.6 249.2h3l-1.5 -3zM102.7 251.0h3l-1.5 -3zM103.2 252.2h3l-1.5 -3zM103.2 254.1h3l-1.5 -3zM104.1 243.0h3l-1.5 -3zM103.6 244.5h3l-1.5 -3zM103.8 245.5h3l-1.5 -3zM103.5 246.6h3l-1.5 -3zM103.9 248.1h3l-1.5 -3zM103.3 249.6h3l-1.5 -3zM103.8 251.2h3l-1.5 -3zM103.6 253.3h3l-1.5 -3zM104.5 232.6h3l-1.5 -3zM104.8 234.9h3l-1.5 -3zM104.7 235.9h3l-1.5 -3zM104.6 237.6h3l-1.5 -3zM104.9 239.2h3l-1.5 -3zM104.3 240.7h3l-1.5 -3zM104.2 241.6h3l-1.5 -3zM104.6 243.1h3l-1.5 -3zM104.7 244.7h3l-1.5 -3zM105.0 246.4h3l-1.5 -3zM104.9 248.4h3l-1.5 -3zM104.6 249.7h3l-1.5 -3zM104.6 250.8h3l-1.5 -3zM104.2 252.6h3l-1.5 -3zM105.8 230.5h3l-1.5 -3zM105.2 231.9h3l-1.5 -3zM105.3 233.2h3l-1.5 -3zM105.7 234.3h3l-1.5 -3zM105.4 236.3h3l-1.5 -3zM105.0 238.1h3l-1.5 -3zM105.2 239.2h3l-1.5 -3zM105.1 240.9h3l-1.5 -3zM105.3 242.5h3l-1.5 -3zM105.3 244.1h3l-1.5 -3zM105.5 244.9h3l-1.5 -3zM105.4 246.6h3l-1.5 -3zM105.2 248.8h3l-1.5 -3zM105.4 250.1h3l-1.5 -3zM105.1 251.5h3l-1.5 -3zM105.0 252.6h3l-1.5 -3zM105.8 228.5h3l-1.5 -3zM106.6 231.0h3l-1.5 -3zM106.1 231.5h3l-1.5 -3zM106.4 233.7h3l-1.5 -3zM105.7 235.3h3l-1.5 -3zM105.8 236.2h3l-1.5 -3zM106.5 238.3h3l-1.5 -3zM105.9 239.5h3l-1.5 -3zM106.5 241.1h3l-1.5 -3zM106.2 242.2h3l-1.5 -3zM105.8 243.7h3l-1.5 -3zM106.2 245.6h3l-1.5 -3zM106.2 247.1h3l-1.5 -3zM106.3 248.6h3l-1.5 -3zM106.1 250.3h3l-1.5 -3zM106.2 251.9h3l-1.5 -3zM106.7 253.3h3l-1.5 -3zM107.3 229.5h3l-1.5 -3zM107.1 230.6h3l-1.5 -3zM106.6 232.5h3l-1.5 -3zM106.7 233.9h3l-1.5 -3zM107.0 235.4h3l-1.5 -3zM106.9 236.6h3l-1.5 -3zM106.8 238.5h3l-1.5 -3zM107.4 239.7h3l-1.5 -3zM106.8 241.3h3l-1.5 -3zM106.9 243.0h3l-1.5 -3zM107.3 244.6h3l-1.5 -3zM107.3 246.1h3l-1.5 -3zM107.5 247.3h3l-1.5 -3zM106.9 249.0h3l-1.5 -3zM106.8 250.7h3l-1.5 -3zM106.9 251.9h3l-1.5 -3zM107.0 253.2h3l-1.5 -3zM107.3 230.4h3l-1.5 -3zM107.8 232.6h3l-1.5 -3zM107.4 234.1h3l-1.5 -3zM108.3 235.5h3l-1.5 -3zM107.6 236.2h3l-1.5 -3zM108.2 237.7h3l-1.5 -3zM107.6 240.1h3l-1.5 -3zM108.0 241.5h3l-1.5 -3zM108.1 242.3h3l-1.5 -3zM107.8 243.8h3l-1.5 -3zM107.7 245.7h3l-1.5 -3zM108.1 247.0h3l-1.5 -3zM108.0 248.3h3l-1.5 -3zM107.6 249.7h3l-1.5 -3zM107.9 251.8h3l-1.5 -3zM108.0 253.1h3l-1.5 -3zM109.0 235.1h3l-1.5 -3zM108.7 236.7h3l-1.5 -3zM108.3 237.6h3l-1.5 -3zM108.7 239.4h3l-1.5 -3zM109.1 241.0h3l-1.5 -3zM108.1 242.8h3l-1.5 -3zM108.6 243.5h3l-1.5 -3zM108.9 245.5h3l-1.5 -3zM109.0 246.9h3l-1.5 -3zM108.4 248.3h3l-1.5 -3zM108.6 249.7h3l-1.5 -3zM108.7 251.0h3l-1.5 -3zM108.4 252.5h3l-1.5 -3zM108.1 254.4h3l-1.5 -3zM109.6 243.2h3l-1.5 -3zM109.8 244.9h3l-1.5 -3zM109.6 246.0h3l-1.5 -3zM109.8 247.6h3l-1.5 -3zM109.7 249.0h3l-1.5 -3zM109.9 250.9h3l-1.5 -3zM109.1 252.5h3l-1.5 -3zM109.1 253.6h3l-1.5 -3zM110.1 248.5h3l-1.5 -3zM110.1 249.9h3l-1.5 -3zM110.1 251.3h3l-1.5 -3zM110.5 253.1h3l-1.5 -3zM110.4 254.6h3l-1.5 -3zM111.5 249.9h3l-1.5 -3zM111.2 251.3h3l-1.5 -3zM111.4 252.9h3l-1.5 -3zM110.9 254.1h3l-1.5 -3zM110.6 255.4h3l-1.5 -3zM111.6 249.9h3l-1.5 -3zM111.3 251.6h3l-1.5 -3zM111.4 252.7h3l-1.5 -3zM111.8 254.7h3l-1.5 -3zM111.9 255.5h3l-1.5 -3zM112.8 249.9h3l-1.5 -3zM112.7 251.6h3l-1.5 -3zM113.1 253.1h3l-1.5 -3zM112.4 254.5h3l-1.5 -3zM113.1 256.0h3l-1.5 -3zM112.3 257.7h3l-1.5 -3zM113.6 250.9h3l-1.5 -3zM113.0 251.8h3l-1.5 -3zM113.6 253.5h3l-1.5 -3zM113.6 255.1h3l-1.5 -3zM113.0 256.0h3l-1.5 -3zM113.1 257.8h3l-1.5 -3zM113.9 251.7h3l-1.5 -3zM113.8 252.9h3l-1.5 -3zM114.2 255.2h3l-1.5 -3zM113.9 256.0h3l-1.5 -3zM114.4 257.5h3l-1.5 -3zM113.8 259.4h3l-1.5 -3zM114.8 253.8h3l-1.5 -3zM115.0 255.0h3l-1.5 -3zM114.9 256.0h3l-1.5 -3zM115.3 257.9h3l-1.5 -3zM115.3 259.1h3l-1.5 -3zM115.7 255.1h3l-1.5 -3zM115.5 256.2h3l-1.5 -3zM116.2 258.5h3l-1.5 -3zM116.3 259.6h3l-1.5 -3zM116.8 256.7h3l-1.5 -3zM116.6 257.7h3l-1.5 -3zM116.7 259.5h3l-1.5 -3zM116.8 260.6h3l-1.5 -3zM117.2 256.6h3l-1.5 -3zM117.7 258.4h3l-1.5 -3zM117.2 260.2h3l-1.5 -3zM117.4 261.2h3l-1.5 -3zM118.1 256.9h3l-1.5 -3zM117.8 258.4h3l-1.5 -3zM118.7 260.7h3l-1.5 -3zM118.2 262.3h3l-1.5 -3zM119.0 256.7h3l-1.5 -3zM118.6 257.9h3l-1.5 -3zM119.1 259.4h3l-1.5 -3zM119.2 260.8h3l-1.5 -3zM119.2 262.2h3l-1.5 -3zM119.8 254.8h3l-1.5 -3zM119.8 256.0h3l-1.5 -3zM119.5 258.1h3l-1.5 -3zM119.5 259.4h3l-1.5 -3zM120.3 261.0h3l-1.5 -3zM120.0 262.7h3l-1.5 -3zM120.3 263.8h3l-1.5 -3zM120.5 253.5h3l-1.5 -3zM120.1 254.7h3l-1.5 -3zM120.4 256.3h3l-1.5 -3zM120.8 258.1h3l-1.5 -3zM120.6 259.4h3l-1.5 -3zM120.2 260.9h3l-1.5 -3zM121.0 262.4h3l-1.5 -3zM120.6 263.8h3l-1.5 -3zM121.3 250.9h3l-1.5 -3zM121.1 253.0h3l-1.5 -3zM121.4 253.8h3l-1.5 -3zM121.5 256.1h3l-1.5 -3zM121.6 256.9h3l-1.5 -3zM121.9 258.4h3l-1.5 -3zM121.4 260.2h3l-1.5 -3zM121.1 261.5h3l-1.5 -3zM121.1 262.9h3l-1.5 -3zM121.7 249.9h3l-1.5 -3zM122.4 251.0h3l-1.5 -3zM122.7 252.7h3l-1.5 -3zM122.2 254.7h3l-1.5 -3zM122.3 255.8h3l-1.5 -3zM122.4 257.5h3l-1.5 -3zM122.0 258.4h3l-1.5 -3zM122.4 260.5h3l-1.5 -3zM122.3 261.4h3l-1.5 -3zM122.4 263.0h3l-1.5 -3zM123.3 252.2h3l-1.5 -3zM123.1 253.1h3l-1.5 -3zM122.9 255.3h3l-1.5 -3zM122.6 256.1h3l-1.5 -3zM122.9 258.4h3l-1.5 -3zM123.1 259.3h3l-1.5 -3zM122.6 261.4h3l-1.5 -3zM123.3 262.8h3l-1.5 -3zM122.7 264.3h3l-1.5 -3zM123.3 254.1h3l-1.5 -3zM123.6 256.4h3l-1.5 -3zM123.3 257.1h3l-1.5 -3zM124.0 259.2h3l-1.5 -3zM123.6 260.0h3l-1.5 -3zM124.2 262.4h3l-1.5 -3zM124.2 263.5h3l-1.5 -3zM123.4 265.1h3l-1.5 -3zM124.7 257.0h3l-1.5 -3zM124.9 258.2h3l-1.5 -3zM125.1 259.7h3l-1.5 -3zM124.5 261.3h3l-1.5 -3zM124.9 262.8h3l-1.5 -3zM125.0 264.0h3l-1.5 -3zM125.8 258.7h3l-1.5 -3zM125.2 259.3h3l-1.5 -3zM125.5 261.4h3l-1.5 -3zM125.9 262.9h3l-1.5 -3zM125.6 264.6h3l-1.5 -3zM125.1 266.0h3l-1.5 -3zM126.1 259.6h3l-1.5 -3zM126.0 261.3h3l-1.5 -3zM126.4 263.0h3l-1.5 -3zM126.0 264.0h3l-1.5 -3zM126.5 266.2h3l-1.5 -3zM127.3 261.0h3l-1.5 -3zM126.6 262.0h3l-1.5 -3zM127.0 263.5h3l-1.5 -3zM127.3 264.9h3l-1.5 -3zM126.5 266.7h3l-1.5 -3zM127.4 260.5h3l-1.5 -3zM127.9 262.6h3l-1.5 -3zM127.8 263.6h3l-1.5 -3zM127.9 265.5h3l-1.5 -3zM127.6 266.7h3l-1.5 -3zM128.3 261.3h3l-1.5 -3zM128.5 262.9h3l-1.5 -3zM128.8 264.1h3l-1.5 -3zM128.7 265.6h3l-1.5 -3zM128.8 267.0h3l-1.5 -3zM129.5 261.9h3l-1.5 -3zM129.7 263.2h3l-1.5 -3zM129.8 265.1h3l-1.5 -3zM129.7 266.0h3l-1.5 -3zM129.2 267.8h3l-1.5 -3zM129.8 261.7h3l-1.5 -3zM129.8 263.6h3l-1.5 -3zM130.1 265.4h3l-1.5 -3zM130.5 266.5h3l-1.5 -3zM130.0 267.8h3l-1.5 -3zM130.6 261.9h3l-1.5 -3zM131.4 263.6h3l-1.5 -3zM130.5 265.8h3l-1.5 -3zM130.9 267.1h3l-1.5 -3zM131.0 268.8h3l-1.5 -3zM131.4 262.4h3l-1.5 -3zM131.9 263.5h3l-1.5 -3zM132.2 265.3h3l-1.5 -3zM132.0 266.5h3l-1.5 -3zM131.4 268.0h3l-1.5 -3zM132.9 262.7h3l-1.5 -3zM133.0 263.8h3l-1.5 -3zM132.2 265.6h3l-1.5 -3zM132.6 267.1h3l-1.5 -3zM132.7 268.3h3l-1.5 -3zM133.1 261.8h3l-1.5 -3zM133.0 263.6h3l-1.5 -3zM133.2 265.6h3l-1.5 -3zM132.9 266.9h3l-1.5 -3zM133.0 267.7h3l-1.5 -3zM133.8 269.3h3l-1.5 -3zM134.3 262.0h3l-1.5 -3zM134.1 263.3h3l-1.5 -3zM133.8 265.2h3l-1.5 -3zM134.1 266.6h3l-1.5 -3zM134.5 267.5h3l-1.5 -3zM134.1 269.3h3l-1.5 -3zM135.4 261.9h3l-1.5 -3zM134.7 263.3h3l-1.5 -3zM134.5 264.8h3l-1.5 -3zM134.6 265.9h3l-1.5 -3zM135.0 267.8h3l-1.5 -3zM134.7 269.4h3l-1.5 -3zM135.6 261.8h3l-1.5 -3zM135.4 263.5h3l-1.5 -3zM135.7 264.3h3l-1.5 -3zM135.6 266.3h3l-1.5 -3zM135.4 268.1h3l-1.5 -3zM135.5 269.1h3l-1.5 -3zM136.2 261.5h3l-1.5 -3zM137.1 262.7h3l-1.5 -3zM136.3 264.6h3l-1.5 -3zM136.7 265.7h3l-1.5 -3zM136.3 267.6h3l-1.5 -3zM136.3 268.5h3l-1.5 -3zM136.8 270.9h3l-1.5 -3zM137.7 262.0h3l-1.5 -3zM137.1 263.0h3l-1.5 -3zM137.5 264.8h3l-1.5 -3zM137.5 266.2h3l-1.5 -3zM137.1 267.4h3l-1.5 -3zM137.0 268.7h3l-1.5 -3zM137.5 270.3h3l-1.5 -3zM138.6 262.3h3l-1.5 -3zM137.8 263.8h3l-1.5 -3zM138.3 264.3h3l-1.5 -3zM138.1 266.2h3l-1.5 -3zM138.0 267.4h3l-1.5 -3zM137.9 268.9h3l-1.5 -3zM138.1 270.8h3l-1.5 -3zM138.7 262.4h3l-1.5 -3zM139.4 263.5h3l-1.5 -3zM139.3 264.9h3l-1.5 -3zM139.3 266.8h3l-1.5 -3zM138.9 268.2h3l-1.5 -3zM138.9 269.2h3l-1.5 -3zM138.9 270.6h3l-1.5 -3zM140.0 261.9h3l-1.5 -3zM139.8 264.0h3l-1.5 -3zM139.9 265.6h3l-1.5 -3zM140.0 266.9h3l-1.5 -3zM140.0 268.4h3l-1.5 -3zM140.2 269.8h3l-1.5 -3zM140.0 271.2h3l-1.5 -3zM140.6 262.8h3l-1.5 -3zM140.4 263.5h3l-1.5 -3zM140.6 265.1h3l-1.5 -3zM140.8 267.0h3l-1.5 -3zM140.1 268.0h3l-1.5 -3zM140.7 269.7h3l-1.5 -3zM140.8 271.3h3l-1.5 -3zM141.0 262.7h3l-1.5 -3zM141.9 263.6h3l-1.5 -3zM141.5 265.6h3l-1.5 -3zM141.5 267.0h3l-1.5 -3zM141.4 269.0h3l-1.5 -3zM141.8 269.9h3l-1.5 -3zM141.7 271.6h3l-1.5 -3zM142.5 263.0h3l-1.5 -3zM141.8 263.7h3l-1.5 -3zM141.9 265.8h3l-1.5 -3zM142.6 266.7h3l-1.5 -3zM142.2 268.9h3l-1.5 -3zM142.4 270.1h3l-1.5 -3zM142.6 271.9h3l-1.5 -3zM142.6 263.0h3l-1.5 -3zM142.8 264.1h3l-1.5 -3zM143.3 265.3h3l-1.5 -3zM142.8 267.4h3l-1.5 -3zM143.3 269.0h3l-1.5 -3zM142.6 270.1h3l-1.5 -3zM143.2 272.0h3l-1.5 -3zM144.0 261.2h3l-1.5 -3zM143.4 262.6h3l-1.5 -3zM143.6 264.5h3l-1.5 -3zM143.6 265.6h3l-1.5 -3zM143.4 267.6h3l-1.5 -3zM144.1 268.5h3l-1.5 -3zM143.8 270.9h3l-1.5 -3zM144.5 262.6h3l-1.5 -3zM144.9 263.6h3l-1.5 -3zM145.0 265.9h3l-1.5 -3zM144.8 267.0h3l-1.5 -3zM144.6 269.0h3l-1.5 -3zM144.2 269.7h3l-1.5 -3zM144.7 272.1h3l-1.5 -3zM145.0 264.9h3l-1.5 -3zM145.4 267.0h3l-1.5 -3zM145.5 268.3h3l-1.5 -3zM145.0 269.4h3l-1.5 -3zM145.5 271.4h3l-1.5 -3zM145.0 272.3h3l-1.5 -3zM80.8 206.0h3l-1.5 -3zM80.8 207.8h3l-1.5 -3zM80.8 211.8h3l-1.5 -3zM80.8 216.5h3l-1.5 -3zM80.8 218.1h3l-1.5 -3zM80.8 227.5h3l-1.5 -3zM80.8 234.0h3l-1.5 -3zM80.8 237.5h3l-1.5 -3zM80.8 240.0h3l-1.5 -3zM96.5 227.9h3l-1.5 -3zM96.5 229.9h3l-1.5 -3zM96.5 231.9h3l-1.5 -3zM96.5 234.3h3l-1.5 -3zM96.5 236.7h3l-1.5 -3zM96.5 239.6h3l-1.5 -3zM96.5 242.3h3l-1.5 -3zM96.5 244.1h3l-1.5 -3zM146.0 273.1h3l-1.5 -3zM146.4 271.0h3l-1.5 -3zM146.9 274.6h3l-1.5 -3zM147.3 275.1h3l-1.5 -3zM147.8 278.5h3l-1.5 -3zM148.2 279.2h3l-1.5 -3zM148.7 280.9h3l-1.5 -3zM149.1 283.4h3l-1.5 -3zM149.6 285.0h3l-1.5 -3zM150.0 284.7h3l-1.5 -3zM150.5 287.0h3l-1.5 -3zM150.9 288.0h3l-1.5 -3zM151.4 290.1h3l-1.5 -3zM151.8 290.6h3l-1.5 -3zM152.3 292.6h3l-1.5 -3zM152.7 293.1h3l-1.5 -3zM153.2 293.5h3l-1.5 -3zM153.6 296.4h3l-1.5 -3zM154.1 296.0h3l-1.5 -3zM154.5 297.4h3l-1.5 -3zM155.0 299.0h3l-1.5 -3zM155.4 299.2h3l-1.5 -3zM155.9 301.8h3l-1.5 -3zM156.3 302.3h3l-1.5 -3zM156.8 301.5h3l-1.5 -3zM157.2 303.0h3l-1.5 -3zM157.7 302.5h3l-1.5 -3zM158.1 303.7h3l-1.5 -3zM158.6 303.3h3l-1.5 -3zM159.0 304.1h3l-1.5 -3zM159.5 304.9h3l-1.5 -3zM159.9 305.5h3l-1.5 -3zM160.4 306.2h3l-1.5 -3zM160.8 307.2h3l-1.5 -3zM161.3 305.9h3l-1.5 -3zM161.7 305.6h3l-1.5 -3zM162.2 305.0h3l-1.5 -3zM162.6 305.6h3l-1.5 -3zM163.1 304.5h3l-1.5 -3zM163.5 303.9h3l-1.5 -3zM164.0 303.5h3l-1.5 -3zM164.4 304.2h3l-1.5 -3zM164.9 305.6h3l-1.5 -3zM165.3 305.3h3l-1.5 -3zM165.8 306.6h3l-1.5 -3zM166.2 306.4h3l-1.5 -3zM166.7 307.2h3l-1.5 -3zM167.1 307.0h3l-1.5 -3zM167.6 307.9h3l-1.5 -3zM168.0 309.0h3l-1.5 -3zM168.5 308.3h3l-1.5 -3zM168.9 309.5h3l-1.5 -3zM169.4 309.6h3l-1.5 -3zM169.8 309.6h3l-1.5 -3zM170.3 309.5h3l-1.5 -3zM170.7 308.9h3l-1.5 -3zM171.2 309.4h3l-1.5 -3zM171.6 308.1h3l-1.5 -3zM172.1 308.2h3l-1.5 -3zM172.5 308.0h3l-1.5 -3zM173.0 307.6h3l-1.5 -3zM173.4 308.6h3l-1.5 -3zM173.9 308.1h3l-1.5 -3zM174.3 308.2h3l-1.5 -3zM174.8 306.5h3l-1.5 -3zM175.2 306.3h3l-1.5 -3zM175.7 306.3h3l-1.5 -3zM176.1 306.3h3l-1.5 -3zM176.6 306.4h3l-1.5 -3zM177.0 305.9h3l-1.5 -3zM177.5 305.4h3l-1.5 -3zM177.9 303.2h3l-1.5 -3zM178.4 302.7h3l-1.5 -3zM178.8 302.8h3l-1.5 -3zM179.3 302.4h3l-1.5 -3zM179.7 301.0h3l-1.5 -3zM180.2 301.2h3l-1.5 -3zM180.6 300.2h3l-1.5 -3zM181.1 301.1h3l-1.5 -3zM181.5 299.3h3l-1.5 -3zM182.0 298.9h3l-1.5 -3zM182.4 298.1h3l-1.5 -3zM182.9 298.9h3l-1.5 -3zM183.3 296.9h3l-1.5 -3zM183.8 297.0h3l-1.5 -3zM184.2 296.0h3l-1.5 -3zM184.7 295.6h3l-1.5 -3zM185.1 296.5h3l-1.5 -3zM185.6 295.4h3l-1.5 -3zM186.0 294.9h3l-1.5 -3zM186.5 293.6h3l-1.5 -3zM186.9 294.3h3l-1.5 -3zM187.4 293.8h3l-1.5 -3zM187.8 292.6h3l-1.5 -3zM188.3 291.2h3l-1.5 -3zM188.7 290.4h3l-1.5 -3zM189.2 291.1h3l-1.5 -3zM189.6 290.7h3l-1.5 -3zM190.1 291.2h3l-1.5 -3zM190.5 291.2h3l-1.5 -3zM191.0 290.5h3l-1.5 -3zM191.4 289.1h3l-1.5 -3zM191.9 290.3h3l-1.5 -3zM192.3 289.3h3l-1.5 -3zM192.8 287.8h3l-1.5 -3zM193.2 287.9h3l-1.5 -3zM193.7 289.1h3l-1.5 -3zM194.1 288.5h3l-1.5 -3zM194.6 288.1h3l-1.5 -3zM195.0 287.6h3l-1.5 -3zM195.5 286.1h3l-1.5 -3zM195.9 287.6h3l-1.5 -3zM196.4 286.0h3l-1.5 -3zM196.8 286.7h3l-1.5 -3zM197.3 285.9h3l-1.5 -3zM197.7 285.4h3l-1.5 -3zM198.2 285.1h3l-1.5 -3zM198.6 285.5h3l-1.5 -3zM199.1 285.0h3l-1.5 -3zM199.5 283.7h3l-1.5 -3zM200.0 284.3h3l-1.5 -3zM200.4 282.5h3l-1.5 -3zM200.9 282.5h3l-1.5 -3zM201.3 282.0h3l-1.5 -3zM201.8 281.1h3l-1.5 -3zM202.2 281.4h3l-1.5 -3zM202.7 280.3h3l-1.5 -3zM203.1 281.8h3l-1.5 -3zM203.6 281.1h3l-1.5 -3zM204.0 280.1h3l-1.5 -3zM204.5 278.8h3l-1.5 -3zM204.9 278.8h3l-1.5 -3zM205.4 279.4h3l-1.5 -3zM205.8 278.0h3l-1.5 -3zM206.3 277.2h3l-1.5 -3zM206.7 277.4h3l-1.5 -3zM207.2 277.3h3l-1.5 -3zM207.6 275.9h3l-1.5 -3zM208.1 276.0h3l-1.5 -3zM208.5 275.9h3l-1.5 -3zM209.0 275.8h3l-1.5 -3zM209.4 275.2h3l-1.5 -3zM209.9 276.5h3l-1.5 -3zM210.3 275.1h3l-1.5 -3zM210.8 276.2h3l-1.5 -3zM211.2 275.0h3l-1.5 -3zM211.7 276.8h3l-1.5 -3zM212.1 276.2h3l-1.5 -3zM212.6 275.6h3l-1.5 -3zM213.0 277.0h3l-1.5 -3zM213.5 277.3h3l-1.5 -3zM213.9 275.4h3l-1.5 -3zM214.4 276.5h3l-1.5 -3zM214.8 276.2h3l-1.5 -3zM215.3 274.6h3l-1.5 -3zM215.7 275.1h3l-1.5 -3zM216.2 274.6h3l-1.5 -3zM216.6 273.9h3l-1.5 -3zM217.1 273.1h3l-1.5 -3zM217.5 272.6h3l-1.5 -3zM218.0 273.2h3l-1.5 -3zM218.4 272.7h3l-1.5 -3zM218.9 273.0h3l-1.5 -3zM219.3 271.2h3l-1.5 -3zM219.8 272.2h3l-1.5 -3zM220.2 272.5h3l-1.5 -3zM220.7 271.5h3l-1.5 -3zM221.1 271.1h3l-1.5 -3zM221.6 272.9h3l-1.5 -3zM222.0 272.7h3l-1.5 -3zM222.5 272.5h3l-1.5 -3zM222.9 271.8h3l-1.5 -3zM223.4 272.0h3l-1.5 -3zM223.8 272.4h3l-1.5 -3zM224.3 270.5h3l-1.5 -3zM224.7 271.3h3l-1.5 -3zM225.2 270.8h3l-1.5 -3zM225.6 269.9h3l-1.5 -3zM226.1 270.4h3l-1.5 -3zM226.5 269.3h3l-1.5 -3zM227.0 269.4h3l-1.5 -3zM227.4 267.5h3l-1.5 -3zM227.9 267.5h3l-1.5 -3zM228.3 266.8h3l-1.5 -3zM228.8 266.8h3l-1.5 -3zM229.2 267.1h3l-1.5 -3zM229.7 267.7h3l-1.5 -3zM230.1 267.6h3l-1.5 -3zM230.6 267.5h3l-1.5 -3zM231.0 267.9h3l-1.5 -3zM231.5 267.3h3l-1.5 -3zM231.9 267.4h3l-1.5 -3zM232.4 265.5h3l-1.5 -3zM232.8 266.5h3l-1.5 -3zM233.3 266.8h3l-1.5 -3zM233.7 265.5h3l-1.5 -3zM234.2 268.3h3l-1.5 -3zM234.6 266.4h3l-1.5 -3zM235.1 265.9h3l-1.5 -3zM235.5 265.3h3l-1.5 -3zM236.0 267.1h3l-1.5 -3zM236.4 267.0h3l-1.5 -3zM236.9 269.8h3l-1.5 -3zM237.3 269.3h3l-1.5 -3zM237.8 269.3h3l-1.5 -3zM238.2 269.2h3l-1.5 -3zM238.7 269.6h3l-1.5 -3zM239.1 271.9h3l-1.5 -3zM239.6 272.3h3l-1.5 -3zM240.0 272.7h3l-1.5 -3zM240.5 273.3h3l-1.5 -3zM240.9 273.8h3l-1.5 -3zM241.4 275.7h3l-1.5 -3zM241.8 275.0h3l-1.5 -3zM242.3 276.4h3l-1.5 -3zM242.7 278.5h3l-1.5 -3zM243.2 278.6h3l-1.5 -3zM243.6 279.6h3l-1.5 -3zM244.1 280.8h3l-1.5 -3zM244.5 281.6h3l-1.5 -3zM245.0 283.5h3l-1.5 -3zM245.4 283.2h3l-1.5 -3zM245.9 285.1h3l-1.5 -3zM246.3 286.3h3l-1.5 -3zM246.8 286.3h3l-1.5 -3zM247.2 287.8h3l-1.5 -3zM247.7 287.8h3l-1.5 -3zM248.1 289.1h3l-1.5 -3zM248.6 288.8h3l-1.5 -3zM249.0 290.0h3l-1.5 -3zM249.5 291.2h3l-1.5 -3zM249.9 292.3h3l-1.5 -3zM250.4 293.2h3l-1.5 -3zM250.8 293.5h3l-1.5 -3zM251.3 295.7h3l-1.5 -3zM251.7 297.6h3l-1.5 -3zM252.2 297.6h3l-1.5 -3zM252.6 298.6h3l-1.5 -3zM253.1 300.7h3l-1.5 -3zM253.5 301.0h3l-1.5 -3zM254.0 301.7h3l-1.5 -3zM254.4 302.5h3l-1.5 -3zM254.9 304.6h3l-1.5 -3zM255.3 306.0h3l-1.5 -3zM255.8 306.7h3l-1.5 -3zM256.2 307.2h3l-1.5 -3zM256.7 308.7h3l-1.5 -3zM257.1 309.6h3l-1.5 -3zM257.6 308.9h3l-1.5 -3zM258.0 309.7h3l-1.5 -3zM258.5 311.5h3l-1.5 -3zM258.9 312.0h3l-1.5 -3zM259.4 311.9h3l-1.5 -3zM259.8 312.4h3l-1.5 -3zM260.3 312.3h3l-1.5 -3zM260.7 312.3h3l-1.5 -3zM261.2 313.4h3l-1.5 -3zM261.6 313.7h3l-1.5 -3zM262.1 315.1h3l-1.5 -3zM262.5 315.7h3l-1.5 -3zM263.0 316.2h3l-1.5 -3zM263.4 317.3h3l-1.5 -3zM263.9 315.7h3l-1.5 -3zM264.3 316.5h3l-1.5 -3zM264.8 316.6h3l-1.5 -3zM265.2 317.6h3l-1.5 -3zM265.7 319.2h3l-1.5 -3zM266.1 318.5h3l-1.5 -3zM266.6 319.7h3l-1.5 -3zM267.0 318.6h3l-1.5 -3zM267.5 319.4h3l-1.5 -3zM267.9 320.7h3l-1.5 -3zM268.4 320.0h3l-1.5 -3zM268.8 321.3h3l-1.5 -3zM269.3 321.4h3l-1.5 -3zM269.7 321.9h3l-1.5 -3zM270.2 320.8h3l-1.5 -3zM270.6 321.9h3l-1.5 -3zM271.1 323.7h3l-1.5 -3zM271.5 322.7h3l-1.5 -3zM272.0 322.9h3l-1.5 -3zM272.4 324.9h3l-1.5 -3zM272.9 324.4h3l-1.5 -3zM273.3 325.0h3l-1.5 -3zM273.8 324.9h3l-1.5 -3zM274.2 325.6h3l-1.5 -3zM274.7 325.5h3l-1.5 -3zM275.1 325.6h3l-1.5 -3zM275.6 326.0h3l-1.5 -3zM276.0 326.2h3l-1.5 -3zM276.5 327.7h3l-1.5 -3zM276.9 326.7h3l-1.5 -3zM277.4 327.1h3l-1.5 -3zM277.8 328.5h3l-1.5 -3zM278.3 330.0h3l-1.5 -3zM278.7 329.9h3l-1.5 -3zM279.2 330.0h3l-1.5 -3zM279.6 330.6h3l-1.5 -3zM280.1 329.7h3l-1.5 -3zM280.5 330.8h3l-1.5 -3zM281.0 330.0h3l-1.5 -3zM281.4 331.6h3l-1.5 -3zM281.9 330.8h3l-1.5 -3zM282.3 331.4h3l-1.5 -3zM282.8 331.8h3l-1.5 -3zM283.2 332.7h3l-1.5 -3zM283.7 333.4h3l-1.5 -3zM284.1 333.1h3l-1.5 -3zM284.6 332.9h3l-1.5 -3zM285.0 333.3h3l-1.5 -3zM285.5 336.8h3l-1.5 -3zM285.9 337.5h3l-1.5 -3zM286.4 337.9h3l-1.5 -3zM286.8 334.7h3l-1.5 -3zM287.3 335.4h3l-1.5 -3zM287.7 339.6h3l-1.5 -3zM288.2 335.1h3l-1.5 -3zM288.6 336.3h3l-1.5 -3zM289.1 340.0h3l-1.5 -3zM289.5 342.7h3l-1.5 -3zM290.0 342.1h3l-1.5 -3zM290.4 341.2h3l-1.5 -3zM290.9 337.4h3l-1.5 -3zM291.3 339.9h3l-1.5 -3zM291.8 340.8h3l-1.5 -3zM292.2 340.2h3l-1.5 -3zM292.7 340.3h3l-1.5 -3zM293.1 338.8h3l-1.5 -3zM293.6 338.6h3l-1.5 -3zM294.0 337.8h3l-1.5 -3zM294.5 336.0h3l-1.5 -3zM294.9 336.5h3l-1.5 -3zM295.4 338.0h3l-1.5 -3zM295.8 336.0h3l-1.5 -3zM296.3 333.1h3l-1.5 -3zM296.7 335.2h3l-1.5 -3zM297.2 337.4h3l-1.5 -3zM297.6 336.6h3l-1.5 -3zM298.1 335.4h3l-1.5 -3zM298.5 337.7h3l-1.5 -3zM299.0 336.8h3l-1.5 -3zM299.4 334.1h3l-1.5 -3zM299.9 336.5h3l-1.5 -3zM300.3 337.4h3l-1.5 -3zM300.8 332.9h3l-1.5 -3zM301.2 337.8h3l-1.5 -3zM301.7 335.1h3l-1.5 -3zM302.1 337.3h3l-1.5 -3zM302.6 332.9h3l-1.5 -3zM303.0 334.5h3l-1.5 -3zM303.5 334.5h3l-1.5 -3zM303.9 333.8h3l-1.5 -3zM304.4 336.0h3l-1.5 -3zM304.8 336.6h3l-1.5 -3zM305.3 335.7h3l-1.5 -3zM305.7 337.0h3l-1.5 -3zM306.2 332.5h3l-1.5 -3zM306.6 333.3h3l-1.5 -3zM307.1 333.8h3l-1.5 -3zM307.5 335.8h3l-1.5 -3zM308.0 335.3h3l-1.5 -3zM308.4 336.6h3l-1.5 -3zM308.9 335.8h3l-1.5 -3zM309.3 333.7h3l-1.5 -3zM309.8 334.7h3l-1.5 -3zM310.2 335.0h3l-1.5 -3zM310.7 333.2h3l-1.5 -3zM311.1 334.0h3l-1.5 -3zM311.6 335.1h3l-1.5 -3zM312.0 335.0h3l-1.5 -3zM312.5 331.2h3l-1.5 -3zM312.9 330.6h3l-1.5 -3zM313.4 334.5h3l-1.5 -3zM313.8 335.2h3l-1.5 -3zM314.3 331.6h3l-1.5 -3zM314.7 335.5h3l-1.5 -3zM315.2 335.1h3l-1.5 -3zM315.6 331.6h3l-1.5 -3zM316.1 331.6h3l-1.5 -3zM316.5 334.7h3l-1.5 -3zM317.0 334.5h3l-1.5 -3zM317.4 331.8h3l-1.5 -3zM317.9 336.4h3l-1.5 -3zM318.3 332.3h3l-1.5 -3zM318.8 335.9h3l-1.5 -3zM319.2 336.5h3l-1.5 -3zM319.7 331.2h3l-1.5 -3zM320.1 334.7h3l-1.5 -3zM320.6 333.6h3l-1.5 -3zM321.0 335.8h3l-1.5 -3zM321.5 332.6h3l-1.5 -3zM321.9 332.3h3l-1.5 -3zM322.4 330.9h3l-1.5 -3zM322.8 334.9h3l-1.5 -3zM323.3 331.2h3l-1.5 -3zM323.7 335.1h3l-1.5 -3zM324.2 328.9h3l-1.5 -3zM146.2 273.4h3l-1.5 -3zM146.6 271.0h3l-1.5 -3zM147.0 275.5h3l-1.5 -3zM147.5 277.9h3l-1.5 -3zM147.9 277.2h3l-1.5 -3zM148.4 279.8h3l-1.5 -3zM148.8 280.9h3l-1.5 -3zM149.3 281.6h3l-1.5 -3zM149.7 285.2h3l-1.5 -3zM150.2 286.1h3l-1.5 -3zM150.6 288.3h3l-1.5 -3zM151.1 288.3h3l-1.5 -3zM151.5 289.7h3l-1.5 -3zM152.0 291.0h3l-1.5 -3zM152.4 293.3h3l-1.5 -3zM152.9 292.8h3l-1.5 -3zM153.3 293.9h3l-1.5 -3zM153.8 295.8h3l-1.5 -3zM154.2 296.9h3l-1.5 -3zM154.7 298.9h3l-1.5 -3zM155.1 300.1h3l-1.5 -3zM155.6 300.0h3l-1.5 -3zM156.0 302.0h3l-1.5 -3zM156.5 301.7h3l-1.5 -3zM156.9 303.0h3l-1.5 -3zM157.4 303.2h3l-1.5 -3zM157.8 302.5h3l-1.5 -3zM158.3 303.7h3l-1.5 -3zM158.7 304.1h3l-1.5 -3zM159.2 304.6h3l-1.5 -3zM159.6 305.3h3l-1.5 -3zM160.1 306.0h3l-1.5 -3zM160.5 305.9h3l-1.5 -3zM161.0 306.5h3l-1.5 -3zM161.4 306.8h3l-1.5 -3zM161.9 306.1h3l-1.5 -3zM162.3 304.8h3l-1.5 -3zM162.8 304.3h3l-1.5 -3zM163.2 304.2h3l-1.5 -3zM163.7 305.2h3l-1.5 -3zM164.1 303.8h3l-1.5 -3zM164.6 305.3h3l-1.5 -3zM165.0 306.0h3l-1.5 -3zM165.5 306.0h3l-1.5 -3zM165.9 305.9h3l-1.5 -3zM166.4 307.2h3l-1.5 -3zM166.8 307.2h3l-1.5 -3zM167.3 308.6h3l-1.5 -3zM167.7 308.2h3l-1.5 -3zM168.2 309.0h3l-1.5 -3zM168.6 309.6h3l-1.5 -3zM169.1 310.0h3l-1.5 -3zM169.5 309.6h3l-1.5 -3zM170.0 310.1h3l-1.5 -3zM170.4 309.6h3l-1.5 -3zM170.9 309.8h3l-1.5 -3zM171.3 309.7h3l-1.5 -3zM171.8 308.3h3l-1.5 -3zM172.2 308.4h3l-1.5 -3zM172.7 307.9h3l-1.5 -3zM173.1 309.1h3l-1.5 -3zM173.6 307.9h3l-1.5 -3zM174.0 307.5h3l-1.5 -3zM174.5 308.3h3l-1.5 -3zM174.9 307.7h3l-1.5 -3zM175.4 307.6h3l-1.5 -3zM175.8 306.6h3l-1.5 -3zM176.3 305.4h3l-1.5 -3zM176.7 305.3h3l-1.5 -3zM177.2 304.2h3l-1.5 -3zM177.6 304.3h3l-1.5 -3zM178.1 303.9h3l-1.5 -3zM178.5 303.4h3l-1.5 -3zM179.0 303.9h3l-1.5 -3zM179.4 302.4h3l-1.5 -3zM179.9 301.2h3l-1.5 -3zM180.3 300.6h3l-1.5 -3zM180.8 301.1h3l-1.5 -3zM181.2 300.2h3l-1.5 -3zM181.7 299.5h3l-1.5 -3zM182.1 299.1h3l-1.5 -3zM182.6 298.4h3l-1.5 -3zM183.0 298.4h3l-1.5 -3zM183.5 297.7h3l-1.5 -3zM183.9 296.1h3l-1.5 -3zM184.4 296.4h3l-1.5 -3zM184.8 295.4h3l-1.5 -3zM185.3 295.5h3l-1.5 -3zM185.7 294.7h3l-1.5 -3zM186.2 294.8h3l-1.5 -3zM186.6 294.6h3l-1.5 -3zM187.1 293.7h3l-1.5 -3zM187.5 292.9h3l-1.5 -3zM188.0 292.1h3l-1.5 -3zM188.4 290.8h3l-1.5 -3zM188.9 291.7h3l-1.5 -3zM189.3 290.3h3l-1.5 -3zM189.8 290.4h3l-1.5 -3zM190.2 290.5h3l-1.5 -3zM190.7 289.6h3l-1.5 -3zM191.1 290.5h3l-1.5 -3zM191.6 289.6h3l-1.5 -3zM192.0 290.2h3l-1.5 -3zM192.5 288.0h3l-1.5 -3zM192.9 288.6h3l-1.5 -3zM193.4 288.0h3l-1.5 -3zM193.8 288.2h3l-1.5 -3zM194.3 288.1h3l-1.5 -3zM194.7 287.7h3l-1.5 -3zM195.2 288.1h3l-1.5 -3zM195.6 286.8h3l-1.5 -3zM196.1 286.4h3l-1.5 -3zM196.5 286.8h3l-1.5 -3zM197.0 286.2h3l-1.5 -3zM197.4 285.3h3l-1.5 -3zM197.9 286.2h3l-1.5 -3zM198.3 284.4h3l-1.5 -3zM198.8 283.7h3l-1.5 -3zM199.2 284.3h3l-1.5 -3zM199.7 284.6h3l-1.5 -3zM200.1 284.1h3l-1.5 -3zM200.6 283.7h3l-1.5 -3zM201.0 282.9h3l-1.5 -3zM201.5 282.3h3l-1.5 -3zM201.9 281.5h3l-1.5 -3zM202.4 280.8h3l-1.5 -3zM202.8 281.0h3l-1.5 -3zM203.3 281.4h3l-1.5 -3zM203.7 280.5h3l-1.5 -3zM204.2 280.9h3l-1.5 -3zM204.6 280.2h3l-1.5 -3zM205.1 279.2h3l-1.5 -3zM205.5 278.9h3l-1.5 -3zM206.0 278.1h3l-1.5 -3zM206.4 278.7h3l-1.5 -3zM206.9 278.1h3l-1.5 -3zM207.3 276.3h3l-1.5 -3zM207.8 277.3h3l-1.5 -3zM208.2 276.4h3l-1.5 -3zM208.7 275.4h3l-1.5 -3zM209.1 275.8h3l-1.5 -3zM209.6 275.2h3l-1.5 -3zM210.0 275.9h3l-1.5 -3zM210.5 275.7h3l-1.5 -3zM210.9 276.0h3l-1.5 -3zM211.4 276.7h3l-1.5 -3zM211.8 276.8h3l-1.5 -3zM212.3 276.1h3l-1.5 -3zM212.7 276.1h3l-1.5 -3zM213.2 276.8h3l-1.5 -3zM213.6 276.7h3l-1.5 -3zM214.1 275.2h3l-1.5 -3zM214.5 275.6h3l-1.5 -3zM215.0 274.7h3l-1.5 -3zM215.4 275.1h3l-1.5 -3zM215.9 273.7h3l-1.5 -3zM216.3 273.6h3l-1.5 -3zM216.8 273.1h3l-1.5 -3zM217.2 272.8h3l-1.5 -3zM217.7 272.9h3l-1.5 -3zM218.1 273.1h3l-1.5 -3zM218.6 272.4h3l-1.5 -3zM219.0 272.4h3l-1.5 -3zM219.5 272.6h3l-1.5 -3zM219.9 271.9h3l-1.5 -3zM220.4 272.0h3l-1.5 -3zM220.8 272.4h3l-1.5 -3zM221.3 271.5h3l-1.5 -3zM221.7 272.6h3l-1.5 -3zM222.2 272.9h3l-1.5 -3zM222.6 272.9h3l-1.5 -3zM223.1 271.2h3l-1.5 -3zM223.5 272.9h3l-1.5 -3zM224.0 271.0h3l-1.5 -3zM224.4 270.4h3l-1.5 -3zM224.9 270.9h3l-1.5 -3zM225.3 269.9h3l-1.5 -3zM225.8 269.2h3l-1.5 -3zM226.2 269.6h3l-1.5 -3zM226.7 269.0h3l-1.5 -3zM227.1 268.5h3l-1.5 -3zM227.6 268.0h3l-1.5 -3zM228.0 267.8h3l-1.5 -3zM228.5 267.7h3l-1.5 -3zM228.9 267.1h3l-1.5 -3zM229.4 267.0h3l-1.5 -3zM229.8 267.3h3l-1.5 -3zM230.3 266.5h3l-1.5 -3zM230.7 267.0h3l-1.5 -3zM231.2 265.6h3l-1.5 -3zM231.6 265.5h3l-1.5 -3zM232.1 266.6h3l-1.5 -3zM232.5 267.3h3l-1.5 -3zM233.0 265.9h3l-1.5 -3zM233.4 268.4h3l-1.5 -3zM233.9 266.1h3l-1.5 -3zM234.3 266.8h3l-1.5 -3zM234.8 266.8h3l-1.5 -3zM235.2 268.8h3l-1.5 -3zM235.7 265.6h3l-1.5 -3zM236.1 266.3h3l-1.5 -3zM236.6 268.3h3l-1.5 -3zM237.0 268.0h3l-1.5 -3zM237.5 268.6h3l-1.5 -3zM237.9 268.6h3l-1.5 -3zM238.4 271.5h3l-1.5 -3zM238.8 270.8h3l-1.5 -3zM239.3 271.8h3l-1.5 -3zM239.7 271.7h3l-1.5 -3zM240.2 273.8h3l-1.5 -3zM240.6 272.7h3l-1.5 -3zM241.1 274.6h3l-1.5 -3zM241.5 274.4h3l-1.5 -3zM242.0 276.3h3l-1.5 -3zM242.4 276.9h3l-1.5 -3zM242.9 279.2h3l-1.5 -3zM243.3 279.2h3l-1.5 -3zM243.8 281.0h3l-1.5 -3zM244.2 280.4h3l-1.5 -3zM244.7 281.8h3l-1.5 -3zM245.1 284.3h3l-1.5 -3zM245.6 284.1h3l-1.5 -3zM246.0 284.4h3l-1.5 -3zM246.5 285.6h3l-1.5 -3zM246.9 286.6h3l-1.5 -3zM247.4 287.6h3l-1.5 -3zM247.8 288.1h3l-1.5 -3zM248.3 288.7h3l-1.5 -3zM248.7 289.8h3l-1.5 -3zM249.2 290.5h3l-1.5 -3zM249.6 290.7h3l-1.5 -3zM250.1 292.5h3l-1.5 -3zM250.5 293.8h3l-1.5 -3zM251.0 295.0h3l-1.5 -3zM251.4 296.5h3l-1.5 -3zM251.9 297.1h3l-1.5 -3zM252.3 297.8h3l-1.5 -3zM252.8 300.6h3l-1.5 -3zM253.2 300.0h3l-1.5 -3zM253.7 301.5h3l-1.5 -3zM254.1 302.6h3l-1.5 -3zM254.6 303.5h3l-1.5 -3zM255.0 304.0h3l-1.5 -3zM255.5 306.3h3l-1.5 -3zM255.9 306.0h3l-1.5 -3zM256.4 307.4h3l-1.5 -3zM256.8 308.4h3l-1.5 -3zM257.3 308.3h3l-1.5 -3zM257.7 309.5h3l-1.5 -3zM258.2 309.3h3l-1.5 -3zM258.6 310.8h3l-1.5 -3zM259.1 311.7h3l-1.5 -3zM259.5 312.5h3l-1.5 -3zM260.0 313.3h3l-1.5 -3zM260.4 312.0h3l-1.5 -3zM260.9 313.3h3l-1.5 -3zM261.3 314.3h3l-1.5 -3zM261.8 314.2h3l-1.5 -3zM262.2 316.0h3l-1.5 -3zM262.7 315.5h3l-1.5 -3zM263.1 316.9h3l-1.5 -3zM263.6 315.6h3l-1.5 -3zM264.0 316.7h3l-1.5 -3zM264.5 317.7h3l-1.5 -3zM264.9 318.4h3l-1.5 -3zM265.4 318.0h3l-1.5 -3zM265.8 319.2h3l-1.5 -3zM266.3 319.3h3l-1.5 -3zM266.7 318.9h3l-1.5 -3zM267.2 319.9h3l-1.5 -3zM267.6 319.9h3l-1.5 -3zM268.1 319.3h3l-1.5 -3zM268.5 321.4h3l-1.5 -3zM269.0 321.7h3l-1.5 -3zM269.4 322.1h3l-1.5 -3zM269.9 321.0h3l-1.5 -3zM270.3 322.6h3l-1.5 -3zM270.8 321.3h3l-1.5 -3zM271.2 322.7h3l-1.5 -3zM271.7 322.7h3l-1.5 -3zM272.1 323.5h3l-1.5 -3zM272.6 323.6h3l-1.5 -3zM273.0 324.4h3l-1.5 -3zM273.5 324.5h3l-1.5 -3zM273.9 325.7h3l-1.5 -3zM274.4 325.8h3l-1.5 -3zM274.8 325.3h3l-1.5 -3zM275.3 325.5h3l-1.5 -3zM275.7 326.0h3l-1.5 -3zM276.2 326.6h3l-1.5 -3zM276.6 327.2h3l-1.5 -3zM277.1 327.8h3l-1.5 -3zM277.5 328.8h3l-1.5 -3zM278.0 329.7h3l-1.5 -3zM278.4 328.4h3l-1.5 -3zM278.9 328.9h3l-1.5 -3zM279.3 329.8h3l-1.5 -3zM279.8 329.0h3l-1.5 -3zM280.2 330.8h3l-1.5 -3zM280.7 329.8h3l-1.5 -3zM281.1 331.5h3l-1.5 -3zM281.6 331.9h3l-1.5 -3zM282.0 331.8h3l-1.5 -3zM282.5 333.6h3l-1.5 -3zM282.9 332.4h3l-1.5 -3zM283.4 332.1h3l-1.5 -3zM283.8 332.6h3l-1.5 -3zM284.3 333.2h3l-1.5 -3zM284.7 335.2h3l-1.5 -3zM285.2 335.7h3l-1.5 -3zM285.6 334.6h3l-1.5 -3zM286.1 337.3h3l-1.5 -3zM286.5 334.5h3l-1.5 -3zM287.0 335.3h3l-1.5 -3zM287.4 337.5h3l-1.5 -3zM287.9 337.9h3l-1.5 -3zM288.3 340.0h3l-1.5 -3zM288.8 337.5h3l-1.5 -3zM289.2 341.9h3l-1.5 -3zM289.7 340.3h3l-1.5 -3zM290.1 340.4h3l-1.5 -3zM290.6 339.3h3l-1.5 -3zM291.0 336.7h3l-1.5 -3zM291.5 338.7h3l-1.5 -3zM291.9 340.7h3l-1.5 -3zM292.4 334.8h3l-1.5 -3zM292.8 336.4h3l-1.5 -3zM293.3 336.1h3l-1.5 -3zM293.7 335.5h3l-1.5 -3zM294.2 338.1h3l-1.5 -3zM294.6 337.1h3l-1.5 -3zM295.1 334.2h3l-1.5 -3zM295.5 336.8h3l-1.5 -3zM296.0 337.4h3l-1.5 -3zM296.4 333.3h3l-1.5 -3zM296.9 333.1h3l-1.5 -3zM297.3 336.0h3l-1.5 -3zM297.8 337.4h3l-1.5 -3zM298.2 335.8h3l-1.5 -3zM298.7 335.5h3l-1.5 -3zM299.1 335.0h3l-1.5 -3zM299.6 335.8h3l-1.5 -3zM300.0 337.6h3l-1.5 -3zM300.5 336.0h3l-1.5 -3zM300.9 336.8h3l-1.5 -3zM301.4 335.3h3l-1.5 -3zM301.8 337.5h3l-1.5 -3zM302.3 336.9h3l-1.5 -3zM302.7 335.5h3l-1.5 -3zM303.2 334.4h3l-1.5 -3zM303.6 334.4h3l-1.5 -3zM304.1 337.9h3l-1.5 -3zM304.5 335.9h3l-1.5 -3zM305.0 332.7h3l-1.5 -3zM305.4 335.0h3l-1.5 -3zM305.9 334.3h3l-1.5 -3zM306.3 335.1h3l-1.5 -3zM306.8 333.2h3l-1.5 -3zM307.2 336.5h3l-1.5 -3zM307.7 334.0h3l-1.5 -3zM308.1 335.8h3l-1.5 -3zM308.6 332.5h3l-1.5 -3zM309.0 335.8h3l-1.5 -3zM309.5 333.8h3l-1.5 -3zM309.9 333.6h3l-1.5 -3zM310.4 332.8h3l-1.5 -3zM310.8 335.6h3l-1.5 -3zM311.3 333.4h3l-1.5 -3zM311.7 333.3h3l-1.5 -3zM312.2 332.4h3l-1.5 -3zM312.6 333.0h3l-1.5 -3zM313.1 332.0h3l-1.5 -3zM313.5 333.0h3l-1.5 -3zM314.0 332.0h3l-1.5 -3zM314.4 331.0h3l-1.5 -3zM314.9 332.7h3l-1.5 -3zM315.3 330.8h3l-1.5 -3zM315.8 334.6h3l-1.5 -3zM316.2 331.3h3l-1.5 -3zM316.7 336.2h3l-1.5 -3zM317.1 332.7h3l-1.5 -3zM317.6 332.5h3l-1.5 -3zM318.0 334.2h3l-1.5 -3zM318.5 332.8h3l-1.5 -3zM318.9 335.2h3l-1.5 -3zM319.4 332.5h3l-1.5 -3zM319.8 336.2h3l-1.5 -3zM320.3 330.5h3l-1.5 -3zM320.7 330.4h3l-1.5 -3zM321.2 335.6h3l-1.5 -3zM321.6 334.2h3l-1.5 -3zM322.1 331.2h3l-1.5 -3zM322.5 333.6h3l-1.5 -3zM323.0 331.6h3l-1.5 -3zM323.4 332.4h3l-1.5 -3zM323.9 330.6h3l-1.5 -3zM324.3 332.3h3l-1.5 -3zM146.3 272.8h3l-1.5 -3zM146.8 275.1h3l-1.5 -3zM147.2 274.1h3l-1.5 -3zM147.6 277.0h3l-1.5 -3zM148.1 278.6h3l-1.5 -3zM148.5 281.2h3l-1.5 -3zM149.0 281.6h3l-1.5 -3zM149.4 284.3h3l-1.5 -3zM149.9 286.0h3l-1.5 -3zM150.3 286.4h3l-1.5 -3zM150.8 288.1h3l-1.5 -3zM151.2 290.6h3l-1.5 -3zM151.7 290.9h3l-1.5 -3zM152.1 291.9h3l-1.5 -3zM152.6 293.6h3l-1.5 -3zM153.0 294.3h3l-1.5 -3zM153.5 295.3h3l-1.5 -3zM153.9 296.7h3l-1.5 -3zM154.4 297.0h3l-1.5 -3zM154.8 298.4h3l-1.5 -3zM155.3 298.8h3l-1.5 -3zM155.7 301.3h3l-1.5 -3zM156.2 302.3h3l-1.5 -3zM156.6 302.6h3l-1.5 -3zM157.1 303.5h3l-1.5 -3zM157.5 303.6h3l-1.5 -3zM158.0 302.7h3l-1.5 -3zM158.4 303.6h3l-1.5 -3zM158.9 305.2h3l-1.5 -3zM159.3 304.1h3l-1.5 -3zM159.8 306.1h3l-1.5 -3zM160.2 306.3h3l-1.5 -3zM160.7 305.5h3l-1.5 -3zM161.1 305.8h3l-1.5 -3zM161.6 306.5h3l-1.5 -3zM162.0 306.0h3l-1.5 -3zM162.5 304.4h3l-1.5 -3zM162.9 305.0h3l-1.5 -3zM163.4 303.9h3l-1.5 -3zM163.8 304.9h3l-1.5 -3zM164.3 304.3h3l-1.5 -3zM164.7 303.8h3l-1.5 -3zM165.2 305.1h3l-1.5 -3zM165.6 304.8h3l-1.5 -3zM166.1 307.1h3l-1.5 -3zM166.5 307.6h3l-1.5 -3zM167.0 307.8h3l-1.5 -3zM167.4 306.9h3l-1.5 -3zM167.9 309.3h3l-1.5 -3zM168.3 308.4h3l-1.5 -3zM168.8 309.7h3l-1.5 -3zM169.2 310.5h3l-1.5 -3zM169.7 310.3h3l-1.5 -3zM170.1 309.1h3l-1.5 -3zM170.6 309.1h3l-1.5 -3zM171.0 309.8h3l-1.5 -3zM171.5 308.3h3l-1.5 -3zM171.9 308.6h3l-1.5 -3zM172.4 309.4h3l-1.5 -3zM172.8 308.1h3l-1.5 -3zM173.3 307.4h3l-1.5 -3zM173.7 308.1h3l-1.5 -3zM174.2 307.2h3l-1.5 -3zM174.6 307.9h3l-1.5 -3zM175.1 306.7h3l-1.5 -3zM175.5 307.4h3l-1.5 -3zM176.0 307.2h3l-1.5 -3zM176.4 305.3h3l-1.5 -3zM176.9 305.5h3l-1.5 -3zM177.3 304.8h3l-1.5 -3zM177.8 303.6h3l-1.5 -3zM178.2 304.6h3l-1.5 -3zM178.7 302.9h3l-1.5 -3zM179.1 302.9h3l-1.5 -3zM179.6 301.3h3l-1.5 -3zM180.0 302.5h3l-1.5 -3zM180.5 302.1h3l-1.5 -3zM180.9 300.9h3l-1.5 -3zM181.4 299.3h3l-1.5 -3zM181.8 299.8h3l-1.5 -3zM182.3 298.9h3l-1.5 -3zM182.7 298.3h3l-1.5 -3zM183.2 297.3h3l-1.5 -3zM183.6 296.6h3l-1.5 -3zM184.1 297.5h3l-1.5 -3zM184.5 296.4h3l-1.5 -3zM185.0 296.2h3l-1.5 -3zM185.4 295.6h3l-1.5 -3zM185.9 294.4h3l-1.5 -3zM186.3 294.2h3l-1.5 -3zM186.8 293.1h3l-1.5 -3zM187.2 293.3h3l-1.5 -3zM187.7 292.3h3l-1.5 -3zM188.1 292.5h3l-1.5 -3zM188.6 291.0h3l-1.5 -3zM189.0 290.9h3l-1.5 -3zM189.5 290.0h3l-1.5 -3zM189.9 289.7h3l-1.5 -3zM190.4 289.7h3l-1.5 -3zM190.8 289.0h3l-1.5 -3zM191.3 289.6h3l-1.5 -3zM191.7 289.2h3l-1.5 -3zM192.2 289.9h3l-1.5 -3zM192.6 287.9h3l-1.5 -3zM193.1 289.5h3l-1.5 -3zM193.5 287.5h3l-1.5 -3zM194.0 288.6h3l-1.5 -3zM194.4 287.4h3l-1.5 -3zM194.9 286.9h3l-1.5 -3zM195.3 287.3h3l-1.5 -3zM195.8 286.5h3l-1.5 -3zM196.2 285.6h3l-1.5 -3zM196.7 285.5h3l-1.5 -3zM197.1 286.3h3l-1.5 -3zM197.6 286.0h3l-1.5 -3zM198.0 286.2h3l-1.5 -3zM198.5 284.3h3l-1.5 -3zM198.9 285.0h3l-1.5 -3zM199.4 283.8h3l-1.5 -3zM199.8 283.7h3l-1.5 -3zM200.3 282.9h3l-1.5 -3zM200.7 282.7h3l-1.5 -3zM201.2 283.4h3l-1.5 -3zM201.6 281.6h3l-1.5 -3zM202.1 281.6h3l-1.5 -3zM202.5 282.2h3l-1.5 -3zM203.0 280.9h3l-1.5 -3zM203.4 281.2h3l-1.5 -3zM203.9 280.3h3l-1.5 -3zM204.3 279.5h3l-1.5 -3zM204.8 279.9h3l-1.5 -3zM205.2 279.3h3l-1.5 -3zM205.7 278.3h3l-1.5 -3zM206.1 279.1h3l-1.5 -3zM206.6 276.9h3l-1.5 -3zM207.0 278.0h3l-1.5 -3zM207.5 277.3h3l-1.5 -3zM207.9 276.8h3l-1.5 -3zM208.4 275.9h3l-1.5 -3zM208.8 276.0h3l-1.5 -3zM209.3 274.4h3l-1.5 -3zM209.7 275.8h3l-1.5 -3zM210.2 276.3h3l-1.5 -3zM210.6 275.5h3l-1.5 -3zM211.1 276.3h3l-1.5 -3zM211.5 276.3h3l-1.5 -3zM212.0 276.1h3l-1.5 -3zM212.4 276.7h3l-1.5 -3zM212.9 276.3h3l-1.5 -3zM213.3 275.7h3l-1.5 -3zM213.8 276.3h3l-1.5 -3zM214.2 276.3h3l-1.5 -3zM214.7 274.8h3l-1.5 -3zM215.1 275.0h3l-1.5 -3zM215.6 275.3h3l-1.5 -3zM216.0 273.3h3l-1.5 -3zM216.5 274.6h3l-1.5 -3zM216.9 273.2h3l-1.5 -3zM217.4 272.8h3l-1.5 -3zM217.8 273.1h3l-1.5 -3zM218.3 272.4h3l-1.5 -3zM218.7 271.7h3l-1.5 -3zM219.2 271.4h3l-1.5 -3zM219.6 271.9h3l-1.5 -3zM220.1 272.9h3l-1.5 -3zM220.5 273.1h3l-1.5 -3zM221.0 272.5h3l-1.5 -3zM221.4 272.5h3l-1.5 -3zM221.9 272.5h3l-1.5 -3zM222.3 272.9h3l-1.5 -3zM222.8 271.4h3l-1.5 -3zM223.2 271.4h3l-1.5 -3zM223.7 272.6h3l-1.5 -3zM224.1 270.5h3l-1.5 -3zM224.6 271.0h3l-1.5 -3zM225.0 270.4h3l-1.5 -3zM225.5 270.9h3l-1.5 -3zM225.9 269.9h3l-1.5 -3zM226.4 268.7h3l-1.5 -3zM226.8 267.9h3l-1.5 -3zM227.3 268.2h3l-1.5 -3zM227.7 268.0h3l-1.5 -3zM228.2 267.3h3l-1.5 -3zM228.6 267.1h3l-1.5 -3zM229.1 265.5h3l-1.5 -3zM229.5 266.2h3l-1.5 -3zM230.0 267.4h3l-1.5 -3zM230.4 266.1h3l-1.5 -3zM230.9 265.8h3l-1.5 -3zM231.3 265.8h3l-1.5 -3zM231.8 268.0h3l-1.5 -3zM232.2 267.9h3l-1.5 -3zM232.7 266.5h3l-1.5 -3zM233.1 266.2h3l-1.5 -3zM233.6 266.4h3l-1.5 -3zM234.0 268.2h3l-1.5 -3zM234.5 268.4h3l-1.5 -3zM234.9 268.7h3l-1.5 -3zM235.4 268.4h3l-1.5 -3zM235.8 267.7h3l-1.5 -3zM236.3 266.0h3l-1.5 -3zM236.7 269.6h3l-1.5 -3zM237.2 267.6h3l-1.5 -3zM237.6 270.1h3l-1.5 -3zM238.1 269.5h3l-1.5 -3zM238.5 269.3h3l-1.5 -3zM239.0 271.6h3l-1.5 -3zM239.4 271.2h3l-1.5 -3zM239.9 273.3h3l-1.5 -3zM240.3 272.4h3l-1.5 -3zM240.8 274.1h3l-1.5 -3zM241.2 274.4h3l-1.5 -3zM241.7 274.7h3l-1.5 -3zM242.1 276.1h3l-1.5 -3zM242.6 277.2h3l-1.5 -3zM243.0 279.2h3l-1.5 -3zM243.5 280.2h3l-1.5 -3zM243.9 281.5h3l-1.5 -3zM244.4 281.0h3l-1.5 -3zM244.8 282.1h3l-1.5 -3zM245.3 283.4h3l-1.5 -3zM245.7 284.3h3l-1.5 -3zM246.2 285.0h3l-1.5 -3zM246.6 286.9h3l-1.5 -3zM247.1 286.1h3l-1.5 -3zM247.5 287.9h3l-1.5 -3zM248.0 287.8h3l-1.5 -3zM248.4 288.9h3l-1.5 -3zM248.9 289.7h3l-1.5 -3zM249.3 290.8h3l-1.5 -3zM249.8 292.5h3l-1.5 -3zM250.2 293.3h3l-1.5 -3zM250.7 293.9h3l-1.5 -3zM251.1 296.3h3l-1.5 -3zM251.6 295.9h3l-1.5 -3zM252.0 297.0h3l-1.5 -3zM252.5 299.1h3l-1.5 -3zM252.9 300.6h3l-1.5 -3zM253.4 301.7h3l-1.5 -3zM253.8 302.2h3l-1.5 -3zM254.3 303.6h3l-1.5 -3zM254.7 303.6h3l-1.5 -3zM255.2 305.9h3l-1.5 -3zM255.6 306.3h3l-1.5 -3zM256.1 307.3h3l-1.5 -3zM256.5 307.7h3l-1.5 -3zM257.0 309.4h3l-1.5 -3zM257.4 309.2h3l-1.5 -3zM257.9 310.8h3l-1.5 -3zM258.3 310.2h3l-1.5 -3zM258.8 311.8h3l-1.5 -3zM259.2 311.0h3l-1.5 -3zM259.7 312.0h3l-1.5 -3zM260.1 312.6h3l-1.5 -3zM260.6 313.1h3l-1.5 -3zM261.0 314.3h3l-1.5 -3zM261.5 314.9h3l-1.5 -3zM261.9 313.9h3l-1.5 -3zM262.4 315.6h3l-1.5 -3zM262.8 315.8h3l-1.5 -3zM263.3 316.0h3l-1.5 -3zM263.7 315.8h3l-1.5 -3zM264.2 318.0h3l-1.5 -3zM264.6 318.5h3l-1.5 -3zM265.1 318.3h3l-1.5 -3zM265.5 318.3h3l-1.5 -3zM266.0 317.6h3l-1.5 -3zM266.4 318.5h3l-1.5 -3zM266.9 318.8h3l-1.5 -3zM267.3 318.6h3l-1.5 -3zM267.8 319.7h3l-1.5 -3zM268.2 320.0h3l-1.5 -3zM268.7 320.5h3l-1.5 -3zM269.1 320.0h3l-1.5 -3zM269.6 320.5h3l-1.5 -3zM270.0 322.8h3l-1.5 -3zM270.5 322.2h3l-1.5 -3zM270.9 321.8h3l-1.5 -3zM271.4 322.7h3l-1.5 -3zM271.8 322.9h3l-1.5 -3zM272.3 323.6h3l-1.5 -3zM272.7 323.3h3l-1.5 -3zM273.2 325.0h3l-1.5 -3zM273.6 325.8h3l-1.5 -3zM274.1 325.5h3l-1.5 -3zM274.5 326.6h3l-1.5 -3zM275.0 326.7h3l-1.5 -3zM275.4 326.4h3l-1.5 -3zM275.9 326.8h3l-1.5 -3zM276.3 327.6h3l-1.5 -3zM276.8 327.2h3l-1.5 -3zM277.2 326.9h3l-1.5 -3zM277.7 328.2h3l-1.5 -3zM278.1 329.4h3l-1.5 -3zM278.6 329.5h3l-1.5 -3zM279.0 328.4h3l-1.5 -3zM279.5 330.6h3l-1.5 -3zM279.9 329.2h3l-1.5 -3zM280.4 330.7h3l-1.5 -3zM280.8 330.3h3l-1.5 -3zM281.3 331.0h3l-1.5 -3zM281.7 331.2h3l-1.5 -3zM282.2 332.5h3l-1.5 -3zM282.6 333.1h3l-1.5 -3zM283.1 333.9h3l-1.5 -3zM283.5 333.4h3l-1.5 -3zM284.0 332.5h3l-1.5 -3zM284.4 332.7h3l-1.5 -3zM284.9 333.1h3l-1.5 -3zM285.3 333.5h3l-1.5 -3zM285.8 334.0h3l-1.5 -3zM286.2 334.9h3l-1.5 -3zM286.7 334.6h3l-1.5 -3zM287.1 338.6h3l-1.5 -3zM287.6 336.5h3l-1.5 -3zM288.0 337.7h3l-1.5 -3zM288.5 340.1h3l-1.5 -3zM288.9 336.8h3l-1.5 -3zM289.4 339.4h3l-1.5 -3zM289.8 336.1h3l-1.5 -3zM290.3 338.9h3l-1.5 -3zM290.7 341.6h3l-1.5 -3zM291.2 338.9h3l-1.5 -3zM291.6 336.9h3l-1.5 -3zM292.1 338.7h3l-1.5 -3zM292.5 337.6h3l-1.5 -3zM293.0 337.3h3l-1.5 -3zM293.4 337.8h3l-1.5 -3zM293.9 338.0h3l-1.5 -3zM294.3 338.6h3l-1.5 -3zM294.8 338.7h3l-1.5 -3zM295.2 338.3h3l-1.5 -3zM295.7 337.2h3l-1.5 -3zM296.1 336.4h3l-1.5 -3zM296.6 337.0h3l-1.5 -3zM297.0 333.9h3l-1.5 -3zM297.5 334.0h3l-1.5 -3zM297.9 337.3h3l-1.5 -3zM298.4 335.2h3l-1.5 -3zM298.8 333.0h3l-1.5 -3zM299.3 336.8h3l-1.5 -3zM299.7 333.6h3l-1.5 -3zM300.2 334.3h3l-1.5 -3zM300.6 337.7h3l-1.5 -3zM301.1 333.9h3l-1.5 -3zM301.5 337.2h3l-1.5 -3zM302.0 334.3h3l-1.5 -3zM302.4 337.1h3l-1.5 -3zM302.9 334.9h3l-1.5 -3zM303.3 335.8h3l-1.5 -3zM303.8 336.4h3l-1.5 -3zM304.2 336.4h3l-1.5 -3zM304.7 333.5h3l-1.5 -3zM305.1 335.9h3l-1.5 -3zM305.6 333.0h3l-1.5 -3zM306.0 333.3h3l-1.5 -3zM306.5 336.0h3l-1.5 -3zM306.9 332.4h3l-1.5 -3zM307.4 333.7h3l-1.5 -3zM307.8 331.9h3l-1.5 -3zM308.3 334.4h3l-1.5 -3zM308.7 331.9h3l-1.5 -3zM309.2 332.8h3l-1.5 -3zM309.6 336.1h3l-1.5 -3zM310.1 333.0h3l-1.5 -3zM310.5 333.2h3l-1.5 -3zM311.0 330.3h3l-1.5 -3zM311.4 331.7h3l-1.5 -3zM311.9 330.9h3l-1.5 -3zM312.3 333.9h3l-1.5 -3zM312.8 331.3h3l-1.5 -3zM313.2 331.4h3l-1.5 -3zM313.7 331.3h3l-1.5 -3zM314.1 334.8h3l-1.5 -3zM314.6 334.4h3l-1.5 -3zM315.0 332.3h3l-1.5 -3zM315.5 332.5h3l-1.5 -3zM315.9 332.3h3l-1.5 -3zM316.4 334.0h3l-1.5 -3zM316.8 334.2h3l-1.5 -3zM317.3 331.7h3l-1.5 -3zM317.7 331.8h3l-1.5 -3zM318.2 334.7h3l-1.5 -3zM318.6 332.6h3l-1.5 -3zM319.1 334.8h3l-1.5 -3zM319.5 331.6h3l-1.5 -3zM320.0 331.0h3l-1.5 -3zM320.4 330.6h3l-1.5 -3zM320.9 335.5h3l-1.5 -3zM321.3 333.3h3l-1.5 -3zM321.8 329.8h3l-1.5 -3zM322.2 331.8h3l-1.5 -3zM322.7 333.5h3l-1.5 -3zM323.1 330.5h3l-1.5 -3zM323.6 334.6h3l-1.5 -3zM324.0 328.7h3l-1.5 -3zM324.5 332.2h3l-1.5 -3zM327.9 328.3h3l-1.5 -3zM330.4 330.8h3l-1.5 -3zM325.3 332.3h3l-1.5 -3zM324.7 331.8h3l-1.5 -3zM329.5 331.5h3l-1.5 -3zM324.6 327.4h3l-1.5 -3zM329.5 332.9h3l-1.5 -3zM326.1 333.5h3l-1.5 -3zM329.4 327.7h3l-1.5 -3zM329.8 327.1h3l-1.5 -3zM326.4 328.5h3l-1.5 -3zM325.8 330.5h3l-1.5 -3zM324.8 333.8h3l-1.5 -3zM325.8 331.8h3l-1.5 -3zM333.7 332.3h3l-1.5 -3zM335.5 329.0h3l-1.5 -3zM337.3 329.5h3l-1.5 -3zM334.6 326.4h3l-1.5 -3zM337.7 330.0h3l-1.5 -3zM334.7 332.9h3l-1.5 -3zM334.7 330.9h3l-1.5 -3zM332.0 327.9h3l-1.5 -3zM336.2 327.1h3l-1.5 -3zM339.5 332.9h3l-1.5 -3zM336.3 330.8h3l-1.5 -3zM332.9 331.2h3l-1.5 -3zM338.2 328.7h3l-1.5 -3zM335.6 330.2h3l-1.5 -3zM332.7 325.4h3l-1.5 -3zM332.1 329.2h3l-1.5 -3zM336.2 331.8h3l-1.5 -3zM332.9 326.3h3l-1.5 -3zM334.3 326.3h3l-1.5 -3zM332.8 328.9h3l-1.5 -3zM336.7 325.8h3l-1.5 -3zM332.1 328.8h3l-1.5 -3zM342.2 320.6h3l-1.5 -3zM343.3 323.2h3l-1.5 -3zM345.7 325.7h3l-1.5 -3zM343.0 320.1h3l-1.5 -3zM342.2 321.3h3l-1.5 -3zM340.2 320.0h3l-1.5 -3zM343.5 323.8h3l-1.5 -3zM340.2 321.0h3l-1.5 -3zM345.9 323.1h3l-1.5 -3zM343.6 321.1h3l-1.5 -3zM345.5 324.2h3l-1.5 -3zM342.1 320.2h3l-1.5 -3zM341.5 319.7h3l-1.5 -3zM339.7 324.6h3l-1.5 -3zM338.9 320.8h3l-1.5 -3zM340.7 325.8h3l-1.5 -3zM339.3 322.2h3l-1.5 -3zM342.3 319.8h3l-1.5 -3zM354.9 317.6h3l-1.5 -3zM353.2 319.9h3l-1.5 -3zM358.0 320.9h3l-1.5 -3zM353.1 320.0h3l-1.5 -3zM353.1 318.5h3l-1.5 -3zM353.2 323.2h3l-1.5 -3zM353.5 319.1h3l-1.5 -3zM351.3 324.1h3l-1.5 -3zM353.1 319.4h3l-1.5 -3zM356.9 325.7h3l-1.5 -3zM354.9 317.6h3l-1.5 -3zM356.9 323.9h3l-1.5 -3zM351.1 319.6h3l-1.5 -3zM356.8 321.3h3l-1.5 -3zM352.2 325.9h3l-1.5 -3zM352.5 318.6h3l-1.5 -3zM301.0 342.1h3l-1.5 -3zM316.5 341.5h3l-1.5 -3zM328.5 336.5h3l-1.5 -3zM328.0 339.5h3l-1.5 -3zM329.5 342.5h3l-1.5 -3zM335.0 336.5h3l-1.5 -3zM340.0 318.5h3l-1.5 -3zM344.5 317.5h3l-1.5 -3zM344.5 328.5h3l-1.5 -3zM347.0 330.5h3l-1.5 -3zM349.0 332.5h3l-1.5 -3zM347.0 335.0h3l-1.5 -3zM351.0 333.0h3l-1.5 -3zM348.5 340.0h3l-1.5 -3zM349.5 345.5h3l-1.5 -3zM349.5 359.0h3l-1.5 -3zM353.5 315.5h3l-1.5 -3zM358.0 316.5h3l-1.5 -3zM356.0 342.0h3l-1.5 -3zM360.0 331.0h3l-1.5 -3zM361.5 334.0h3l-1.5 -3zM366.5 336.5h3l-1.5 -3zM362.0 323.0h3l-1.5 -3zM364.5 324.5h3l-1.5 -3zM366.5 326.5h3l-1.5 -3zM363.0 327.0h3l-1.5 -3zM368.5 324.0h3l-1.5 -3zM371.0 321.5h3l-1.5 -3zM372.5 323.0h3l-1.5 -3zM370.5 324.5h3l-1.5 -3zM374.5 314.5h3l-1.5 -3zM376.0 314.0h3l-1.5 -3zM377.5 316.0h3l-1.5 -3zM374.5 317.0h3l-1.5 -3zM377.5 318.5h3l-1.5 -3zM379.0 319.0h3l-1.5 -3zM380.0 315.5h3l-1.5 -3zM379.0 323.0h3l-1.5 -3zM383.0 307.0h3l-1.5 -3zM384.5 308.0h3l-1.5 -3zM381.5 310.0h3l-1.5 -3zM382.0 312.0h3l-1.5 -3zM386.0 310.5h3l-1.5 -3zM387.5 312.0h3l-1.5 -3zM390.5 314.2h3l-1.5 -3zM392.5 312.5h3l-1.5 -3zM395.5 310.5h3l-1.5 -3zM397.5 306.5h3l-1.5 -3zM401.0 302.0h3l-1.5 -3zM403.2 301.3h3l-1.5 -3zM404.5 301.5h3l-1.5 -3zM406.5 304.5h3l-1.5 -3zM409.5 307.5h3l-1.5 -3zM411.5 305.5h3l-1.5 -3zM414.5 302.0h3l-1.5 -3zM416.5 302.0h3l-1.5 -3zM418.2 303.2h3l-1.5 -3zM419.1 298.2h3l-1.5 -3zM421.9 294.3h3l-1.5 -3zM424.8 292.0h3l-1.5 -3zM427.5 288.7h3l-1.5 -3zM429.9 286.8h3l-1.5 -3zM432.2 284.9h3l-1.5 -3zM435.0 284.8h3l-1.5 -3zM437.9 285.9h3l-1.5 -3zM441.5 286.8h3l-1.5 -3zM446.3 288.2h3l-1.5 -3zM450.5 291.0h3l-1.5 -3z"/>
</g>
</g>
<path d="M79.5 80.5h5l2 2v5l-2 2h-5l-2 -2v-5zM81.5 80.5v5M79.5 89.5h5l2 2v5l-2 2h-5l-2 -2v-5zM81.5 89.5v5" stroke="#f00" fill="none"/>
<path d="M72 102.5H87M72 111.5H87M72 138.5H87M72 147.5H87" stroke="#000" fill="none"/>
<path d="M77.5 122.5H86.5L81.5 116.5zM81.5 116.5v4.5M77.5 131.5H86.5L81.5 125.5zM81.5 125.5v4.5" stroke="#00f" fill="none"/>
<g font-family="'Liberation Mono', monospace" fill="#000" shape-rendering="auto" opacity="0.999" text-rendering="geometricPrecision">
<text x="95" y="89.50" font-size="11.5" textLength="56.4" lengthAdjust="spacing" xml:space="preserve">Noise BH</text>
<text x="95" y="98.43" font-size="11.5" textLength="56.4" lengthAdjust="spacing" xml:space="preserve">Noise LH</text>
<text x="95" y="107.36" font-size="11.5" textLength="162.2" lengthAdjust="spacing" xml:space="preserve">SLM.N.STS2 BH  2011.064</text>
<text x="95" y="116.29" font-size="11.5" textLength="35.2" lengthAdjust="spacing" xml:space="preserve">Noise</text>
<text x="95" y="125.22" font-size="11.5" textLength="77.5" lengthAdjust="spacing" xml:space="preserve">Gnd Noise B</text>
<text x="95" y="134.15" font-size="11.5" textLength="77.5" lengthAdjust="spacing" xml:space="preserve">Gnd Noise L</text>
<text x="95" y="143.08" font-size="11.5" textLength="105.8" lengthAdjust="spacing" xml:space="preserve">LOW NOISE MODEL</text>
<text x="95" y="152.01" font-size="11.5" textLength="112.8" lengthAdjust="spacing" xml:space="preserve">HIGH NOISE MODEL</text>
<text transform="translate(68.2 124.8) rotate(-90)" font-family="'Liberation Sans', sans-serif" font-size="7.6" stroke="#000" stroke-width="0.25" x="0.90 4.32 8.64 13.86 17.28 21.60">-60.00</text>
<text transform="translate(68.2 169.8) rotate(-90)" font-family="'Liberation Sans', sans-serif" font-size="7.6" stroke="#000" stroke-width="0.25" x="0.90 4.32 8.64 13.86 17.28 21.60">-80.00</text>
<text transform="translate(68.2 214.8) rotate(-90)" font-family="'Liberation Sans', sans-serif" font-size="7.6" stroke="#000" stroke-width="0.25" x="0.90 4.32 8.64 12.96 18.18 21.60 25.92">-100.00</text>
<text transform="translate(68.2 258.8) rotate(-90)" font-family="'Liberation Sans', sans-serif" font-size="7.6" stroke="#000" stroke-width="0.25" x="0.90 4.32 8.64 12.96 18.18 21.60 25.92">-120.00</text>
<text transform="translate(68.2 303.8) rotate(-90)" font-family="'Liberation Sans', sans-serif" font-size="7.6" stroke="#000" stroke-width="0.25" x="0.90 4.32 8.64 12.96 18.18 21.60 25.92">-140.00</text>
<text transform="translate(68.2 348.8) rotate(-90)" font-family="'Liberation Sans', sans-serif" font-size="7.6" stroke="#000" stroke-width="0.25" x="0.90 4.32 8.64 12.96 18.18 21.60 25.92">-160.00</text>
<text transform="translate(68.2 393.8) rotate(-90)" font-family="'Liberation Sans', sans-serif" font-size="7.6" stroke="#000" stroke-width="0.25" x="0.90 4.32 8.64 12.96 18.18 21.60 25.92">-180.00</text>
<text transform="translate(56.3 393.5) rotate(-90)" font-size="11.3" textLength="273.7" lengthAdjust="spacing" xml:space="preserve">Power Spectral Density (10*LOG M**2/S**4/Hz)</text>
<text font-family="'Liberation Sans', sans-serif" x="64.0 75.9" y="458" font-size="20">10</text>
<text font-family="'Liberation Sans', sans-serif" x="92.7 100.5" y="447" font-size="13.2">-1</text>
<text font-family="'Liberation Sans', sans-serif" x="159.8 171.8" y="458" font-size="20">10</text>
<text font-family="'Liberation Sans', sans-serif" x="186.3" y="447" font-size="13.2">0</text>
<text font-family="'Liberation Sans', sans-serif" x="255.7 267.6" y="458" font-size="20">10</text>
<text font-family="'Liberation Sans', sans-serif" x="282.2" y="447" font-size="13.2">1</text>
<text font-family="'Liberation Sans', sans-serif" x="351.5 363.4" y="458" font-size="20">10</text>
<text font-family="'Liberation Sans', sans-serif" x="378.0" y="447" font-size="13.2">2</text>
<text font-family="'Liberation Sans', sans-serif" x="447.4 459.3" y="458" font-size="20">10</text>
<text font-family="'Liberation Sans', sans-serif" x="473.9" y="447" font-size="13.2">3</text>
<text x="184.5" y="477.5" font-size="17.5" textLength="153" lengthAdjust="spacing" xml:space="preserve">Period (sec)</text>
</g>
</svg>
</body></html>
